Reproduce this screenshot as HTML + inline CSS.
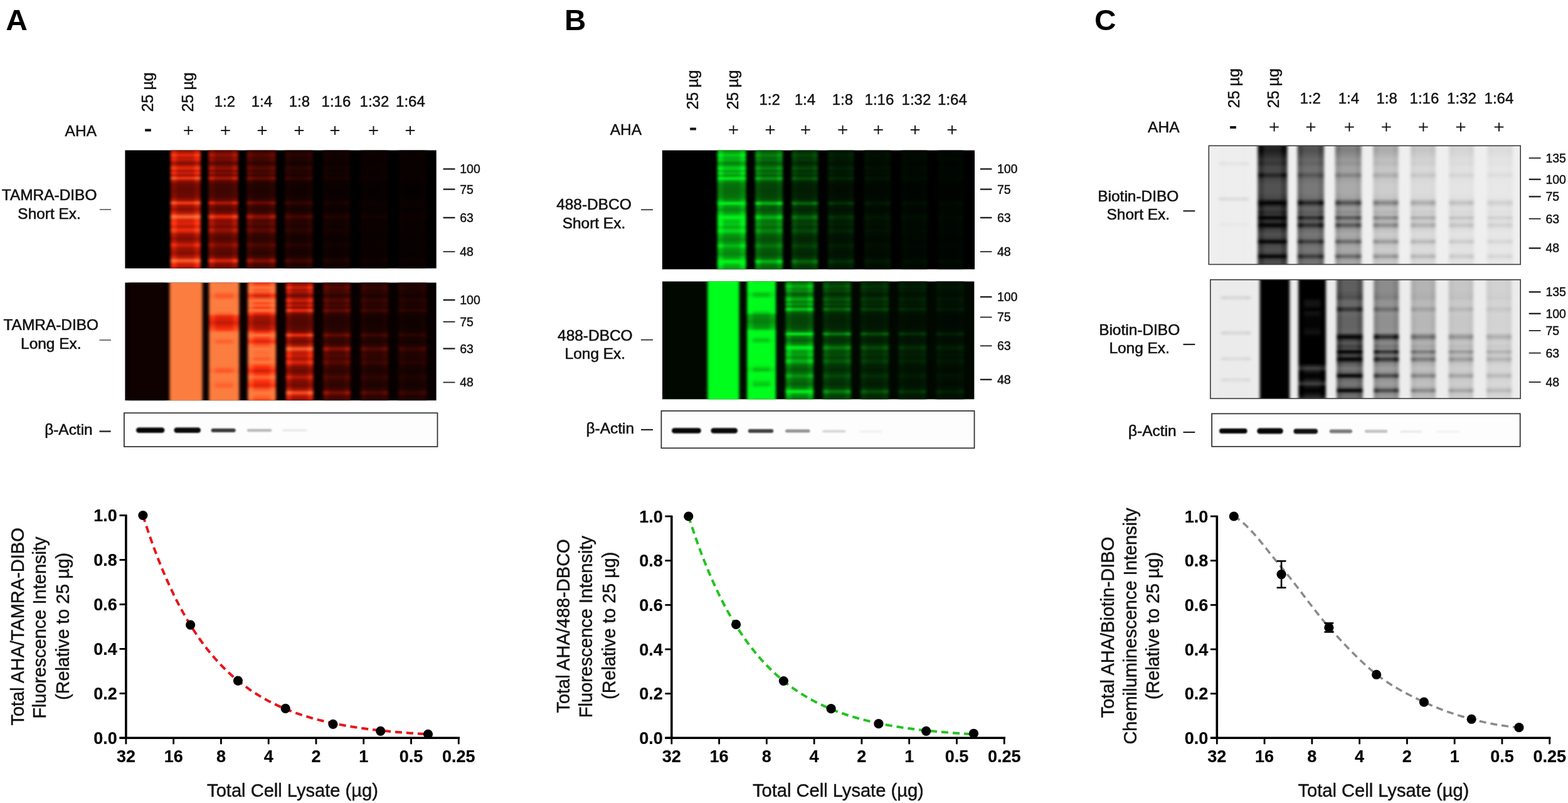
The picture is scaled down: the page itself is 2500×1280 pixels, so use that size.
<!DOCTYPE html>
<html><head><meta charset="utf-8"><title>Figure</title>
<style>html,body{margin:0;padding:0;background:#fff;}svg{display:block;}text{font-family:'Liberation Sans', Arial, sans-serif;}</style>
</head><body>
<svg width="2500" height="1280" viewBox="0 0 2500 1280">
<defs><clipPath id="c1"><rect x="199.40" y="239.50" width="496.30" height="188.30"/></clipPath>
<filter id="f1" x="-5%" y="-5%" width="110%" height="110%" color-interpolation-filters="sRGB"><feGaussianBlur stdDeviation="2.00 1.00"/></filter>
<linearGradient id="g2" x1="0" y1="0" x2="0" y2="1"><stop offset="0.0000" stop-color="#860d02"/><stop offset="0.0213" stop-color="#9f1304"/><stop offset="0.0532" stop-color="#ed260b"/><stop offset="0.0691" stop-color="#b51906"/><stop offset="0.0851" stop-color="#c31c07"/><stop offset="0.1197" stop-color="#7d0c02"/><stop offset="0.1596" stop-color="#ed260b"/><stop offset="0.1809" stop-color="#a71505"/><stop offset="0.2021" stop-color="#d11f08"/><stop offset="0.2181" stop-color="#991204"/><stop offset="0.2420" stop-color="#ff3513"/><stop offset="0.2660" stop-color="#8b0f03"/><stop offset="0.2926" stop-color="#6a0a02"/><stop offset="0.3457" stop-color="#610902"/><stop offset="0.3989" stop-color="#6f0a02"/><stop offset="0.4255" stop-color="#991204"/><stop offset="0.4468" stop-color="#ff3c17"/><stop offset="0.4681" stop-color="#a71505"/><stop offset="0.5000" stop-color="#830d02"/><stop offset="0.5319" stop-color="#b51906"/><stop offset="0.5612" stop-color="#fe6630"/><stop offset="0.5904" stop-color="#d11f08"/><stop offset="0.6223" stop-color="#df2209"/><stop offset="0.6436" stop-color="#b51906"/><stop offset="0.6729" stop-color="#fb290c"/><stop offset="0.7074" stop-color="#991204"/><stop offset="0.7447" stop-color="#7d0c02"/><stop offset="0.7713" stop-color="#991204"/><stop offset="0.7952" stop-color="#d11f08"/><stop offset="0.8245" stop-color="#991204"/><stop offset="0.8670" stop-color="#830d02"/><stop offset="0.8989" stop-color="#b51906"/><stop offset="0.9255" stop-color="#ff5e2b"/><stop offset="0.9521" stop-color="#d11f08"/><stop offset="0.9734" stop-color="#b51906"/><stop offset="1.0000" stop-color="#8b0f03"/></linearGradient>
<linearGradient id="g3" x1="0" y1="0" x2="0" y2="1"><stop offset="0.0000" stop-color="#a61505"/><stop offset="0.0213" stop-color="#c71d08"/><stop offset="0.0532" stop-color="#ff421b"/><stop offset="0.0691" stop-color="#e5240a"/><stop offset="0.0851" stop-color="#f8280b"/><stop offset="0.1197" stop-color="#9a1204"/><stop offset="0.1596" stop-color="#ff421b"/><stop offset="0.1809" stop-color="#d32009"/><stop offset="0.2021" stop-color="#ff3010"/><stop offset="0.2181" stop-color="#c01b07"/><stop offset="0.2420" stop-color="#ff5d2b"/><stop offset="0.2660" stop-color="#ad1706"/><stop offset="0.2926" stop-color="#800c02"/><stop offset="0.3457" stop-color="#750b02"/><stop offset="0.3989" stop-color="#880e03"/><stop offset="0.4255" stop-color="#c01b07"/><stop offset="0.4468" stop-color="#fe632f"/><stop offset="0.4681" stop-color="#d32009"/><stop offset="0.5000" stop-color="#a21405"/><stop offset="0.5319" stop-color="#e5240a"/><stop offset="0.5612" stop-color="#fc7d40"/><stop offset="0.5904" stop-color="#ff3010"/><stop offset="0.6223" stop-color="#ff3915"/><stop offset="0.6436" stop-color="#e5240a"/><stop offset="0.6729" stop-color="#ff4c20"/><stop offset="0.7074" stop-color="#c01b07"/><stop offset="0.7447" stop-color="#9a1204"/><stop offset="0.7713" stop-color="#c01b07"/><stop offset="0.7952" stop-color="#ff3010"/><stop offset="0.8245" stop-color="#c01b07"/><stop offset="0.8670" stop-color="#a21405"/><stop offset="0.8989" stop-color="#e5240a"/><stop offset="0.9255" stop-color="#fc7b3f"/><stop offset="0.9521" stop-color="#ff3010"/><stop offset="0.9734" stop-color="#e5240a"/><stop offset="1.0000" stop-color="#ad1706"/></linearGradient>
<linearGradient id="g4" x1="0" y1="0" x2="0" y2="1"><stop offset="0.0000" stop-color="#540801"/><stop offset="0.0213" stop-color="#630902"/><stop offset="0.0532" stop-color="#931003"/><stop offset="0.0691" stop-color="#710b02"/><stop offset="0.0851" stop-color="#790b02"/><stop offset="0.1197" stop-color="#4f0701"/><stop offset="0.1596" stop-color="#931003"/><stop offset="0.1809" stop-color="#680a02"/><stop offset="0.2021" stop-color="#820c02"/><stop offset="0.2181" stop-color="#600901"/><stop offset="0.2420" stop-color="#ac1605"/><stop offset="0.2660" stop-color="#570801"/><stop offset="0.2926" stop-color="#430601"/><stop offset="0.3457" stop-color="#3d0601"/><stop offset="0.3989" stop-color="#460701"/><stop offset="0.4255" stop-color="#600901"/><stop offset="0.4468" stop-color="#b41806"/><stop offset="0.4681" stop-color="#680a02"/><stop offset="0.5000" stop-color="#520801"/><stop offset="0.5319" stop-color="#710b02"/><stop offset="0.5612" stop-color="#f0260b"/><stop offset="0.5904" stop-color="#820c02"/><stop offset="0.6223" stop-color="#8a0e03"/><stop offset="0.6436" stop-color="#710b02"/><stop offset="0.6729" stop-color="#9b1204"/><stop offset="0.7074" stop-color="#600901"/><stop offset="0.7447" stop-color="#4f0701"/><stop offset="0.7713" stop-color="#600901"/><stop offset="0.7952" stop-color="#820c02"/><stop offset="0.8245" stop-color="#600901"/><stop offset="0.8670" stop-color="#520801"/><stop offset="0.8989" stop-color="#710b02"/><stop offset="0.9255" stop-color="#df2209"/><stop offset="0.9521" stop-color="#820c02"/><stop offset="0.9734" stop-color="#710b02"/><stop offset="1.0000" stop-color="#570801"/></linearGradient>
<linearGradient id="g5" x1="0" y1="0" x2="0" y2="1"><stop offset="0.0000" stop-color="#680a02"/><stop offset="0.0213" stop-color="#7c0c02"/><stop offset="0.0532" stop-color="#bc1a07"/><stop offset="0.0691" stop-color="#8f0f03"/><stop offset="0.0851" stop-color="#9a1204"/><stop offset="0.1197" stop-color="#610902"/><stop offset="0.1596" stop-color="#bc1a07"/><stop offset="0.1809" stop-color="#830d02"/><stop offset="0.2021" stop-color="#a61505"/><stop offset="0.2181" stop-color="#780b02"/><stop offset="0.2420" stop-color="#df2209"/><stop offset="0.2660" stop-color="#6c0a02"/><stop offset="0.2926" stop-color="#510801"/><stop offset="0.3457" stop-color="#4a0701"/><stop offset="0.3989" stop-color="#550801"/><stop offset="0.4255" stop-color="#780b02"/><stop offset="0.4468" stop-color="#ea250a"/><stop offset="0.4681" stop-color="#830d02"/><stop offset="0.5000" stop-color="#650a02"/><stop offset="0.5319" stop-color="#8f0f03"/><stop offset="0.5612" stop-color="#ff471d"/><stop offset="0.5904" stop-color="#a61505"/><stop offset="0.6223" stop-color="#b11806"/><stop offset="0.6436" stop-color="#8f0f03"/><stop offset="0.6729" stop-color="#c81d08"/><stop offset="0.7074" stop-color="#780b02"/><stop offset="0.7447" stop-color="#610902"/><stop offset="0.7713" stop-color="#780b02"/><stop offset="0.7952" stop-color="#a61505"/><stop offset="0.8245" stop-color="#780b02"/><stop offset="0.8670" stop-color="#650a02"/><stop offset="0.8989" stop-color="#8f0f03"/><stop offset="0.9255" stop-color="#ff3c17"/><stop offset="0.9521" stop-color="#a61505"/><stop offset="0.9734" stop-color="#8f0f03"/><stop offset="1.0000" stop-color="#6c0a02"/></linearGradient>
<linearGradient id="g6" x1="0" y1="0" x2="0" y2="1"><stop offset="0.0000" stop-color="#2d0401"/><stop offset="0.0213" stop-color="#370501"/><stop offset="0.0532" stop-color="#560801"/><stop offset="0.0691" stop-color="#400601"/><stop offset="0.0851" stop-color="#450601"/><stop offset="0.1197" stop-color="#2a0401"/><stop offset="0.1596" stop-color="#560801"/><stop offset="0.1809" stop-color="#3a0501"/><stop offset="0.2021" stop-color="#4b0701"/><stop offset="0.2181" stop-color="#350501"/><stop offset="0.2420" stop-color="#660a02"/><stop offset="0.2660" stop-color="#2f0401"/><stop offset="0.2926" stop-color="#220301"/><stop offset="0.3457" stop-color="#1f0300"/><stop offset="0.3989" stop-color="#240301"/><stop offset="0.4255" stop-color="#350501"/><stop offset="0.4468" stop-color="#6c0a02"/><stop offset="0.4681" stop-color="#3a0501"/><stop offset="0.5000" stop-color="#2c0401"/><stop offset="0.5319" stop-color="#400601"/><stop offset="0.5612" stop-color="#921003"/><stop offset="0.5904" stop-color="#4b0701"/><stop offset="0.6223" stop-color="#500801"/><stop offset="0.6436" stop-color="#400601"/><stop offset="0.6729" stop-color="#5b0901"/><stop offset="0.7074" stop-color="#350501"/><stop offset="0.7447" stop-color="#2a0401"/><stop offset="0.7713" stop-color="#350501"/><stop offset="0.7952" stop-color="#4b0701"/><stop offset="0.8245" stop-color="#350501"/><stop offset="0.8670" stop-color="#2c0401"/><stop offset="0.8989" stop-color="#400601"/><stop offset="0.9255" stop-color="#870e03"/><stop offset="0.9521" stop-color="#4b0701"/><stop offset="0.9734" stop-color="#400601"/><stop offset="1.0000" stop-color="#2f0401"/></linearGradient>
<linearGradient id="g7" x1="0" y1="0" x2="0" y2="1"><stop offset="0.0000" stop-color="#380501"/><stop offset="0.0213" stop-color="#450701"/><stop offset="0.0532" stop-color="#6f0a02"/><stop offset="0.0691" stop-color="#510801"/><stop offset="0.0851" stop-color="#590801"/><stop offset="0.1197" stop-color="#340501"/><stop offset="0.1596" stop-color="#6f0a02"/><stop offset="0.1809" stop-color="#4a0701"/><stop offset="0.2021" stop-color="#600902"/><stop offset="0.2181" stop-color="#420601"/><stop offset="0.2420" stop-color="#850d02"/><stop offset="0.2660" stop-color="#3b0601"/><stop offset="0.2926" stop-color="#290401"/><stop offset="0.3457" stop-color="#250301"/><stop offset="0.3989" stop-color="#2c0401"/><stop offset="0.4255" stop-color="#420601"/><stop offset="0.4468" stop-color="#8c0f03"/><stop offset="0.4681" stop-color="#4a0701"/><stop offset="0.5000" stop-color="#370501"/><stop offset="0.5319" stop-color="#510801"/><stop offset="0.5612" stop-color="#c01b07"/><stop offset="0.5904" stop-color="#600902"/><stop offset="0.6223" stop-color="#680a02"/><stop offset="0.6436" stop-color="#510801"/><stop offset="0.6729" stop-color="#760b02"/><stop offset="0.7074" stop-color="#420601"/><stop offset="0.7447" stop-color="#340501"/><stop offset="0.7713" stop-color="#420601"/><stop offset="0.7952" stop-color="#600902"/><stop offset="0.8245" stop-color="#420601"/><stop offset="0.8670" stop-color="#370501"/><stop offset="0.8989" stop-color="#510801"/><stop offset="0.9255" stop-color="#b11806"/><stop offset="0.9521" stop-color="#600902"/><stop offset="0.9734" stop-color="#510801"/><stop offset="1.0000" stop-color="#3b0601"/></linearGradient>
<linearGradient id="g8" x1="0" y1="0" x2="0" y2="1"><stop offset="0.0000" stop-color="#160200"/><stop offset="0.0213" stop-color="#1a0200"/><stop offset="0.0532" stop-color="#280401"/><stop offset="0.0691" stop-color="#1e0300"/><stop offset="0.0851" stop-color="#200301"/><stop offset="0.1197" stop-color="#140200"/><stop offset="0.1596" stop-color="#280401"/><stop offset="0.1809" stop-color="#1c0300"/><stop offset="0.2021" stop-color="#230301"/><stop offset="0.2181" stop-color="#190200"/><stop offset="0.2420" stop-color="#2f0401"/><stop offset="0.2660" stop-color="#170200"/><stop offset="0.2926" stop-color="#110200"/><stop offset="0.3457" stop-color="#0f0100"/><stop offset="0.3989" stop-color="#120200"/><stop offset="0.4255" stop-color="#190200"/><stop offset="0.4468" stop-color="#310501"/><stop offset="0.4681" stop-color="#1c0300"/><stop offset="0.5000" stop-color="#150200"/><stop offset="0.5319" stop-color="#1e0300"/><stop offset="0.5612" stop-color="#430601"/><stop offset="0.5904" stop-color="#230301"/><stop offset="0.6223" stop-color="#250301"/><stop offset="0.6436" stop-color="#1e0300"/><stop offset="0.6729" stop-color="#2a0401"/><stop offset="0.7074" stop-color="#190200"/><stop offset="0.7447" stop-color="#140200"/><stop offset="0.7713" stop-color="#190200"/><stop offset="0.7952" stop-color="#230301"/><stop offset="0.8245" stop-color="#190200"/><stop offset="0.8670" stop-color="#150200"/><stop offset="0.8989" stop-color="#1e0300"/><stop offset="0.9255" stop-color="#3e0601"/><stop offset="0.9521" stop-color="#230301"/><stop offset="0.9734" stop-color="#1e0300"/><stop offset="1.0000" stop-color="#170200"/></linearGradient>
<linearGradient id="g9" x1="0" y1="0" x2="0" y2="1"><stop offset="0.0000" stop-color="#1b0300"/><stop offset="0.0213" stop-color="#210301"/><stop offset="0.0532" stop-color="#330501"/><stop offset="0.0691" stop-color="#260401"/><stop offset="0.0851" stop-color="#290401"/><stop offset="0.1197" stop-color="#190200"/><stop offset="0.1596" stop-color="#330501"/><stop offset="0.1809" stop-color="#230301"/><stop offset="0.2021" stop-color="#2d0401"/><stop offset="0.2181" stop-color="#200300"/><stop offset="0.2420" stop-color="#3d0601"/><stop offset="0.2660" stop-color="#1c0300"/><stop offset="0.2926" stop-color="#140200"/><stop offset="0.3457" stop-color="#120200"/><stop offset="0.3989" stop-color="#160200"/><stop offset="0.4255" stop-color="#200300"/><stop offset="0.4468" stop-color="#410601"/><stop offset="0.4681" stop-color="#230301"/><stop offset="0.5000" stop-color="#1a0200"/><stop offset="0.5319" stop-color="#260401"/><stop offset="0.5612" stop-color="#580801"/><stop offset="0.5904" stop-color="#2d0401"/><stop offset="0.6223" stop-color="#300501"/><stop offset="0.6436" stop-color="#260401"/><stop offset="0.6729" stop-color="#370501"/><stop offset="0.7074" stop-color="#200300"/><stop offset="0.7447" stop-color="#190200"/><stop offset="0.7713" stop-color="#200300"/><stop offset="0.7952" stop-color="#2d0401"/><stop offset="0.8245" stop-color="#200300"/><stop offset="0.8670" stop-color="#1a0200"/><stop offset="0.8989" stop-color="#260401"/><stop offset="0.9255" stop-color="#510801"/><stop offset="0.9521" stop-color="#2d0401"/><stop offset="0.9734" stop-color="#260401"/><stop offset="1.0000" stop-color="#1c0300"/></linearGradient>
<linearGradient id="g10" x1="0" y1="0" x2="0" y2="1"><stop offset="0.0000" stop-color="#0b0100"/><stop offset="0.0213" stop-color="#0d0100"/><stop offset="0.0532" stop-color="#130200"/><stop offset="0.0691" stop-color="#0f0100"/><stop offset="0.0851" stop-color="#100100"/><stop offset="0.1197" stop-color="#0b0100"/><stop offset="0.1596" stop-color="#130200"/><stop offset="0.1809" stop-color="#0e0100"/><stop offset="0.2021" stop-color="#110200"/><stop offset="0.2181" stop-color="#0d0100"/><stop offset="0.2420" stop-color="#160200"/><stop offset="0.2660" stop-color="#0c0100"/><stop offset="0.2926" stop-color="#0a0100"/><stop offset="0.3457" stop-color="#090100"/><stop offset="0.3989" stop-color="#0a0100"/><stop offset="0.4255" stop-color="#0d0100"/><stop offset="0.4468" stop-color="#170200"/><stop offset="0.4681" stop-color="#0e0100"/><stop offset="0.5000" stop-color="#0b0100"/><stop offset="0.5319" stop-color="#0f0100"/><stop offset="0.5612" stop-color="#1d0300"/><stop offset="0.5904" stop-color="#110200"/><stop offset="0.6223" stop-color="#120200"/><stop offset="0.6436" stop-color="#0f0100"/><stop offset="0.6729" stop-color="#140200"/><stop offset="0.7074" stop-color="#0d0100"/><stop offset="0.7447" stop-color="#0b0100"/><stop offset="0.7713" stop-color="#0d0100"/><stop offset="0.7952" stop-color="#110200"/><stop offset="0.8245" stop-color="#0d0100"/><stop offset="0.8670" stop-color="#0b0100"/><stop offset="0.8989" stop-color="#0f0100"/><stop offset="0.9255" stop-color="#1b0300"/><stop offset="0.9521" stop-color="#110200"/><stop offset="0.9734" stop-color="#0f0100"/><stop offset="1.0000" stop-color="#0c0100"/></linearGradient>
<linearGradient id="g11" x1="0" y1="0" x2="0" y2="1"><stop offset="0.0000" stop-color="#0e0100"/><stop offset="0.0213" stop-color="#110200"/><stop offset="0.0532" stop-color="#180200"/><stop offset="0.0691" stop-color="#130200"/><stop offset="0.0851" stop-color="#140200"/><stop offset="0.1197" stop-color="#0d0100"/><stop offset="0.1596" stop-color="#180200"/><stop offset="0.1809" stop-color="#110200"/><stop offset="0.2021" stop-color="#150200"/><stop offset="0.2181" stop-color="#100200"/><stop offset="0.2420" stop-color="#1c0300"/><stop offset="0.2660" stop-color="#0f0100"/><stop offset="0.2926" stop-color="#0c0100"/><stop offset="0.3457" stop-color="#0b0100"/><stop offset="0.3989" stop-color="#0c0100"/><stop offset="0.4255" stop-color="#100200"/><stop offset="0.4468" stop-color="#1d0300"/><stop offset="0.4681" stop-color="#110200"/><stop offset="0.5000" stop-color="#0e0100"/><stop offset="0.5319" stop-color="#130200"/><stop offset="0.5612" stop-color="#260401"/><stop offset="0.5904" stop-color="#150200"/><stop offset="0.6223" stop-color="#170200"/><stop offset="0.6436" stop-color="#130200"/><stop offset="0.6729" stop-color="#190200"/><stop offset="0.7074" stop-color="#100200"/><stop offset="0.7447" stop-color="#0d0100"/><stop offset="0.7713" stop-color="#100200"/><stop offset="0.7952" stop-color="#150200"/><stop offset="0.8245" stop-color="#100200"/><stop offset="0.8670" stop-color="#0e0100"/><stop offset="0.8989" stop-color="#130200"/><stop offset="0.9255" stop-color="#240301"/><stop offset="0.9521" stop-color="#150200"/><stop offset="0.9734" stop-color="#130200"/><stop offset="1.0000" stop-color="#0f0100"/></linearGradient>
<linearGradient id="g12" x1="0" y1="0" x2="0" y2="1"><stop offset="0.0000" stop-color="#080100"/><stop offset="0.0213" stop-color="#090100"/><stop offset="0.0532" stop-color="#0b0100"/><stop offset="0.0691" stop-color="#090100"/><stop offset="0.0851" stop-color="#0a0100"/><stop offset="0.1197" stop-color="#070100"/><stop offset="0.1596" stop-color="#0b0100"/><stop offset="0.1809" stop-color="#090100"/><stop offset="0.2021" stop-color="#0a0100"/><stop offset="0.2181" stop-color="#080100"/><stop offset="0.2420" stop-color="#0d0100"/><stop offset="0.2660" stop-color="#080100"/><stop offset="0.2926" stop-color="#070100"/><stop offset="0.3457" stop-color="#060100"/><stop offset="0.3989" stop-color="#070100"/><stop offset="0.4255" stop-color="#080100"/><stop offset="0.4468" stop-color="#0d0100"/><stop offset="0.4681" stop-color="#090100"/><stop offset="0.5000" stop-color="#080100"/><stop offset="0.5319" stop-color="#090100"/><stop offset="0.5612" stop-color="#110200"/><stop offset="0.5904" stop-color="#0a0100"/><stop offset="0.6223" stop-color="#0b0100"/><stop offset="0.6436" stop-color="#090100"/><stop offset="0.6729" stop-color="#0c0100"/><stop offset="0.7074" stop-color="#080100"/><stop offset="0.7447" stop-color="#070100"/><stop offset="0.7713" stop-color="#080100"/><stop offset="0.7952" stop-color="#0a0100"/><stop offset="0.8245" stop-color="#080100"/><stop offset="0.8670" stop-color="#080100"/><stop offset="0.8989" stop-color="#090100"/><stop offset="0.9255" stop-color="#100100"/><stop offset="0.9521" stop-color="#0a0100"/><stop offset="0.9734" stop-color="#090100"/><stop offset="1.0000" stop-color="#080100"/></linearGradient>
<linearGradient id="g13" x1="0" y1="0" x2="0" y2="1"><stop offset="0.0000" stop-color="#090100"/><stop offset="0.0213" stop-color="#0b0100"/><stop offset="0.0532" stop-color="#0e0100"/><stop offset="0.0691" stop-color="#0c0100"/><stop offset="0.0851" stop-color="#0c0100"/><stop offset="0.1197" stop-color="#090100"/><stop offset="0.1596" stop-color="#0e0100"/><stop offset="0.1809" stop-color="#0b0100"/><stop offset="0.2021" stop-color="#0d0100"/><stop offset="0.2181" stop-color="#0a0100"/><stop offset="0.2420" stop-color="#100200"/><stop offset="0.2660" stop-color="#0a0100"/><stop offset="0.2926" stop-color="#080100"/><stop offset="0.3457" stop-color="#080100"/><stop offset="0.3989" stop-color="#080100"/><stop offset="0.4255" stop-color="#0a0100"/><stop offset="0.4468" stop-color="#110200"/><stop offset="0.4681" stop-color="#0b0100"/><stop offset="0.5000" stop-color="#090100"/><stop offset="0.5319" stop-color="#0c0100"/><stop offset="0.5612" stop-color="#160200"/><stop offset="0.5904" stop-color="#0d0100"/><stop offset="0.6223" stop-color="#0e0100"/><stop offset="0.6436" stop-color="#0c0100"/><stop offset="0.6729" stop-color="#0f0100"/><stop offset="0.7074" stop-color="#0a0100"/><stop offset="0.7447" stop-color="#090100"/><stop offset="0.7713" stop-color="#0a0100"/><stop offset="0.7952" stop-color="#0d0100"/><stop offset="0.8245" stop-color="#0a0100"/><stop offset="0.8670" stop-color="#090100"/><stop offset="0.8989" stop-color="#0c0100"/><stop offset="0.9255" stop-color="#140200"/><stop offset="0.9521" stop-color="#0d0100"/><stop offset="0.9734" stop-color="#0c0100"/><stop offset="1.0000" stop-color="#0a0100"/></linearGradient>
<linearGradient id="g14" x1="0" y1="0" x2="0" y2="1"><stop offset="0.0000" stop-color="#060100"/><stop offset="0.0213" stop-color="#070100"/><stop offset="0.0532" stop-color="#090100"/><stop offset="0.0691" stop-color="#070100"/><stop offset="0.0851" stop-color="#080100"/><stop offset="0.1197" stop-color="#060100"/><stop offset="0.1596" stop-color="#090100"/><stop offset="0.1809" stop-color="#070100"/><stop offset="0.2021" stop-color="#080100"/><stop offset="0.2181" stop-color="#070100"/><stop offset="0.2420" stop-color="#0a0100"/><stop offset="0.2660" stop-color="#060100"/><stop offset="0.2926" stop-color="#050100"/><stop offset="0.3457" stop-color="#050000"/><stop offset="0.3989" stop-color="#050100"/><stop offset="0.4255" stop-color="#070100"/><stop offset="0.4468" stop-color="#0a0100"/><stop offset="0.4681" stop-color="#070100"/><stop offset="0.5000" stop-color="#060100"/><stop offset="0.5319" stop-color="#070100"/><stop offset="0.5612" stop-color="#0d0100"/><stop offset="0.5904" stop-color="#080100"/><stop offset="0.6223" stop-color="#080100"/><stop offset="0.6436" stop-color="#070100"/><stop offset="0.6729" stop-color="#090100"/><stop offset="0.7074" stop-color="#070100"/><stop offset="0.7447" stop-color="#060100"/><stop offset="0.7713" stop-color="#070100"/><stop offset="0.7952" stop-color="#080100"/><stop offset="0.8245" stop-color="#070100"/><stop offset="0.8670" stop-color="#060100"/><stop offset="0.8989" stop-color="#070100"/><stop offset="0.9255" stop-color="#0c0100"/><stop offset="0.9521" stop-color="#080100"/><stop offset="0.9734" stop-color="#070100"/><stop offset="1.0000" stop-color="#060100"/></linearGradient>
<linearGradient id="g15" x1="0" y1="0" x2="0" y2="1"><stop offset="0.0000" stop-color="#070100"/><stop offset="0.0213" stop-color="#080100"/><stop offset="0.0532" stop-color="#0b0100"/><stop offset="0.0691" stop-color="#090100"/><stop offset="0.0851" stop-color="#0a0100"/><stop offset="0.1197" stop-color="#070100"/><stop offset="0.1596" stop-color="#0b0100"/><stop offset="0.1809" stop-color="#090100"/><stop offset="0.2021" stop-color="#0a0100"/><stop offset="0.2181" stop-color="#080100"/><stop offset="0.2420" stop-color="#0d0100"/><stop offset="0.2660" stop-color="#080100"/><stop offset="0.2926" stop-color="#060100"/><stop offset="0.3457" stop-color="#060100"/><stop offset="0.3989" stop-color="#070100"/><stop offset="0.4255" stop-color="#080100"/><stop offset="0.4468" stop-color="#0d0100"/><stop offset="0.4681" stop-color="#090100"/><stop offset="0.5000" stop-color="#070100"/><stop offset="0.5319" stop-color="#090100"/><stop offset="0.5612" stop-color="#110200"/><stop offset="0.5904" stop-color="#0a0100"/><stop offset="0.6223" stop-color="#0b0100"/><stop offset="0.6436" stop-color="#090100"/><stop offset="0.6729" stop-color="#0c0100"/><stop offset="0.7074" stop-color="#080100"/><stop offset="0.7447" stop-color="#070100"/><stop offset="0.7713" stop-color="#080100"/><stop offset="0.7952" stop-color="#0a0100"/><stop offset="0.8245" stop-color="#080100"/><stop offset="0.8670" stop-color="#070100"/><stop offset="0.8989" stop-color="#090100"/><stop offset="0.9255" stop-color="#100100"/><stop offset="0.9521" stop-color="#0a0100"/><stop offset="0.9734" stop-color="#090100"/><stop offset="1.0000" stop-color="#080100"/></linearGradient>
<clipPath id="c16"><rect x="199.40" y="450.50" width="496.20" height="187.80"/></clipPath>
<filter id="f16" x="-5%" y="-5%" width="110%" height="110%" color-interpolation-filters="sRGB"><feGaussianBlur stdDeviation="2.00 1.00"/></filter>
<linearGradient id="g17" x1="0" y1="0" x2="0" y2="1"><stop offset="0.0000" stop-color="#0e0100"/><stop offset="0.0213" stop-color="#0e0100"/><stop offset="0.0532" stop-color="#0e0100"/><stop offset="0.0691" stop-color="#0e0100"/><stop offset="0.0851" stop-color="#0e0100"/><stop offset="0.1197" stop-color="#0e0100"/><stop offset="0.1596" stop-color="#0e0100"/><stop offset="0.1809" stop-color="#0e0100"/><stop offset="0.2021" stop-color="#0e0100"/><stop offset="0.2181" stop-color="#0e0100"/><stop offset="0.2420" stop-color="#0e0100"/><stop offset="0.2660" stop-color="#0e0100"/><stop offset="0.2926" stop-color="#0e0100"/><stop offset="0.3457" stop-color="#0e0100"/><stop offset="0.3989" stop-color="#0e0100"/><stop offset="0.4255" stop-color="#0e0100"/><stop offset="0.4468" stop-color="#0e0100"/><stop offset="0.4681" stop-color="#0e0100"/><stop offset="0.5000" stop-color="#0e0100"/><stop offset="0.5319" stop-color="#0e0100"/><stop offset="0.5612" stop-color="#0e0100"/><stop offset="0.5904" stop-color="#0e0100"/><stop offset="0.6223" stop-color="#0e0100"/><stop offset="0.6436" stop-color="#0e0100"/><stop offset="0.6729" stop-color="#0e0100"/><stop offset="0.7074" stop-color="#0e0100"/><stop offset="0.7447" stop-color="#0e0100"/><stop offset="0.7713" stop-color="#0e0100"/><stop offset="0.7952" stop-color="#0e0100"/><stop offset="0.8245" stop-color="#0e0100"/><stop offset="0.8670" stop-color="#0e0100"/><stop offset="0.8989" stop-color="#0e0100"/><stop offset="0.9255" stop-color="#0e0100"/><stop offset="0.9521" stop-color="#0e0100"/><stop offset="0.9734" stop-color="#0e0100"/><stop offset="1.0000" stop-color="#0e0100"/></linearGradient>
<linearGradient id="g18" x1="0" y1="0" x2="0" y2="1"><stop offset="0.0000" stop-color="#fc7d40"/><stop offset="0.0213" stop-color="#fc7d40"/><stop offset="0.0532" stop-color="#fc7d40"/><stop offset="0.0691" stop-color="#fc7d40"/><stop offset="0.0851" stop-color="#fc7d40"/><stop offset="0.1197" stop-color="#fc7d40"/><stop offset="0.1596" stop-color="#fc7d40"/><stop offset="0.1809" stop-color="#fc7d40"/><stop offset="0.2021" stop-color="#fc7d40"/><stop offset="0.2181" stop-color="#fc7d40"/><stop offset="0.2420" stop-color="#fc7d40"/><stop offset="0.2660" stop-color="#fc7d40"/><stop offset="0.2926" stop-color="#fc7d40"/><stop offset="0.3457" stop-color="#fc7d40"/><stop offset="0.3989" stop-color="#fc7d40"/><stop offset="0.4255" stop-color="#fc7d40"/><stop offset="0.4468" stop-color="#fc7d40"/><stop offset="0.4681" stop-color="#fc7d40"/><stop offset="0.5000" stop-color="#fc7d40"/><stop offset="0.5319" stop-color="#fc7d40"/><stop offset="0.5612" stop-color="#fc7d40"/><stop offset="0.5904" stop-color="#fc7d40"/><stop offset="0.6223" stop-color="#fc7d40"/><stop offset="0.6436" stop-color="#fc7d40"/><stop offset="0.6729" stop-color="#fc7d40"/><stop offset="0.7074" stop-color="#fc7d40"/><stop offset="0.7447" stop-color="#fc7d40"/><stop offset="0.7713" stop-color="#fc7d40"/><stop offset="0.7952" stop-color="#fc7d40"/><stop offset="0.8245" stop-color="#fc7d40"/><stop offset="0.8670" stop-color="#fc7d40"/><stop offset="0.8989" stop-color="#fc7d40"/><stop offset="0.9255" stop-color="#fc7d40"/><stop offset="0.9521" stop-color="#fc7d40"/><stop offset="0.9734" stop-color="#fc7d40"/><stop offset="1.0000" stop-color="#fc7d40"/></linearGradient>
<linearGradient id="g19" x1="0" y1="0" x2="0" y2="1"><stop offset="0.0000" stop-color="#fe632f"/><stop offset="0.0213" stop-color="#fc7d40"/><stop offset="0.0532" stop-color="#fc7d40"/><stop offset="0.0691" stop-color="#fc7d40"/><stop offset="0.0851" stop-color="#fc7d40"/><stop offset="0.1197" stop-color="#ff5224"/><stop offset="0.1596" stop-color="#fc7d40"/><stop offset="0.1809" stop-color="#fc7d40"/><stop offset="0.2021" stop-color="#fc7d40"/><stop offset="0.2181" stop-color="#fc7b3f"/><stop offset="0.2420" stop-color="#fc7d40"/><stop offset="0.2660" stop-color="#fd6c34"/><stop offset="0.2926" stop-color="#eb250a"/><stop offset="0.3457" stop-color="#c01b07"/><stop offset="0.3989" stop-color="#ff2e0f"/><stop offset="0.4255" stop-color="#fc7b3f"/><stop offset="0.4468" stop-color="#fc7d40"/><stop offset="0.4681" stop-color="#fc7d40"/><stop offset="0.5000" stop-color="#ff5f2c"/><stop offset="0.5319" stop-color="#fc7d40"/><stop offset="0.5612" stop-color="#fc7d40"/><stop offset="0.5904" stop-color="#fc7d40"/><stop offset="0.6223" stop-color="#fc7d40"/><stop offset="0.6436" stop-color="#fc7d40"/><stop offset="0.6729" stop-color="#fc7d40"/><stop offset="0.7074" stop-color="#fc7b3f"/><stop offset="0.7447" stop-color="#ff5224"/><stop offset="0.7713" stop-color="#fc7b3f"/><stop offset="0.7952" stop-color="#fc7d40"/><stop offset="0.8245" stop-color="#fc7b3f"/><stop offset="0.8670" stop-color="#ff5f2c"/><stop offset="0.8989" stop-color="#fc7d40"/><stop offset="0.9255" stop-color="#fc7d40"/><stop offset="0.9521" stop-color="#fc7d40"/><stop offset="0.9734" stop-color="#fc7d40"/><stop offset="1.0000" stop-color="#fd6c34"/></linearGradient>
<linearGradient id="g20" x1="0" y1="0" x2="0" y2="1"><stop offset="0.0000" stop-color="#fc7c3f"/><stop offset="0.0213" stop-color="#fc7d40"/><stop offset="0.0532" stop-color="#fc7d40"/><stop offset="0.0691" stop-color="#fc7d40"/><stop offset="0.0851" stop-color="#fc7d40"/><stop offset="0.1197" stop-color="#fd7038"/><stop offset="0.1596" stop-color="#fc7d40"/><stop offset="0.1809" stop-color="#fc7d40"/><stop offset="0.2021" stop-color="#fc7d40"/><stop offset="0.2181" stop-color="#fc7d40"/><stop offset="0.2420" stop-color="#fc7d40"/><stop offset="0.2660" stop-color="#fc7d40"/><stop offset="0.2926" stop-color="#ff3a16"/><stop offset="0.3457" stop-color="#e6240a"/><stop offset="0.3989" stop-color="#ff4e21"/><stop offset="0.4255" stop-color="#fc7d40"/><stop offset="0.4468" stop-color="#fc7d40"/><stop offset="0.4681" stop-color="#fc7d40"/><stop offset="0.5000" stop-color="#fc7a3e"/><stop offset="0.5319" stop-color="#fc7d40"/><stop offset="0.5612" stop-color="#fc7d40"/><stop offset="0.5904" stop-color="#fc7d40"/><stop offset="0.6223" stop-color="#fc7d40"/><stop offset="0.6436" stop-color="#fc7d40"/><stop offset="0.6729" stop-color="#fc7d40"/><stop offset="0.7074" stop-color="#fc7d40"/><stop offset="0.7447" stop-color="#fd7038"/><stop offset="0.7713" stop-color="#fc7d40"/><stop offset="0.7952" stop-color="#fc7d40"/><stop offset="0.8245" stop-color="#fc7d40"/><stop offset="0.8670" stop-color="#fc7a3e"/><stop offset="0.8989" stop-color="#fc7d40"/><stop offset="0.9255" stop-color="#fc7d40"/><stop offset="0.9521" stop-color="#fc7d40"/><stop offset="0.9734" stop-color="#fc7d40"/><stop offset="1.0000" stop-color="#fc7d40"/></linearGradient>
<linearGradient id="g21" x1="0" y1="0" x2="0" y2="1"><stop offset="0.0000" stop-color="#e5240a"/><stop offset="0.0213" stop-color="#ff3b16"/><stop offset="0.0532" stop-color="#fc7b3f"/><stop offset="0.0691" stop-color="#ff5626"/><stop offset="0.0851" stop-color="#fe622e"/><stop offset="0.1197" stop-color="#d01f08"/><stop offset="0.1596" stop-color="#fc7b3f"/><stop offset="0.1809" stop-color="#ff451c"/><stop offset="0.2021" stop-color="#fd6c35"/><stop offset="0.2181" stop-color="#ff3412"/><stop offset="0.2420" stop-color="#fc7d40"/><stop offset="0.2660" stop-color="#f2270b"/><stop offset="0.2926" stop-color="#a11405"/><stop offset="0.3457" stop-color="#8d0f03"/><stop offset="0.3989" stop-color="#af1706"/><stop offset="0.4255" stop-color="#ff3412"/><stop offset="0.4468" stop-color="#fc7d40"/><stop offset="0.4681" stop-color="#ff451c"/><stop offset="0.5000" stop-color="#de2209"/><stop offset="0.5319" stop-color="#ff5626"/><stop offset="0.5612" stop-color="#fc7d40"/><stop offset="0.5904" stop-color="#fd6c35"/><stop offset="0.6223" stop-color="#fc763c"/><stop offset="0.6436" stop-color="#ff5626"/><stop offset="0.6729" stop-color="#fc7d40"/><stop offset="0.7074" stop-color="#ff3412"/><stop offset="0.7447" stop-color="#d01f08"/><stop offset="0.7713" stop-color="#ff3412"/><stop offset="0.7952" stop-color="#fd6c35"/><stop offset="0.8245" stop-color="#ff3412"/><stop offset="0.8670" stop-color="#de2209"/><stop offset="0.8989" stop-color="#ff5626"/><stop offset="0.9255" stop-color="#fc7d40"/><stop offset="0.9521" stop-color="#fd6c35"/><stop offset="0.9734" stop-color="#ff5626"/><stop offset="1.0000" stop-color="#f2270b"/></linearGradient>
<linearGradient id="g22" x1="0" y1="0" x2="0" y2="1"><stop offset="0.0000" stop-color="#ff3a16"/><stop offset="0.0213" stop-color="#ff602d"/><stop offset="0.0532" stop-color="#fc7d40"/><stop offset="0.0691" stop-color="#fc753b"/><stop offset="0.0851" stop-color="#fc7c3f"/><stop offset="0.1197" stop-color="#ff2c0e"/><stop offset="0.1596" stop-color="#fc7d40"/><stop offset="0.1809" stop-color="#fe6832"/><stop offset="0.2021" stop-color="#fc7d40"/><stop offset="0.2181" stop-color="#ff5a28"/><stop offset="0.2420" stop-color="#fc7d40"/><stop offset="0.2660" stop-color="#ff431b"/><stop offset="0.2926" stop-color="#c41c07"/><stop offset="0.3457" stop-color="#a91605"/><stop offset="0.3989" stop-color="#d62009"/><stop offset="0.4255" stop-color="#ff5a28"/><stop offset="0.4468" stop-color="#fc7d40"/><stop offset="0.4681" stop-color="#fe6832"/><stop offset="0.5000" stop-color="#ff3613"/><stop offset="0.5319" stop-color="#fc753b"/><stop offset="0.5612" stop-color="#fc7d40"/><stop offset="0.5904" stop-color="#fc7d40"/><stop offset="0.6223" stop-color="#fc7d40"/><stop offset="0.6436" stop-color="#fc753b"/><stop offset="0.6729" stop-color="#fc7d40"/><stop offset="0.7074" stop-color="#ff5a28"/><stop offset="0.7447" stop-color="#ff2c0e"/><stop offset="0.7713" stop-color="#ff5a28"/><stop offset="0.7952" stop-color="#fc7d40"/><stop offset="0.8245" stop-color="#ff5a28"/><stop offset="0.8670" stop-color="#ff3613"/><stop offset="0.8989" stop-color="#fc753b"/><stop offset="0.9255" stop-color="#fc7d40"/><stop offset="0.9521" stop-color="#fc7d40"/><stop offset="0.9734" stop-color="#fc753b"/><stop offset="1.0000" stop-color="#ff431b"/></linearGradient>
<linearGradient id="g23" x1="0" y1="0" x2="0" y2="1"><stop offset="0.0000" stop-color="#700a02"/><stop offset="0.0213" stop-color="#880e03"/><stop offset="0.0532" stop-color="#d21f08"/><stop offset="0.0691" stop-color="#9d1304"/><stop offset="0.0851" stop-color="#aa1605"/><stop offset="0.1197" stop-color="#680a02"/><stop offset="0.1596" stop-color="#d21f08"/><stop offset="0.1809" stop-color="#901003"/><stop offset="0.2021" stop-color="#b81906"/><stop offset="0.2181" stop-color="#820d02"/><stop offset="0.2420" stop-color="#fa290c"/><stop offset="0.2660" stop-color="#750b02"/><stop offset="0.2926" stop-color="#550801"/><stop offset="0.3457" stop-color="#4d0701"/><stop offset="0.3989" stop-color="#5a0801"/><stop offset="0.4255" stop-color="#820d02"/><stop offset="0.4468" stop-color="#ff2e0f"/><stop offset="0.4681" stop-color="#901003"/><stop offset="0.5000" stop-color="#6d0a02"/><stop offset="0.5319" stop-color="#9d1304"/><stop offset="0.5612" stop-color="#ff5c2a"/><stop offset="0.5904" stop-color="#b81906"/><stop offset="0.6223" stop-color="#c51c07"/><stop offset="0.6436" stop-color="#9d1304"/><stop offset="0.6729" stop-color="#e0230a"/><stop offset="0.7074" stop-color="#820d02"/><stop offset="0.7447" stop-color="#680a02"/><stop offset="0.7713" stop-color="#820d02"/><stop offset="0.7952" stop-color="#b81906"/><stop offset="0.8245" stop-color="#820d02"/><stop offset="0.8670" stop-color="#6d0a02"/><stop offset="0.8989" stop-color="#9d1304"/><stop offset="0.9255" stop-color="#ff4f22"/><stop offset="0.9521" stop-color="#b81906"/><stop offset="0.9734" stop-color="#9d1304"/><stop offset="1.0000" stop-color="#750b02"/></linearGradient>
<linearGradient id="g24" x1="0" y1="0" x2="0" y2="1"><stop offset="0.0000" stop-color="#8b0f03"/><stop offset="0.0213" stop-color="#ab1605"/><stop offset="0.0532" stop-color="#ff3211"/><stop offset="0.0691" stop-color="#c81d08"/><stop offset="0.0851" stop-color="#da2109"/><stop offset="0.1197" stop-color="#800c02"/><stop offset="0.1596" stop-color="#ff3211"/><stop offset="0.1809" stop-color="#b61906"/><stop offset="0.2021" stop-color="#ec260b"/><stop offset="0.2181" stop-color="#a41505"/><stop offset="0.2420" stop-color="#ff4d21"/><stop offset="0.2660" stop-color="#921003"/><stop offset="0.2926" stop-color="#670a02"/><stop offset="0.3457" stop-color="#5c0901"/><stop offset="0.3989" stop-color="#6e0a02"/><stop offset="0.4255" stop-color="#a41505"/><stop offset="0.4468" stop-color="#ff5626"/><stop offset="0.4681" stop-color="#b61906"/><stop offset="0.5000" stop-color="#880e03"/><stop offset="0.5319" stop-color="#c81d08"/><stop offset="0.5612" stop-color="#fc7b3e"/><stop offset="0.5904" stop-color="#ec260b"/><stop offset="0.6223" stop-color="#fe2a0c"/><stop offset="0.6436" stop-color="#c81d08"/><stop offset="0.6729" stop-color="#ff3b16"/><stop offset="0.7074" stop-color="#a41505"/><stop offset="0.7447" stop-color="#800c02"/><stop offset="0.7713" stop-color="#a41505"/><stop offset="0.7952" stop-color="#ec260b"/><stop offset="0.8245" stop-color="#a41505"/><stop offset="0.8670" stop-color="#880e03"/><stop offset="0.8989" stop-color="#c81d08"/><stop offset="0.9255" stop-color="#fd7339"/><stop offset="0.9521" stop-color="#ec260b"/><stop offset="0.9734" stop-color="#c81d08"/><stop offset="1.0000" stop-color="#921003"/></linearGradient>
<linearGradient id="g25" x1="0" y1="0" x2="0" y2="1"><stop offset="0.0000" stop-color="#2e0401"/><stop offset="0.0213" stop-color="#370501"/><stop offset="0.0532" stop-color="#520801"/><stop offset="0.0691" stop-color="#3f0601"/><stop offset="0.0851" stop-color="#430601"/><stop offset="0.1197" stop-color="#2b0401"/><stop offset="0.1596" stop-color="#520801"/><stop offset="0.1809" stop-color="#3a0501"/><stop offset="0.2021" stop-color="#480701"/><stop offset="0.2181" stop-color="#350501"/><stop offset="0.2420" stop-color="#610902"/><stop offset="0.2660" stop-color="#300401"/><stop offset="0.2926" stop-color="#240301"/><stop offset="0.3457" stop-color="#210301"/><stop offset="0.3989" stop-color="#260401"/><stop offset="0.4255" stop-color="#350501"/><stop offset="0.4468" stop-color="#660a02"/><stop offset="0.4681" stop-color="#3a0501"/><stop offset="0.5000" stop-color="#2d0401"/><stop offset="0.5319" stop-color="#3f0601"/><stop offset="0.5612" stop-color="#880e03"/><stop offset="0.5904" stop-color="#480701"/><stop offset="0.6223" stop-color="#4d0701"/><stop offset="0.6436" stop-color="#3f0601"/><stop offset="0.6729" stop-color="#570801"/><stop offset="0.7074" stop-color="#350501"/><stop offset="0.7447" stop-color="#2b0401"/><stop offset="0.7713" stop-color="#350501"/><stop offset="0.7952" stop-color="#480701"/><stop offset="0.8245" stop-color="#350501"/><stop offset="0.8670" stop-color="#2d0401"/><stop offset="0.8989" stop-color="#3f0601"/><stop offset="0.9255" stop-color="#7e0c02"/><stop offset="0.9521" stop-color="#480701"/><stop offset="0.9734" stop-color="#3f0601"/><stop offset="1.0000" stop-color="#300401"/></linearGradient>
<linearGradient id="g26" x1="0" y1="0" x2="0" y2="1"><stop offset="0.0000" stop-color="#390501"/><stop offset="0.0213" stop-color="#450601"/><stop offset="0.0532" stop-color="#6a0a02"/><stop offset="0.0691" stop-color="#4f0701"/><stop offset="0.0851" stop-color="#560801"/><stop offset="0.1197" stop-color="#350501"/><stop offset="0.1596" stop-color="#6a0a02"/><stop offset="0.1809" stop-color="#490701"/><stop offset="0.2021" stop-color="#5d0901"/><stop offset="0.2181" stop-color="#420601"/><stop offset="0.2420" stop-color="#7e0c02"/><stop offset="0.2660" stop-color="#3c0601"/><stop offset="0.2926" stop-color="#2c0401"/><stop offset="0.3457" stop-color="#280401"/><stop offset="0.3989" stop-color="#2f0401"/><stop offset="0.4255" stop-color="#420601"/><stop offset="0.4468" stop-color="#840d02"/><stop offset="0.4681" stop-color="#490701"/><stop offset="0.5000" stop-color="#380501"/><stop offset="0.5319" stop-color="#4f0701"/><stop offset="0.5612" stop-color="#b21806"/><stop offset="0.5904" stop-color="#5d0901"/><stop offset="0.6223" stop-color="#630902"/><stop offset="0.6436" stop-color="#4f0701"/><stop offset="0.6729" stop-color="#700b02"/><stop offset="0.7074" stop-color="#420601"/><stop offset="0.7447" stop-color="#350501"/><stop offset="0.7713" stop-color="#420601"/><stop offset="0.7952" stop-color="#5d0901"/><stop offset="0.8245" stop-color="#420601"/><stop offset="0.8670" stop-color="#380501"/><stop offset="0.8989" stop-color="#4f0701"/><stop offset="0.9255" stop-color="#a51505"/><stop offset="0.9521" stop-color="#5d0901"/><stop offset="0.9734" stop-color="#4f0701"/><stop offset="1.0000" stop-color="#3c0601"/></linearGradient>
<linearGradient id="g27" x1="0" y1="0" x2="0" y2="1"><stop offset="0.0000" stop-color="#1c0300"/><stop offset="0.0213" stop-color="#220301"/><stop offset="0.0532" stop-color="#330501"/><stop offset="0.0691" stop-color="#270401"/><stop offset="0.0851" stop-color="#2a0401"/><stop offset="0.1197" stop-color="#1b0200"/><stop offset="0.1596" stop-color="#330501"/><stop offset="0.1809" stop-color="#240301"/><stop offset="0.2021" stop-color="#2d0401"/><stop offset="0.2181" stop-color="#210301"/><stop offset="0.2420" stop-color="#3c0601"/><stop offset="0.2660" stop-color="#1e0300"/><stop offset="0.2926" stop-color="#160200"/><stop offset="0.3457" stop-color="#140200"/><stop offset="0.3989" stop-color="#180200"/><stop offset="0.4255" stop-color="#210301"/><stop offset="0.4468" stop-color="#3f0601"/><stop offset="0.4681" stop-color="#240301"/><stop offset="0.5000" stop-color="#1c0300"/><stop offset="0.5319" stop-color="#270401"/><stop offset="0.5612" stop-color="#540801"/><stop offset="0.5904" stop-color="#2d0401"/><stop offset="0.6223" stop-color="#300401"/><stop offset="0.6436" stop-color="#270401"/><stop offset="0.6729" stop-color="#360501"/><stop offset="0.7074" stop-color="#210301"/><stop offset="0.7447" stop-color="#1b0200"/><stop offset="0.7713" stop-color="#210301"/><stop offset="0.7952" stop-color="#2d0401"/><stop offset="0.8245" stop-color="#210301"/><stop offset="0.8670" stop-color="#1c0300"/><stop offset="0.8989" stop-color="#270401"/><stop offset="0.9255" stop-color="#4e0701"/><stop offset="0.9521" stop-color="#2d0401"/><stop offset="0.9734" stop-color="#270401"/><stop offset="1.0000" stop-color="#1e0300"/></linearGradient>
<linearGradient id="g28" x1="0" y1="0" x2="0" y2="1"><stop offset="0.0000" stop-color="#230301"/><stop offset="0.0213" stop-color="#2b0401"/><stop offset="0.0532" stop-color="#420601"/><stop offset="0.0691" stop-color="#310501"/><stop offset="0.0851" stop-color="#350501"/><stop offset="0.1197" stop-color="#210301"/><stop offset="0.1596" stop-color="#420601"/><stop offset="0.1809" stop-color="#2d0401"/><stop offset="0.2021" stop-color="#390501"/><stop offset="0.2181" stop-color="#290401"/><stop offset="0.2420" stop-color="#4e0701"/><stop offset="0.2660" stop-color="#250301"/><stop offset="0.2926" stop-color="#1b0300"/><stop offset="0.3457" stop-color="#190200"/><stop offset="0.3989" stop-color="#1d0300"/><stop offset="0.4255" stop-color="#290401"/><stop offset="0.4468" stop-color="#520801"/><stop offset="0.4681" stop-color="#2d0401"/><stop offset="0.5000" stop-color="#220301"/><stop offset="0.5319" stop-color="#310501"/><stop offset="0.5612" stop-color="#6f0a02"/><stop offset="0.5904" stop-color="#390501"/><stop offset="0.6223" stop-color="#3e0601"/><stop offset="0.6436" stop-color="#310501"/><stop offset="0.6729" stop-color="#460701"/><stop offset="0.7074" stop-color="#290401"/><stop offset="0.7447" stop-color="#210301"/><stop offset="0.7713" stop-color="#290401"/><stop offset="0.7952" stop-color="#390501"/><stop offset="0.8245" stop-color="#290401"/><stop offset="0.8670" stop-color="#220301"/><stop offset="0.8989" stop-color="#310501"/><stop offset="0.9255" stop-color="#670a02"/><stop offset="0.9521" stop-color="#390501"/><stop offset="0.9734" stop-color="#310501"/><stop offset="1.0000" stop-color="#250301"/></linearGradient>
<linearGradient id="g29" x1="0" y1="0" x2="0" y2="1"><stop offset="0.0000" stop-color="#140200"/><stop offset="0.0213" stop-color="#180200"/><stop offset="0.0532" stop-color="#230301"/><stop offset="0.0691" stop-color="#1b0300"/><stop offset="0.0851" stop-color="#1d0300"/><stop offset="0.1197" stop-color="#130200"/><stop offset="0.1596" stop-color="#230301"/><stop offset="0.1809" stop-color="#190200"/><stop offset="0.2021" stop-color="#1f0300"/><stop offset="0.2181" stop-color="#170200"/><stop offset="0.2420" stop-color="#290401"/><stop offset="0.2660" stop-color="#150200"/><stop offset="0.2926" stop-color="#110200"/><stop offset="0.3457" stop-color="#0f0100"/><stop offset="0.3989" stop-color="#110200"/><stop offset="0.4255" stop-color="#170200"/><stop offset="0.4468" stop-color="#2b0401"/><stop offset="0.4681" stop-color="#190200"/><stop offset="0.5000" stop-color="#140200"/><stop offset="0.5319" stop-color="#1b0300"/><stop offset="0.5612" stop-color="#380501"/><stop offset="0.5904" stop-color="#1f0300"/><stop offset="0.6223" stop-color="#210301"/><stop offset="0.6436" stop-color="#1b0300"/><stop offset="0.6729" stop-color="#250301"/><stop offset="0.7074" stop-color="#170200"/><stop offset="0.7447" stop-color="#130200"/><stop offset="0.7713" stop-color="#170200"/><stop offset="0.7952" stop-color="#1f0300"/><stop offset="0.8245" stop-color="#170200"/><stop offset="0.8670" stop-color="#140200"/><stop offset="0.8989" stop-color="#1b0300"/><stop offset="0.9255" stop-color="#340501"/><stop offset="0.9521" stop-color="#1f0300"/><stop offset="0.9734" stop-color="#1b0300"/><stop offset="1.0000" stop-color="#150200"/></linearGradient>
<linearGradient id="g30" x1="0" y1="0" x2="0" y2="1"><stop offset="0.0000" stop-color="#190200"/><stop offset="0.0213" stop-color="#1e0300"/><stop offset="0.0532" stop-color="#2d0401"/><stop offset="0.0691" stop-color="#220301"/><stop offset="0.0851" stop-color="#250301"/><stop offset="0.1197" stop-color="#180200"/><stop offset="0.1596" stop-color="#2d0401"/><stop offset="0.1809" stop-color="#200300"/><stop offset="0.2021" stop-color="#270401"/><stop offset="0.2181" stop-color="#1d0300"/><stop offset="0.2420" stop-color="#350501"/><stop offset="0.2660" stop-color="#1a0200"/><stop offset="0.2926" stop-color="#140200"/><stop offset="0.3457" stop-color="#120200"/><stop offset="0.3989" stop-color="#150200"/><stop offset="0.4255" stop-color="#1d0300"/><stop offset="0.4468" stop-color="#370501"/><stop offset="0.4681" stop-color="#200300"/><stop offset="0.5000" stop-color="#190200"/><stop offset="0.5319" stop-color="#220301"/><stop offset="0.5612" stop-color="#4a0701"/><stop offset="0.5904" stop-color="#270401"/><stop offset="0.6223" stop-color="#2a0401"/><stop offset="0.6436" stop-color="#220301"/><stop offset="0.6729" stop-color="#2f0401"/><stop offset="0.7074" stop-color="#1d0300"/><stop offset="0.7447" stop-color="#180200"/><stop offset="0.7713" stop-color="#1d0300"/><stop offset="0.7952" stop-color="#270401"/><stop offset="0.8245" stop-color="#1d0300"/><stop offset="0.8670" stop-color="#190200"/><stop offset="0.8989" stop-color="#220301"/><stop offset="0.9255" stop-color="#440601"/><stop offset="0.9521" stop-color="#270401"/><stop offset="0.9734" stop-color="#220301"/><stop offset="1.0000" stop-color="#1a0200"/></linearGradient>
<clipPath id="c31"><rect x="1055.80" y="239.60" width="498.20" height="189.70"/></clipPath>
<filter id="f31" x="-5%" y="-5%" width="110%" height="110%" color-interpolation-filters="sRGB"><feGaussianBlur stdDeviation="2.00 1.00"/></filter>
<linearGradient id="g32" x1="0" y1="0" x2="0" y2="1"><stop offset="0.0000" stop-color="#06850d"/><stop offset="0.0213" stop-color="#05980f"/><stop offset="0.0532" stop-color="#03d317"/><stop offset="0.0691" stop-color="#05a912"/><stop offset="0.0851" stop-color="#04b313"/><stop offset="0.1197" stop-color="#067e0c"/><stop offset="0.1596" stop-color="#03d317"/><stop offset="0.1809" stop-color="#059e10"/><stop offset="0.2021" stop-color="#04be14"/><stop offset="0.2181" stop-color="#05930f"/><stop offset="0.2420" stop-color="#02f21b"/><stop offset="0.2660" stop-color="#06890e"/><stop offset="0.2926" stop-color="#056f0b"/><stop offset="0.3457" stop-color="#05690a"/><stop offset="0.3989" stop-color="#06740b"/><stop offset="0.4255" stop-color="#05930f"/><stop offset="0.4468" stop-color="#00fe1c"/><stop offset="0.4681" stop-color="#059e10"/><stop offset="0.5000" stop-color="#06830d"/><stop offset="0.5319" stop-color="#05a912"/><stop offset="0.5612" stop-color="#01fc1c"/><stop offset="0.5904" stop-color="#04be14"/><stop offset="0.6223" stop-color="#04c816"/><stop offset="0.6436" stop-color="#05a912"/><stop offset="0.6729" stop-color="#03dd19"/><stop offset="0.7074" stop-color="#05930f"/><stop offset="0.7447" stop-color="#067e0c"/><stop offset="0.7713" stop-color="#05930f"/><stop offset="0.7952" stop-color="#04be14"/><stop offset="0.8245" stop-color="#05930f"/><stop offset="0.8670" stop-color="#06830d"/><stop offset="0.8989" stop-color="#05a912"/><stop offset="0.9255" stop-color="#00fd1c"/><stop offset="0.9521" stop-color="#04be14"/><stop offset="0.9734" stop-color="#05a912"/><stop offset="1.0000" stop-color="#06890e"/></linearGradient>
<linearGradient id="g33" x1="0" y1="0" x2="0" y2="1"><stop offset="0.0000" stop-color="#05a311"/><stop offset="0.0213" stop-color="#04bd14"/><stop offset="0.0532" stop-color="#01fa1c"/><stop offset="0.0691" stop-color="#03d317"/><stop offset="0.0851" stop-color="#03e219"/><stop offset="0.1197" stop-color="#059a10"/><stop offset="0.1596" stop-color="#01fa1c"/><stop offset="0.1809" stop-color="#04c515"/><stop offset="0.2021" stop-color="#02f01b"/><stop offset="0.2181" stop-color="#04b714"/><stop offset="0.2420" stop-color="#00fd1c"/><stop offset="0.2660" stop-color="#05a912"/><stop offset="0.2926" stop-color="#06870d"/><stop offset="0.3457" stop-color="#067e0c"/><stop offset="0.3989" stop-color="#068c0e"/><stop offset="0.4255" stop-color="#04b714"/><stop offset="0.4468" stop-color="#00fe1c"/><stop offset="0.4681" stop-color="#04c515"/><stop offset="0.5000" stop-color="#05a011"/><stop offset="0.5319" stop-color="#03d317"/><stop offset="0.5612" stop-color="#00fe1c"/><stop offset="0.5904" stop-color="#02f01b"/><stop offset="0.6223" stop-color="#02f81c"/><stop offset="0.6436" stop-color="#03d317"/><stop offset="0.6729" stop-color="#01fb1c"/><stop offset="0.7074" stop-color="#04b714"/><stop offset="0.7447" stop-color="#059a10"/><stop offset="0.7713" stop-color="#04b714"/><stop offset="0.7952" stop-color="#02f01b"/><stop offset="0.8245" stop-color="#04b714"/><stop offset="0.8670" stop-color="#05a011"/><stop offset="0.8989" stop-color="#03d317"/><stop offset="0.9255" stop-color="#00fe1c"/><stop offset="0.9521" stop-color="#02f01b"/><stop offset="0.9734" stop-color="#03d317"/><stop offset="1.0000" stop-color="#05a912"/></linearGradient>
<linearGradient id="g34" x1="0" y1="0" x2="0" y2="1"><stop offset="0.0000" stop-color="#045008"/><stop offset="0.0213" stop-color="#045b09"/><stop offset="0.0532" stop-color="#06800c"/><stop offset="0.0691" stop-color="#05660a"/><stop offset="0.0851" stop-color="#056c0a"/><stop offset="0.1197" stop-color="#044c07"/><stop offset="0.1596" stop-color="#06800c"/><stop offset="0.1809" stop-color="#055f09"/><stop offset="0.2021" stop-color="#06730b"/><stop offset="0.2181" stop-color="#045909"/><stop offset="0.2420" stop-color="#05930f"/><stop offset="0.2660" stop-color="#045208"/><stop offset="0.2926" stop-color="#034206"/><stop offset="0.3457" stop-color="#033e06"/><stop offset="0.3989" stop-color="#034507"/><stop offset="0.4255" stop-color="#045909"/><stop offset="0.4468" stop-color="#04c215"/><stop offset="0.4681" stop-color="#055f09"/><stop offset="0.5000" stop-color="#044e08"/><stop offset="0.5319" stop-color="#05660a"/><stop offset="0.5612" stop-color="#04b313"/><stop offset="0.5904" stop-color="#06730b"/><stop offset="0.6223" stop-color="#06790c"/><stop offset="0.6436" stop-color="#05660a"/><stop offset="0.6729" stop-color="#06860d"/><stop offset="0.7074" stop-color="#045909"/><stop offset="0.7447" stop-color="#044c07"/><stop offset="0.7713" stop-color="#045909"/><stop offset="0.7952" stop-color="#06730b"/><stop offset="0.8245" stop-color="#045909"/><stop offset="0.8670" stop-color="#044e08"/><stop offset="0.8989" stop-color="#05660a"/><stop offset="0.9255" stop-color="#04ba14"/><stop offset="0.9521" stop-color="#06730b"/><stop offset="0.9734" stop-color="#05660a"/><stop offset="1.0000" stop-color="#045208"/></linearGradient>
<linearGradient id="g35" x1="0" y1="0" x2="0" y2="1"><stop offset="0.0000" stop-color="#056209"/><stop offset="0.0213" stop-color="#05720b"/><stop offset="0.0532" stop-color="#05a311"/><stop offset="0.0691" stop-color="#06800c"/><stop offset="0.0851" stop-color="#06890e"/><stop offset="0.1197" stop-color="#045d09"/><stop offset="0.1596" stop-color="#05a311"/><stop offset="0.1809" stop-color="#06770b"/><stop offset="0.2021" stop-color="#05910f"/><stop offset="0.2181" stop-color="#056e0b"/><stop offset="0.2420" stop-color="#04bd14"/><stop offset="0.2660" stop-color="#05660a"/><stop offset="0.2926" stop-color="#045008"/><stop offset="0.3457" stop-color="#044b07"/><stop offset="0.3989" stop-color="#045408"/><stop offset="0.4255" stop-color="#056e0b"/><stop offset="0.4468" stop-color="#02f81c"/><stop offset="0.4681" stop-color="#06770b"/><stop offset="0.5000" stop-color="#056009"/><stop offset="0.5319" stop-color="#06800c"/><stop offset="0.5612" stop-color="#03e71a"/><stop offset="0.5904" stop-color="#05910f"/><stop offset="0.6223" stop-color="#059a10"/><stop offset="0.6436" stop-color="#06800c"/><stop offset="0.6729" stop-color="#04ab12"/><stop offset="0.7074" stop-color="#056e0b"/><stop offset="0.7447" stop-color="#045d09"/><stop offset="0.7713" stop-color="#056e0b"/><stop offset="0.7952" stop-color="#05910f"/><stop offset="0.8245" stop-color="#056e0b"/><stop offset="0.8670" stop-color="#056009"/><stop offset="0.8989" stop-color="#06800c"/><stop offset="0.9255" stop-color="#02f11b"/><stop offset="0.9521" stop-color="#05910f"/><stop offset="0.9734" stop-color="#06800c"/><stop offset="1.0000" stop-color="#05660a"/></linearGradient>
<linearGradient id="g36" x1="0" y1="0" x2="0" y2="1"><stop offset="0.0000" stop-color="#022604"/><stop offset="0.0213" stop-color="#022d04"/><stop offset="0.0532" stop-color="#034306"/><stop offset="0.0691" stop-color="#023305"/><stop offset="0.0851" stop-color="#033705"/><stop offset="0.1197" stop-color="#022303"/><stop offset="0.1596" stop-color="#034306"/><stop offset="0.1809" stop-color="#022f05"/><stop offset="0.2021" stop-color="#033b06"/><stop offset="0.2181" stop-color="#022b04"/><stop offset="0.2420" stop-color="#044f08"/><stop offset="0.2660" stop-color="#022704"/><stop offset="0.2926" stop-color="#011e03"/><stop offset="0.3457" stop-color="#011c03"/><stop offset="0.3989" stop-color="#021f03"/><stop offset="0.4255" stop-color="#022b04"/><stop offset="0.4468" stop-color="#056b0a"/><stop offset="0.4681" stop-color="#022f05"/><stop offset="0.5000" stop-color="#022504"/><stop offset="0.5319" stop-color="#023305"/><stop offset="0.5612" stop-color="#056209"/><stop offset="0.5904" stop-color="#033b06"/><stop offset="0.6223" stop-color="#033f06"/><stop offset="0.6436" stop-color="#023305"/><stop offset="0.6729" stop-color="#034707"/><stop offset="0.7074" stop-color="#022b04"/><stop offset="0.7447" stop-color="#022303"/><stop offset="0.7713" stop-color="#022b04"/><stop offset="0.7952" stop-color="#033b06"/><stop offset="0.8245" stop-color="#022b04"/><stop offset="0.8670" stop-color="#022504"/><stop offset="0.8989" stop-color="#023305"/><stop offset="0.9255" stop-color="#05660a"/><stop offset="0.9521" stop-color="#033b06"/><stop offset="0.9734" stop-color="#023305"/><stop offset="1.0000" stop-color="#022704"/></linearGradient>
<linearGradient id="g37" x1="0" y1="0" x2="0" y2="1"><stop offset="0.0000" stop-color="#022f04"/><stop offset="0.0213" stop-color="#033805"/><stop offset="0.0532" stop-color="#045608"/><stop offset="0.0691" stop-color="#034106"/><stop offset="0.0851" stop-color="#034607"/><stop offset="0.1197" stop-color="#022c04"/><stop offset="0.1596" stop-color="#045608"/><stop offset="0.1809" stop-color="#033c06"/><stop offset="0.2021" stop-color="#044b07"/><stop offset="0.2181" stop-color="#033605"/><stop offset="0.2420" stop-color="#05660a"/><stop offset="0.2660" stop-color="#023105"/><stop offset="0.2926" stop-color="#022403"/><stop offset="0.3457" stop-color="#022103"/><stop offset="0.3989" stop-color="#022604"/><stop offset="0.4255" stop-color="#033605"/><stop offset="0.4468" stop-color="#058c0e"/><stop offset="0.4681" stop-color="#033c06"/><stop offset="0.5000" stop-color="#022e04"/><stop offset="0.5319" stop-color="#034106"/><stop offset="0.5612" stop-color="#06800c"/><stop offset="0.5904" stop-color="#044b07"/><stop offset="0.6223" stop-color="#045108"/><stop offset="0.6436" stop-color="#034106"/><stop offset="0.6729" stop-color="#045b09"/><stop offset="0.7074" stop-color="#033605"/><stop offset="0.7447" stop-color="#022c04"/><stop offset="0.7713" stop-color="#033605"/><stop offset="0.7952" stop-color="#044b07"/><stop offset="0.8245" stop-color="#033605"/><stop offset="0.8670" stop-color="#022e04"/><stop offset="0.8989" stop-color="#034106"/><stop offset="0.9255" stop-color="#06860d"/><stop offset="0.9521" stop-color="#044b07"/><stop offset="0.9734" stop-color="#034106"/><stop offset="1.0000" stop-color="#023105"/></linearGradient>
<linearGradient id="g38" x1="0" y1="0" x2="0" y2="1"><stop offset="0.0000" stop-color="#011102"/><stop offset="0.0213" stop-color="#011402"/><stop offset="0.0532" stop-color="#011e03"/><stop offset="0.0691" stop-color="#011702"/><stop offset="0.0851" stop-color="#011902"/><stop offset="0.1197" stop-color="#011002"/><stop offset="0.1596" stop-color="#011e03"/><stop offset="0.1809" stop-color="#011502"/><stop offset="0.2021" stop-color="#011b03"/><stop offset="0.2181" stop-color="#011402"/><stop offset="0.2420" stop-color="#022403"/><stop offset="0.2660" stop-color="#011202"/><stop offset="0.2926" stop-color="#010e01"/><stop offset="0.3457" stop-color="#010c01"/><stop offset="0.3989" stop-color="#010e01"/><stop offset="0.4255" stop-color="#011402"/><stop offset="0.4468" stop-color="#023105"/><stop offset="0.4681" stop-color="#011502"/><stop offset="0.5000" stop-color="#011102"/><stop offset="0.5319" stop-color="#011702"/><stop offset="0.5612" stop-color="#022c04"/><stop offset="0.5904" stop-color="#011b03"/><stop offset="0.6223" stop-color="#011d03"/><stop offset="0.6436" stop-color="#011702"/><stop offset="0.6729" stop-color="#022003"/><stop offset="0.7074" stop-color="#011402"/><stop offset="0.7447" stop-color="#011002"/><stop offset="0.7713" stop-color="#011402"/><stop offset="0.7952" stop-color="#011b03"/><stop offset="0.8245" stop-color="#011402"/><stop offset="0.8670" stop-color="#011102"/><stop offset="0.8989" stop-color="#011702"/><stop offset="0.9255" stop-color="#022e04"/><stop offset="0.9521" stop-color="#011b03"/><stop offset="0.9734" stop-color="#011702"/><stop offset="1.0000" stop-color="#011202"/></linearGradient>
<linearGradient id="g39" x1="0" y1="0" x2="0" y2="1"><stop offset="0.0000" stop-color="#011502"/><stop offset="0.0213" stop-color="#011a02"/><stop offset="0.0532" stop-color="#022704"/><stop offset="0.0691" stop-color="#011d03"/><stop offset="0.0851" stop-color="#022003"/><stop offset="0.1197" stop-color="#011402"/><stop offset="0.1596" stop-color="#022704"/><stop offset="0.1809" stop-color="#011b03"/><stop offset="0.2021" stop-color="#022203"/><stop offset="0.2181" stop-color="#011902"/><stop offset="0.2420" stop-color="#022e04"/><stop offset="0.2660" stop-color="#011602"/><stop offset="0.2926" stop-color="#011002"/><stop offset="0.3457" stop-color="#010f01"/><stop offset="0.3989" stop-color="#011102"/><stop offset="0.4255" stop-color="#011902"/><stop offset="0.4468" stop-color="#034006"/><stop offset="0.4681" stop-color="#011b03"/><stop offset="0.5000" stop-color="#011502"/><stop offset="0.5319" stop-color="#011d03"/><stop offset="0.5612" stop-color="#033a06"/><stop offset="0.5904" stop-color="#022203"/><stop offset="0.6223" stop-color="#022504"/><stop offset="0.6436" stop-color="#011d03"/><stop offset="0.6729" stop-color="#022a04"/><stop offset="0.7074" stop-color="#011902"/><stop offset="0.7447" stop-color="#011402"/><stop offset="0.7713" stop-color="#011902"/><stop offset="0.7952" stop-color="#022203"/><stop offset="0.8245" stop-color="#011902"/><stop offset="0.8670" stop-color="#011502"/><stop offset="0.8989" stop-color="#011d03"/><stop offset="0.9255" stop-color="#033d06"/><stop offset="0.9521" stop-color="#022203"/><stop offset="0.9734" stop-color="#011d03"/><stop offset="1.0000" stop-color="#011602"/></linearGradient>
<linearGradient id="g40" x1="0" y1="0" x2="0" y2="1"><stop offset="0.0000" stop-color="#000a01"/><stop offset="0.0213" stop-color="#010b01"/><stop offset="0.0532" stop-color="#011002"/><stop offset="0.0691" stop-color="#010c01"/><stop offset="0.0851" stop-color="#010d01"/><stop offset="0.1197" stop-color="#000901"/><stop offset="0.1596" stop-color="#011002"/><stop offset="0.1809" stop-color="#010c01"/><stop offset="0.2021" stop-color="#010e01"/><stop offset="0.2181" stop-color="#010b01"/><stop offset="0.2420" stop-color="#011202"/><stop offset="0.2660" stop-color="#000a01"/><stop offset="0.2926" stop-color="#000801"/><stop offset="0.3457" stop-color="#000801"/><stop offset="0.3989" stop-color="#000801"/><stop offset="0.4255" stop-color="#010b01"/><stop offset="0.4468" stop-color="#011802"/><stop offset="0.4681" stop-color="#010c01"/><stop offset="0.5000" stop-color="#000a01"/><stop offset="0.5319" stop-color="#010c01"/><stop offset="0.5612" stop-color="#011602"/><stop offset="0.5904" stop-color="#010e01"/><stop offset="0.6223" stop-color="#010f01"/><stop offset="0.6436" stop-color="#010c01"/><stop offset="0.6729" stop-color="#011102"/><stop offset="0.7074" stop-color="#010b01"/><stop offset="0.7447" stop-color="#000901"/><stop offset="0.7713" stop-color="#010b01"/><stop offset="0.7952" stop-color="#010e01"/><stop offset="0.8245" stop-color="#010b01"/><stop offset="0.8670" stop-color="#000a01"/><stop offset="0.8989" stop-color="#010c01"/><stop offset="0.9255" stop-color="#011702"/><stop offset="0.9521" stop-color="#010e01"/><stop offset="0.9734" stop-color="#010c01"/><stop offset="1.0000" stop-color="#000a01"/></linearGradient>
<linearGradient id="g41" x1="0" y1="0" x2="0" y2="1"><stop offset="0.0000" stop-color="#010c01"/><stop offset="0.0213" stop-color="#010e01"/><stop offset="0.0532" stop-color="#011402"/><stop offset="0.0691" stop-color="#011002"/><stop offset="0.0851" stop-color="#011102"/><stop offset="0.1197" stop-color="#010b01"/><stop offset="0.1596" stop-color="#011402"/><stop offset="0.1809" stop-color="#010f01"/><stop offset="0.2021" stop-color="#011202"/><stop offset="0.2181" stop-color="#010e01"/><stop offset="0.2420" stop-color="#011802"/><stop offset="0.2660" stop-color="#010c01"/><stop offset="0.2926" stop-color="#000a01"/><stop offset="0.3457" stop-color="#000901"/><stop offset="0.3989" stop-color="#000a01"/><stop offset="0.4255" stop-color="#010e01"/><stop offset="0.4468" stop-color="#022003"/><stop offset="0.4681" stop-color="#010f01"/><stop offset="0.5000" stop-color="#010c01"/><stop offset="0.5319" stop-color="#011002"/><stop offset="0.5612" stop-color="#011d03"/><stop offset="0.5904" stop-color="#011202"/><stop offset="0.6223" stop-color="#011302"/><stop offset="0.6436" stop-color="#011002"/><stop offset="0.6729" stop-color="#011502"/><stop offset="0.7074" stop-color="#010e01"/><stop offset="0.7447" stop-color="#010b01"/><stop offset="0.7713" stop-color="#010e01"/><stop offset="0.7952" stop-color="#011202"/><stop offset="0.8245" stop-color="#010e01"/><stop offset="0.8670" stop-color="#010c01"/><stop offset="0.8989" stop-color="#011002"/><stop offset="0.9255" stop-color="#011e03"/><stop offset="0.9521" stop-color="#011202"/><stop offset="0.9734" stop-color="#011002"/><stop offset="1.0000" stop-color="#010c01"/></linearGradient>
<linearGradient id="g42" x1="0" y1="0" x2="0" y2="1"><stop offset="0.0000" stop-color="#000601"/><stop offset="0.0213" stop-color="#000701"/><stop offset="0.0532" stop-color="#000a01"/><stop offset="0.0691" stop-color="#000801"/><stop offset="0.0851" stop-color="#000801"/><stop offset="0.1197" stop-color="#000601"/><stop offset="0.1596" stop-color="#000a01"/><stop offset="0.1809" stop-color="#000701"/><stop offset="0.2021" stop-color="#000901"/><stop offset="0.2181" stop-color="#000701"/><stop offset="0.2420" stop-color="#010b01"/><stop offset="0.2660" stop-color="#000601"/><stop offset="0.2926" stop-color="#000501"/><stop offset="0.3457" stop-color="#000500"/><stop offset="0.3989" stop-color="#000501"/><stop offset="0.4255" stop-color="#000701"/><stop offset="0.4468" stop-color="#010f01"/><stop offset="0.4681" stop-color="#000701"/><stop offset="0.5000" stop-color="#000601"/><stop offset="0.5319" stop-color="#000801"/><stop offset="0.5612" stop-color="#010e01"/><stop offset="0.5904" stop-color="#000901"/><stop offset="0.6223" stop-color="#000901"/><stop offset="0.6436" stop-color="#000801"/><stop offset="0.6729" stop-color="#000a01"/><stop offset="0.7074" stop-color="#000701"/><stop offset="0.7447" stop-color="#000601"/><stop offset="0.7713" stop-color="#000701"/><stop offset="0.7952" stop-color="#000901"/><stop offset="0.8245" stop-color="#000701"/><stop offset="0.8670" stop-color="#000601"/><stop offset="0.8989" stop-color="#000801"/><stop offset="0.9255" stop-color="#010e01"/><stop offset="0.9521" stop-color="#000901"/><stop offset="0.9734" stop-color="#000801"/><stop offset="1.0000" stop-color="#000601"/></linearGradient>
<linearGradient id="g43" x1="0" y1="0" x2="0" y2="1"><stop offset="0.0000" stop-color="#000801"/><stop offset="0.0213" stop-color="#000901"/><stop offset="0.0532" stop-color="#010c01"/><stop offset="0.0691" stop-color="#000a01"/><stop offset="0.0851" stop-color="#010b01"/><stop offset="0.1197" stop-color="#000701"/><stop offset="0.1596" stop-color="#010c01"/><stop offset="0.1809" stop-color="#000901"/><stop offset="0.2021" stop-color="#010b01"/><stop offset="0.2181" stop-color="#000901"/><stop offset="0.2420" stop-color="#010e01"/><stop offset="0.2660" stop-color="#000801"/><stop offset="0.2926" stop-color="#000601"/><stop offset="0.3457" stop-color="#000601"/><stop offset="0.3989" stop-color="#000701"/><stop offset="0.4255" stop-color="#000901"/><stop offset="0.4468" stop-color="#011302"/><stop offset="0.4681" stop-color="#000901"/><stop offset="0.5000" stop-color="#000801"/><stop offset="0.5319" stop-color="#000a01"/><stop offset="0.5612" stop-color="#011102"/><stop offset="0.5904" stop-color="#010b01"/><stop offset="0.6223" stop-color="#010c01"/><stop offset="0.6436" stop-color="#000a01"/><stop offset="0.6729" stop-color="#010d01"/><stop offset="0.7074" stop-color="#000901"/><stop offset="0.7447" stop-color="#000701"/><stop offset="0.7713" stop-color="#000901"/><stop offset="0.7952" stop-color="#010b01"/><stop offset="0.8245" stop-color="#000901"/><stop offset="0.8670" stop-color="#000801"/><stop offset="0.8989" stop-color="#000a01"/><stop offset="0.9255" stop-color="#011202"/><stop offset="0.9521" stop-color="#010b01"/><stop offset="0.9734" stop-color="#000a01"/><stop offset="1.0000" stop-color="#000801"/></linearGradient>
<linearGradient id="g44" x1="0" y1="0" x2="0" y2="1"><stop offset="0.0000" stop-color="#000500"/><stop offset="0.0213" stop-color="#000501"/><stop offset="0.0532" stop-color="#000701"/><stop offset="0.0691" stop-color="#000601"/><stop offset="0.0851" stop-color="#000601"/><stop offset="0.1197" stop-color="#000400"/><stop offset="0.1596" stop-color="#000701"/><stop offset="0.1809" stop-color="#000601"/><stop offset="0.2021" stop-color="#000701"/><stop offset="0.2181" stop-color="#000500"/><stop offset="0.2420" stop-color="#000801"/><stop offset="0.2660" stop-color="#000500"/><stop offset="0.2926" stop-color="#000400"/><stop offset="0.3457" stop-color="#000400"/><stop offset="0.3989" stop-color="#000400"/><stop offset="0.4255" stop-color="#000500"/><stop offset="0.4468" stop-color="#010b01"/><stop offset="0.4681" stop-color="#000601"/><stop offset="0.5000" stop-color="#000500"/><stop offset="0.5319" stop-color="#000601"/><stop offset="0.5612" stop-color="#000a01"/><stop offset="0.5904" stop-color="#000701"/><stop offset="0.6223" stop-color="#000701"/><stop offset="0.6436" stop-color="#000601"/><stop offset="0.6729" stop-color="#000801"/><stop offset="0.7074" stop-color="#000500"/><stop offset="0.7447" stop-color="#000400"/><stop offset="0.7713" stop-color="#000500"/><stop offset="0.7952" stop-color="#000701"/><stop offset="0.8245" stop-color="#000500"/><stop offset="0.8670" stop-color="#000500"/><stop offset="0.8989" stop-color="#000601"/><stop offset="0.9255" stop-color="#010b01"/><stop offset="0.9521" stop-color="#000701"/><stop offset="0.9734" stop-color="#000601"/><stop offset="1.0000" stop-color="#000500"/></linearGradient>
<linearGradient id="g45" x1="0" y1="0" x2="0" y2="1"><stop offset="0.0000" stop-color="#000601"/><stop offset="0.0213" stop-color="#000701"/><stop offset="0.0532" stop-color="#000901"/><stop offset="0.0691" stop-color="#000701"/><stop offset="0.0851" stop-color="#000801"/><stop offset="0.1197" stop-color="#000501"/><stop offset="0.1596" stop-color="#000901"/><stop offset="0.1809" stop-color="#000701"/><stop offset="0.2021" stop-color="#000801"/><stop offset="0.2181" stop-color="#000601"/><stop offset="0.2420" stop-color="#010b01"/><stop offset="0.2660" stop-color="#000601"/><stop offset="0.2926" stop-color="#000500"/><stop offset="0.3457" stop-color="#000400"/><stop offset="0.3989" stop-color="#000500"/><stop offset="0.4255" stop-color="#000601"/><stop offset="0.4468" stop-color="#010e01"/><stop offset="0.4681" stop-color="#000701"/><stop offset="0.5000" stop-color="#000601"/><stop offset="0.5319" stop-color="#000701"/><stop offset="0.5612" stop-color="#010d01"/><stop offset="0.5904" stop-color="#000801"/><stop offset="0.6223" stop-color="#000901"/><stop offset="0.6436" stop-color="#000701"/><stop offset="0.6729" stop-color="#000a01"/><stop offset="0.7074" stop-color="#000601"/><stop offset="0.7447" stop-color="#000501"/><stop offset="0.7713" stop-color="#000601"/><stop offset="0.7952" stop-color="#000801"/><stop offset="0.8245" stop-color="#000601"/><stop offset="0.8670" stop-color="#000601"/><stop offset="0.8989" stop-color="#000701"/><stop offset="0.9255" stop-color="#010e01"/><stop offset="0.9521" stop-color="#000801"/><stop offset="0.9734" stop-color="#000701"/><stop offset="1.0000" stop-color="#000601"/></linearGradient>
<clipPath id="c46"><rect x="1056.00" y="448.60" width="497.30" height="187.80"/></clipPath>
<filter id="f46" x="-5%" y="-5%" width="110%" height="110%" color-interpolation-filters="sRGB"><feGaussianBlur stdDeviation="2.00 1.00"/></filter>
<linearGradient id="g47" x1="0" y1="0" x2="0" y2="1"><stop offset="0.0000" stop-color="#00fe1c"/><stop offset="0.0213" stop-color="#00fe1c"/><stop offset="0.0532" stop-color="#00fe1c"/><stop offset="0.0691" stop-color="#00fe1c"/><stop offset="0.0851" stop-color="#00fe1c"/><stop offset="0.1197" stop-color="#00fe1c"/><stop offset="0.1596" stop-color="#00fe1c"/><stop offset="0.1809" stop-color="#00fe1c"/><stop offset="0.2021" stop-color="#00fe1c"/><stop offset="0.2181" stop-color="#00fe1c"/><stop offset="0.2420" stop-color="#00fe1c"/><stop offset="0.2660" stop-color="#00fe1c"/><stop offset="0.2926" stop-color="#00fe1c"/><stop offset="0.3457" stop-color="#00fe1c"/><stop offset="0.3989" stop-color="#00fe1c"/><stop offset="0.4255" stop-color="#00fe1c"/><stop offset="0.4468" stop-color="#00fe1c"/><stop offset="0.4681" stop-color="#00fe1c"/><stop offset="0.5000" stop-color="#00fe1c"/><stop offset="0.5319" stop-color="#00fe1c"/><stop offset="0.5612" stop-color="#00fe1c"/><stop offset="0.5904" stop-color="#00fe1c"/><stop offset="0.6223" stop-color="#00fe1c"/><stop offset="0.6436" stop-color="#00fe1c"/><stop offset="0.6729" stop-color="#00fe1c"/><stop offset="0.7074" stop-color="#00fe1c"/><stop offset="0.7447" stop-color="#00fe1c"/><stop offset="0.7713" stop-color="#00fe1c"/><stop offset="0.7952" stop-color="#00fe1c"/><stop offset="0.8245" stop-color="#00fe1c"/><stop offset="0.8670" stop-color="#00fe1c"/><stop offset="0.8989" stop-color="#00fe1c"/><stop offset="0.9255" stop-color="#00fe1c"/><stop offset="0.9521" stop-color="#00fe1c"/><stop offset="0.9734" stop-color="#00fe1c"/><stop offset="1.0000" stop-color="#00fe1c"/></linearGradient>
<linearGradient id="g48" x1="0" y1="0" x2="0" y2="1"><stop offset="0.0000" stop-color="#03cc16"/><stop offset="0.0213" stop-color="#02f91c"/><stop offset="0.0532" stop-color="#00fe1c"/><stop offset="0.0691" stop-color="#00fd1c"/><stop offset="0.0851" stop-color="#00fe1c"/><stop offset="0.1197" stop-color="#04ba14"/><stop offset="0.1596" stop-color="#00fe1c"/><stop offset="0.1809" stop-color="#01fa1c"/><stop offset="0.2021" stop-color="#00fe1c"/><stop offset="0.2181" stop-color="#02f71c"/><stop offset="0.2420" stop-color="#00fe1c"/><stop offset="0.2660" stop-color="#03d818"/><stop offset="0.2926" stop-color="#058f0e"/><stop offset="0.3457" stop-color="#067d0c"/><stop offset="0.3989" stop-color="#059b10"/><stop offset="0.4255" stop-color="#02f71c"/><stop offset="0.4468" stop-color="#00fe1c"/><stop offset="0.4681" stop-color="#01fa1c"/><stop offset="0.5000" stop-color="#04c616"/><stop offset="0.5319" stop-color="#00fd1c"/><stop offset="0.5612" stop-color="#00fe1c"/><stop offset="0.5904" stop-color="#00fe1c"/><stop offset="0.6223" stop-color="#00fe1c"/><stop offset="0.6436" stop-color="#00fd1c"/><stop offset="0.6729" stop-color="#00fe1c"/><stop offset="0.7074" stop-color="#02f71c"/><stop offset="0.7447" stop-color="#04ba14"/><stop offset="0.7713" stop-color="#02f71c"/><stop offset="0.7952" stop-color="#00fe1c"/><stop offset="0.8245" stop-color="#02f71c"/><stop offset="0.8670" stop-color="#04c616"/><stop offset="0.8989" stop-color="#00fd1c"/><stop offset="0.9255" stop-color="#00fe1c"/><stop offset="0.9521" stop-color="#00fe1c"/><stop offset="0.9734" stop-color="#00fd1c"/><stop offset="1.0000" stop-color="#03d818"/></linearGradient>
<linearGradient id="g49" x1="0" y1="0" x2="0" y2="1"><stop offset="0.0000" stop-color="#02f91c"/><stop offset="0.0213" stop-color="#00fe1c"/><stop offset="0.0532" stop-color="#00fe1c"/><stop offset="0.0691" stop-color="#00fe1c"/><stop offset="0.0851" stop-color="#00fe1c"/><stop offset="0.1197" stop-color="#03e81a"/><stop offset="0.1596" stop-color="#00fe1c"/><stop offset="0.1809" stop-color="#00fe1c"/><stop offset="0.2021" stop-color="#00fe1c"/><stop offset="0.2181" stop-color="#00fd1c"/><stop offset="0.2420" stop-color="#00fe1c"/><stop offset="0.2660" stop-color="#01fa1c"/><stop offset="0.2926" stop-color="#04ae12"/><stop offset="0.3457" stop-color="#05960f"/><stop offset="0.3989" stop-color="#04bf15"/><stop offset="0.4255" stop-color="#00fd1c"/><stop offset="0.4468" stop-color="#00fe1c"/><stop offset="0.4681" stop-color="#00fe1c"/><stop offset="0.5000" stop-color="#02f81c"/><stop offset="0.5319" stop-color="#00fe1c"/><stop offset="0.5612" stop-color="#00fe1c"/><stop offset="0.5904" stop-color="#00fe1c"/><stop offset="0.6223" stop-color="#00fe1c"/><stop offset="0.6436" stop-color="#00fe1c"/><stop offset="0.6729" stop-color="#00fe1c"/><stop offset="0.7074" stop-color="#00fd1c"/><stop offset="0.7447" stop-color="#03e81a"/><stop offset="0.7713" stop-color="#00fd1c"/><stop offset="0.7952" stop-color="#00fe1c"/><stop offset="0.8245" stop-color="#00fd1c"/><stop offset="0.8670" stop-color="#02f81c"/><stop offset="0.8989" stop-color="#00fe1c"/><stop offset="0.9255" stop-color="#00fe1c"/><stop offset="0.9521" stop-color="#00fe1c"/><stop offset="0.9734" stop-color="#00fe1c"/><stop offset="1.0000" stop-color="#01fa1c"/></linearGradient>
<linearGradient id="g50" x1="0" y1="0" x2="0" y2="1"><stop offset="0.0000" stop-color="#045d09"/><stop offset="0.0213" stop-color="#05700b"/><stop offset="0.0532" stop-color="#04ab12"/><stop offset="0.0691" stop-color="#06810d"/><stop offset="0.0851" stop-color="#068c0e"/><stop offset="0.1197" stop-color="#045608"/><stop offset="0.1596" stop-color="#04ab12"/><stop offset="0.1809" stop-color="#06770b"/><stop offset="0.2021" stop-color="#05960f"/><stop offset="0.2181" stop-color="#056c0a"/><stop offset="0.2420" stop-color="#03cb16"/><stop offset="0.2660" stop-color="#056109"/><stop offset="0.2926" stop-color="#034707"/><stop offset="0.3457" stop-color="#034106"/><stop offset="0.3989" stop-color="#044c07"/><stop offset="0.4255" stop-color="#056c0a"/><stop offset="0.4468" stop-color="#01fb1c"/><stop offset="0.4681" stop-color="#06770b"/><stop offset="0.5000" stop-color="#045b09"/><stop offset="0.5319" stop-color="#06810d"/><stop offset="0.5612" stop-color="#02f81c"/><stop offset="0.5904" stop-color="#05960f"/><stop offset="0.6223" stop-color="#05a111"/><stop offset="0.6436" stop-color="#06810d"/><stop offset="0.6729" stop-color="#04b613"/><stop offset="0.7074" stop-color="#056c0a"/><stop offset="0.7447" stop-color="#045608"/><stop offset="0.7713" stop-color="#056c0a"/><stop offset="0.7952" stop-color="#05960f"/><stop offset="0.8245" stop-color="#056c0a"/><stop offset="0.8670" stop-color="#045b09"/><stop offset="0.8989" stop-color="#06810d"/><stop offset="0.9255" stop-color="#02f91c"/><stop offset="0.9521" stop-color="#05960f"/><stop offset="0.9734" stop-color="#06810d"/><stop offset="1.0000" stop-color="#056109"/></linearGradient>
<linearGradient id="g51" x1="0" y1="0" x2="0" y2="1"><stop offset="0.0000" stop-color="#06740b"/><stop offset="0.0213" stop-color="#058d0e"/><stop offset="0.0532" stop-color="#03dd18"/><stop offset="0.0691" stop-color="#05a411"/><stop offset="0.0851" stop-color="#04b213"/><stop offset="0.1197" stop-color="#056b0a"/><stop offset="0.1596" stop-color="#03dd18"/><stop offset="0.1809" stop-color="#05960f"/><stop offset="0.2021" stop-color="#04c115"/><stop offset="0.2181" stop-color="#06880d"/><stop offset="0.2420" stop-color="#02f91c"/><stop offset="0.2660" stop-color="#06790c"/><stop offset="0.2926" stop-color="#045708"/><stop offset="0.3457" stop-color="#044e07"/><stop offset="0.3989" stop-color="#045c09"/><stop offset="0.4255" stop-color="#06880d"/><stop offset="0.4468" stop-color="#00fe1c"/><stop offset="0.4681" stop-color="#05960f"/><stop offset="0.5000" stop-color="#05710b"/><stop offset="0.5319" stop-color="#05a411"/><stop offset="0.5612" stop-color="#00fe1c"/><stop offset="0.5904" stop-color="#04c115"/><stop offset="0.6223" stop-color="#03cf17"/><stop offset="0.6436" stop-color="#05a411"/><stop offset="0.6729" stop-color="#02eb1a"/><stop offset="0.7074" stop-color="#06880d"/><stop offset="0.7447" stop-color="#056b0a"/><stop offset="0.7713" stop-color="#06880d"/><stop offset="0.7952" stop-color="#04c115"/><stop offset="0.8245" stop-color="#06880d"/><stop offset="0.8670" stop-color="#05710b"/><stop offset="0.8989" stop-color="#05a411"/><stop offset="0.9255" stop-color="#00fe1c"/><stop offset="0.9521" stop-color="#04c115"/><stop offset="0.9734" stop-color="#05a411"/><stop offset="1.0000" stop-color="#06790c"/></linearGradient>
<linearGradient id="g52" x1="0" y1="0" x2="0" y2="1"><stop offset="0.0000" stop-color="#022d04"/><stop offset="0.0213" stop-color="#033505"/><stop offset="0.0532" stop-color="#045008"/><stop offset="0.0691" stop-color="#033d06"/><stop offset="0.0851" stop-color="#034206"/><stop offset="0.1197" stop-color="#022a04"/><stop offset="0.1596" stop-color="#045008"/><stop offset="0.1809" stop-color="#033805"/><stop offset="0.2021" stop-color="#034707"/><stop offset="0.2181" stop-color="#023405"/><stop offset="0.2420" stop-color="#055e09"/><stop offset="0.2660" stop-color="#022f04"/><stop offset="0.2926" stop-color="#022303"/><stop offset="0.3457" stop-color="#022003"/><stop offset="0.3989" stop-color="#022504"/><stop offset="0.4255" stop-color="#023405"/><stop offset="0.4468" stop-color="#06810d"/><stop offset="0.4681" stop-color="#033805"/><stop offset="0.5000" stop-color="#022c04"/><stop offset="0.5319" stop-color="#033d06"/><stop offset="0.5612" stop-color="#06760b"/><stop offset="0.5904" stop-color="#034707"/><stop offset="0.6223" stop-color="#044b07"/><stop offset="0.6436" stop-color="#033d06"/><stop offset="0.6729" stop-color="#045508"/><stop offset="0.7074" stop-color="#023405"/><stop offset="0.7447" stop-color="#022a04"/><stop offset="0.7713" stop-color="#023405"/><stop offset="0.7952" stop-color="#034707"/><stop offset="0.8245" stop-color="#023405"/><stop offset="0.8670" stop-color="#022c04"/><stop offset="0.8989" stop-color="#033d06"/><stop offset="0.9255" stop-color="#067b0c"/><stop offset="0.9521" stop-color="#034707"/><stop offset="0.9734" stop-color="#033d06"/><stop offset="1.0000" stop-color="#022f04"/></linearGradient>
<linearGradient id="g53" x1="0" y1="0" x2="0" y2="1"><stop offset="0.0000" stop-color="#033805"/><stop offset="0.0213" stop-color="#034306"/><stop offset="0.0532" stop-color="#05670a"/><stop offset="0.0691" stop-color="#044e07"/><stop offset="0.0851" stop-color="#045408"/><stop offset="0.1197" stop-color="#023405"/><stop offset="0.1596" stop-color="#05670a"/><stop offset="0.1809" stop-color="#034707"/><stop offset="0.2021" stop-color="#045a09"/><stop offset="0.2181" stop-color="#034106"/><stop offset="0.2420" stop-color="#067b0c"/><stop offset="0.2660" stop-color="#033a06"/><stop offset="0.2926" stop-color="#022b04"/><stop offset="0.3457" stop-color="#022704"/><stop offset="0.3989" stop-color="#022d04"/><stop offset="0.4255" stop-color="#034106"/><stop offset="0.4468" stop-color="#05a912"/><stop offset="0.4681" stop-color="#034707"/><stop offset="0.5000" stop-color="#033605"/><stop offset="0.5319" stop-color="#044e07"/><stop offset="0.5612" stop-color="#059910"/><stop offset="0.5904" stop-color="#045a09"/><stop offset="0.6223" stop-color="#056109"/><stop offset="0.6436" stop-color="#044e07"/><stop offset="0.6729" stop-color="#056e0b"/><stop offset="0.7074" stop-color="#034106"/><stop offset="0.7447" stop-color="#023405"/><stop offset="0.7713" stop-color="#034106"/><stop offset="0.7952" stop-color="#045a09"/><stop offset="0.8245" stop-color="#034106"/><stop offset="0.8670" stop-color="#033605"/><stop offset="0.8989" stop-color="#044e07"/><stop offset="0.9255" stop-color="#05a111"/><stop offset="0.9521" stop-color="#045a09"/><stop offset="0.9734" stop-color="#044e07"/><stop offset="1.0000" stop-color="#033a06"/></linearGradient>
<linearGradient id="g54" x1="0" y1="0" x2="0" y2="1"><stop offset="0.0000" stop-color="#011c03"/><stop offset="0.0213" stop-color="#022103"/><stop offset="0.0532" stop-color="#023205"/><stop offset="0.0691" stop-color="#022604"/><stop offset="0.0851" stop-color="#022904"/><stop offset="0.1197" stop-color="#011a02"/><stop offset="0.1596" stop-color="#023205"/><stop offset="0.1809" stop-color="#022303"/><stop offset="0.2021" stop-color="#022c04"/><stop offset="0.2181" stop-color="#022003"/><stop offset="0.2420" stop-color="#033b06"/><stop offset="0.2660" stop-color="#011d03"/><stop offset="0.2926" stop-color="#011602"/><stop offset="0.3457" stop-color="#011402"/><stop offset="0.3989" stop-color="#011702"/><stop offset="0.4255" stop-color="#022003"/><stop offset="0.4468" stop-color="#045008"/><stop offset="0.4681" stop-color="#022303"/><stop offset="0.5000" stop-color="#011b03"/><stop offset="0.5319" stop-color="#022604"/><stop offset="0.5612" stop-color="#044907"/><stop offset="0.5904" stop-color="#022c04"/><stop offset="0.6223" stop-color="#022f04"/><stop offset="0.6436" stop-color="#022604"/><stop offset="0.6729" stop-color="#033505"/><stop offset="0.7074" stop-color="#022003"/><stop offset="0.7447" stop-color="#011a02"/><stop offset="0.7713" stop-color="#022003"/><stop offset="0.7952" stop-color="#022c04"/><stop offset="0.8245" stop-color="#022003"/><stop offset="0.8670" stop-color="#011b03"/><stop offset="0.8989" stop-color="#022604"/><stop offset="0.9255" stop-color="#044d07"/><stop offset="0.9521" stop-color="#022c04"/><stop offset="0.9734" stop-color="#022604"/><stop offset="1.0000" stop-color="#011d03"/></linearGradient>
<linearGradient id="g55" x1="0" y1="0" x2="0" y2="1"><stop offset="0.0000" stop-color="#022203"/><stop offset="0.0213" stop-color="#022a04"/><stop offset="0.0532" stop-color="#034006"/><stop offset="0.0691" stop-color="#023005"/><stop offset="0.0851" stop-color="#033405"/><stop offset="0.1197" stop-color="#022003"/><stop offset="0.1596" stop-color="#034006"/><stop offset="0.1809" stop-color="#022c04"/><stop offset="0.2021" stop-color="#033805"/><stop offset="0.2181" stop-color="#022804"/><stop offset="0.2420" stop-color="#044c07"/><stop offset="0.2660" stop-color="#022403"/><stop offset="0.2926" stop-color="#011a03"/><stop offset="0.3457" stop-color="#011802"/><stop offset="0.3989" stop-color="#011c03"/><stop offset="0.4255" stop-color="#022804"/><stop offset="0.4468" stop-color="#056a0a"/><stop offset="0.4681" stop-color="#022c04"/><stop offset="0.5000" stop-color="#022203"/><stop offset="0.5319" stop-color="#023005"/><stop offset="0.5612" stop-color="#056009"/><stop offset="0.5904" stop-color="#033805"/><stop offset="0.6223" stop-color="#033c06"/><stop offset="0.6436" stop-color="#023005"/><stop offset="0.6729" stop-color="#034407"/><stop offset="0.7074" stop-color="#022804"/><stop offset="0.7447" stop-color="#022003"/><stop offset="0.7713" stop-color="#022804"/><stop offset="0.7952" stop-color="#033805"/><stop offset="0.8245" stop-color="#022804"/><stop offset="0.8670" stop-color="#022203"/><stop offset="0.8989" stop-color="#023005"/><stop offset="0.9255" stop-color="#05640a"/><stop offset="0.9521" stop-color="#033805"/><stop offset="0.9734" stop-color="#023005"/><stop offset="1.0000" stop-color="#022403"/></linearGradient>
<linearGradient id="g56" x1="0" y1="0" x2="0" y2="1"><stop offset="0.0000" stop-color="#011102"/><stop offset="0.0213" stop-color="#011402"/><stop offset="0.0532" stop-color="#011e03"/><stop offset="0.0691" stop-color="#011702"/><stop offset="0.0851" stop-color="#011902"/><stop offset="0.1197" stop-color="#011002"/><stop offset="0.1596" stop-color="#011e03"/><stop offset="0.1809" stop-color="#011502"/><stop offset="0.2021" stop-color="#011b03"/><stop offset="0.2181" stop-color="#011402"/><stop offset="0.2420" stop-color="#022403"/><stop offset="0.2660" stop-color="#011202"/><stop offset="0.2926" stop-color="#010e01"/><stop offset="0.3457" stop-color="#010c01"/><stop offset="0.3989" stop-color="#010e01"/><stop offset="0.4255" stop-color="#011402"/><stop offset="0.4468" stop-color="#023105"/><stop offset="0.4681" stop-color="#011502"/><stop offset="0.5000" stop-color="#011102"/><stop offset="0.5319" stop-color="#011702"/><stop offset="0.5612" stop-color="#022c04"/><stop offset="0.5904" stop-color="#011b03"/><stop offset="0.6223" stop-color="#011d03"/><stop offset="0.6436" stop-color="#011702"/><stop offset="0.6729" stop-color="#022003"/><stop offset="0.7074" stop-color="#011402"/><stop offset="0.7447" stop-color="#011002"/><stop offset="0.7713" stop-color="#011402"/><stop offset="0.7952" stop-color="#011b03"/><stop offset="0.8245" stop-color="#011402"/><stop offset="0.8670" stop-color="#011102"/><stop offset="0.8989" stop-color="#011702"/><stop offset="0.9255" stop-color="#022e04"/><stop offset="0.9521" stop-color="#011b03"/><stop offset="0.9734" stop-color="#011702"/><stop offset="1.0000" stop-color="#011202"/></linearGradient>
<linearGradient id="g57" x1="0" y1="0" x2="0" y2="1"><stop offset="0.0000" stop-color="#011502"/><stop offset="0.0213" stop-color="#011a02"/><stop offset="0.0532" stop-color="#022704"/><stop offset="0.0691" stop-color="#011d03"/><stop offset="0.0851" stop-color="#022003"/><stop offset="0.1197" stop-color="#011402"/><stop offset="0.1596" stop-color="#022704"/><stop offset="0.1809" stop-color="#011b03"/><stop offset="0.2021" stop-color="#022203"/><stop offset="0.2181" stop-color="#011902"/><stop offset="0.2420" stop-color="#022e04"/><stop offset="0.2660" stop-color="#011602"/><stop offset="0.2926" stop-color="#011002"/><stop offset="0.3457" stop-color="#010f01"/><stop offset="0.3989" stop-color="#011102"/><stop offset="0.4255" stop-color="#011902"/><stop offset="0.4468" stop-color="#034006"/><stop offset="0.4681" stop-color="#011b03"/><stop offset="0.5000" stop-color="#011502"/><stop offset="0.5319" stop-color="#011d03"/><stop offset="0.5612" stop-color="#033a06"/><stop offset="0.5904" stop-color="#022203"/><stop offset="0.6223" stop-color="#022504"/><stop offset="0.6436" stop-color="#011d03"/><stop offset="0.6729" stop-color="#022a04"/><stop offset="0.7074" stop-color="#011902"/><stop offset="0.7447" stop-color="#011402"/><stop offset="0.7713" stop-color="#011902"/><stop offset="0.7952" stop-color="#022203"/><stop offset="0.8245" stop-color="#011902"/><stop offset="0.8670" stop-color="#011502"/><stop offset="0.8989" stop-color="#011d03"/><stop offset="0.9255" stop-color="#033d06"/><stop offset="0.9521" stop-color="#022203"/><stop offset="0.9734" stop-color="#011d03"/><stop offset="1.0000" stop-color="#011602"/></linearGradient>
<linearGradient id="g58" x1="0" y1="0" x2="0" y2="1"><stop offset="0.0000" stop-color="#010c01"/><stop offset="0.0213" stop-color="#010e01"/><stop offset="0.0532" stop-color="#011502"/><stop offset="0.0691" stop-color="#011002"/><stop offset="0.0851" stop-color="#011102"/><stop offset="0.1197" stop-color="#010b01"/><stop offset="0.1596" stop-color="#011502"/><stop offset="0.1809" stop-color="#010f01"/><stop offset="0.2021" stop-color="#011202"/><stop offset="0.2181" stop-color="#010e01"/><stop offset="0.2420" stop-color="#011802"/><stop offset="0.2660" stop-color="#010c01"/><stop offset="0.2926" stop-color="#000901"/><stop offset="0.3457" stop-color="#000901"/><stop offset="0.3989" stop-color="#000a01"/><stop offset="0.4255" stop-color="#010e01"/><stop offset="0.4468" stop-color="#022103"/><stop offset="0.4681" stop-color="#010f01"/><stop offset="0.5000" stop-color="#010c01"/><stop offset="0.5319" stop-color="#011002"/><stop offset="0.5612" stop-color="#011e03"/><stop offset="0.5904" stop-color="#011202"/><stop offset="0.6223" stop-color="#011302"/><stop offset="0.6436" stop-color="#011002"/><stop offset="0.6729" stop-color="#011602"/><stop offset="0.7074" stop-color="#010e01"/><stop offset="0.7447" stop-color="#010b01"/><stop offset="0.7713" stop-color="#010e01"/><stop offset="0.7952" stop-color="#011202"/><stop offset="0.8245" stop-color="#010e01"/><stop offset="0.8670" stop-color="#010c01"/><stop offset="0.8989" stop-color="#011002"/><stop offset="0.9255" stop-color="#021f03"/><stop offset="0.9521" stop-color="#011202"/><stop offset="0.9734" stop-color="#011002"/><stop offset="1.0000" stop-color="#010c01"/></linearGradient>
<linearGradient id="g59" x1="0" y1="0" x2="0" y2="1"><stop offset="0.0000" stop-color="#010f01"/><stop offset="0.0213" stop-color="#011202"/><stop offset="0.0532" stop-color="#011b03"/><stop offset="0.0691" stop-color="#011402"/><stop offset="0.0851" stop-color="#011602"/><stop offset="0.1197" stop-color="#010e01"/><stop offset="0.1596" stop-color="#011b03"/><stop offset="0.1809" stop-color="#011302"/><stop offset="0.2021" stop-color="#011702"/><stop offset="0.2181" stop-color="#011102"/><stop offset="0.2420" stop-color="#021f03"/><stop offset="0.2660" stop-color="#010f01"/><stop offset="0.2926" stop-color="#010b01"/><stop offset="0.3457" stop-color="#010a01"/><stop offset="0.3989" stop-color="#010c01"/><stop offset="0.4255" stop-color="#011102"/><stop offset="0.4468" stop-color="#022b04"/><stop offset="0.4681" stop-color="#011302"/><stop offset="0.5000" stop-color="#010e01"/><stop offset="0.5319" stop-color="#011402"/><stop offset="0.5612" stop-color="#022704"/><stop offset="0.5904" stop-color="#011702"/><stop offset="0.6223" stop-color="#011902"/><stop offset="0.6436" stop-color="#011402"/><stop offset="0.6729" stop-color="#011c03"/><stop offset="0.7074" stop-color="#011102"/><stop offset="0.7447" stop-color="#010e01"/><stop offset="0.7713" stop-color="#011102"/><stop offset="0.7952" stop-color="#011702"/><stop offset="0.8245" stop-color="#011102"/><stop offset="0.8670" stop-color="#010e01"/><stop offset="0.8989" stop-color="#011402"/><stop offset="0.9255" stop-color="#022904"/><stop offset="0.9521" stop-color="#011702"/><stop offset="0.9734" stop-color="#011402"/><stop offset="1.0000" stop-color="#010f01"/></linearGradient>
<clipPath id="c60"><rect x="1927.30" y="232.30" width="496.90" height="189.20"/></clipPath>
<filter id="f60" x="-5%" y="-5%" width="110%" height="110%" color-interpolation-filters="sRGB"><feGaussianBlur stdDeviation="2.20 1.00"/></filter>
<linearGradient id="g61" x1="0" y1="0" x2="0" y2="1"><stop offset="0.0000" stop-color="#eeeeee"/><stop offset="0.1323" stop-color="#eeeeee"/><stop offset="0.1587" stop-color="#e4e4e4"/><stop offset="0.1852" stop-color="#eeeeee"/><stop offset="0.4233" stop-color="#eeeeee"/><stop offset="0.4497" stop-color="#dddddd"/><stop offset="0.4762" stop-color="#eeeeee"/><stop offset="0.6349" stop-color="#eeeeee"/><stop offset="0.6614" stop-color="#e9e9e9"/><stop offset="0.6878" stop-color="#eeeeee"/><stop offset="1.0000" stop-color="#eeeeee"/></linearGradient>
<linearGradient id="g62" x1="0" y1="0" x2="0" y2="1"><stop offset="0.0000" stop-color="#ededed"/><stop offset="0.1323" stop-color="#ededed"/><stop offset="0.1587" stop-color="#e1e1e1"/><stop offset="0.1852" stop-color="#ededed"/><stop offset="0.4233" stop-color="#ededed"/><stop offset="0.4497" stop-color="#d9d9d9"/><stop offset="0.4762" stop-color="#ededed"/><stop offset="0.6349" stop-color="#ededed"/><stop offset="0.6614" stop-color="#e7e7e7"/><stop offset="0.6878" stop-color="#ededed"/><stop offset="1.0000" stop-color="#ededed"/></linearGradient>
<linearGradient id="g63" x1="0" y1="0" x2="0" y2="1"><stop offset="0.0000" stop-color="#262626"/><stop offset="0.0529" stop-color="#212121"/><stop offset="0.0952" stop-color="#313131"/><stop offset="0.1270" stop-color="#3e3e3e"/><stop offset="0.1587" stop-color="#383838"/><stop offset="0.1905" stop-color="#484848"/><stop offset="0.2222" stop-color="#484848"/><stop offset="0.2540" stop-color="#242424"/><stop offset="0.2857" stop-color="#484848"/><stop offset="0.3280" stop-color="#525252"/><stop offset="0.3968" stop-color="#525252"/><stop offset="0.4444" stop-color="#484848"/><stop offset="0.4815" stop-color="#000000"/><stop offset="0.5132" stop-color="#343434"/><stop offset="0.5344" stop-color="#3e3e3e"/><stop offset="0.5556" stop-color="#303030"/><stop offset="0.5820" stop-color="#343434"/><stop offset="0.6032" stop-color="#000000"/><stop offset="0.6349" stop-color="#343434"/><stop offset="0.6667" stop-color="#000000"/><stop offset="0.6984" stop-color="#3e3e3e"/><stop offset="0.7407" stop-color="#525252"/><stop offset="0.7725" stop-color="#484848"/><stop offset="0.8021" stop-color="#030303"/><stop offset="0.8307" stop-color="#484848"/><stop offset="0.8677" stop-color="#525252"/><stop offset="0.8942" stop-color="#484848"/><stop offset="0.9238" stop-color="#030303"/><stop offset="0.9524" stop-color="#484848"/><stop offset="1.0000" stop-color="#525252"/></linearGradient>
<linearGradient id="g64" x1="0" y1="0" x2="0" y2="1"><stop offset="0.0000" stop-color="#0e0e0e"/><stop offset="0.0529" stop-color="#070707"/><stop offset="0.0952" stop-color="#1b1b1b"/><stop offset="0.1270" stop-color="#2a2a2a"/><stop offset="0.1587" stop-color="#232323"/><stop offset="0.1905" stop-color="#363636"/><stop offset="0.2222" stop-color="#363636"/><stop offset="0.2540" stop-color="#0c0c0c"/><stop offset="0.2857" stop-color="#363636"/><stop offset="0.3280" stop-color="#424242"/><stop offset="0.3968" stop-color="#424242"/><stop offset="0.4444" stop-color="#363636"/><stop offset="0.4815" stop-color="#000000"/><stop offset="0.5132" stop-color="#1e1e1e"/><stop offset="0.5344" stop-color="#2a2a2a"/><stop offset="0.5556" stop-color="#1a1a1a"/><stop offset="0.5820" stop-color="#1e1e1e"/><stop offset="0.6032" stop-color="#000000"/><stop offset="0.6349" stop-color="#1e1e1e"/><stop offset="0.6667" stop-color="#000000"/><stop offset="0.6984" stop-color="#2a2a2a"/><stop offset="0.7407" stop-color="#424242"/><stop offset="0.7725" stop-color="#363636"/><stop offset="0.8021" stop-color="#000000"/><stop offset="0.8307" stop-color="#363636"/><stop offset="0.8677" stop-color="#424242"/><stop offset="0.8942" stop-color="#363636"/><stop offset="0.9238" stop-color="#000000"/><stop offset="0.9524" stop-color="#363636"/><stop offset="1.0000" stop-color="#424242"/></linearGradient>
<linearGradient id="g65" x1="0" y1="0" x2="0" y2="1"><stop offset="0.0000" stop-color="#565656"/><stop offset="0.0529" stop-color="#525252"/><stop offset="0.0952" stop-color="#5f5f5f"/><stop offset="0.1270" stop-color="#696969"/><stop offset="0.1587" stop-color="#646464"/><stop offset="0.1905" stop-color="#707070"/><stop offset="0.2222" stop-color="#707070"/><stop offset="0.2540" stop-color="#555555"/><stop offset="0.2857" stop-color="#707070"/><stop offset="0.3280" stop-color="#787878"/><stop offset="0.3968" stop-color="#787878"/><stop offset="0.4444" stop-color="#707070"/><stop offset="0.4815" stop-color="#242424"/><stop offset="0.5132" stop-color="#616161"/><stop offset="0.5344" stop-color="#696969"/><stop offset="0.5556" stop-color="#5e5e5e"/><stop offset="0.5820" stop-color="#616161"/><stop offset="0.6032" stop-color="#2c2c2c"/><stop offset="0.6349" stop-color="#616161"/><stop offset="0.6667" stop-color="#2c2c2c"/><stop offset="0.6984" stop-color="#696969"/><stop offset="0.7407" stop-color="#787878"/><stop offset="0.7725" stop-color="#707070"/><stop offset="0.8021" stop-color="#3b3b3b"/><stop offset="0.8307" stop-color="#707070"/><stop offset="0.8677" stop-color="#787878"/><stop offset="0.8942" stop-color="#707070"/><stop offset="0.9238" stop-color="#3b3b3b"/><stop offset="0.9524" stop-color="#707070"/><stop offset="1.0000" stop-color="#787878"/></linearGradient>
<linearGradient id="g66" x1="0" y1="0" x2="0" y2="1"><stop offset="0.0000" stop-color="#444444"/><stop offset="0.0529" stop-color="#3f3f3f"/><stop offset="0.0952" stop-color="#4e4e4e"/><stop offset="0.1270" stop-color="#5a5a5a"/><stop offset="0.1587" stop-color="#545454"/><stop offset="0.1905" stop-color="#636363"/><stop offset="0.2222" stop-color="#636363"/><stop offset="0.2540" stop-color="#424242"/><stop offset="0.2857" stop-color="#636363"/><stop offset="0.3280" stop-color="#6c6c6c"/><stop offset="0.3968" stop-color="#6c6c6c"/><stop offset="0.4444" stop-color="#636363"/><stop offset="0.4815" stop-color="#070707"/><stop offset="0.5132" stop-color="#515151"/><stop offset="0.5344" stop-color="#5a5a5a"/><stop offset="0.5556" stop-color="#4d4d4d"/><stop offset="0.5820" stop-color="#515151"/><stop offset="0.6032" stop-color="#101010"/><stop offset="0.6349" stop-color="#515151"/><stop offset="0.6667" stop-color="#101010"/><stop offset="0.6984" stop-color="#5a5a5a"/><stop offset="0.7407" stop-color="#6c6c6c"/><stop offset="0.7725" stop-color="#636363"/><stop offset="0.8021" stop-color="#232323"/><stop offset="0.8307" stop-color="#636363"/><stop offset="0.8677" stop-color="#6c6c6c"/><stop offset="0.8942" stop-color="#636363"/><stop offset="0.9238" stop-color="#232323"/><stop offset="0.9524" stop-color="#636363"/><stop offset="1.0000" stop-color="#6c6c6c"/></linearGradient>
<linearGradient id="g67" x1="0" y1="0" x2="0" y2="1"><stop offset="0.0000" stop-color="#868686"/><stop offset="0.0529" stop-color="#818181"/><stop offset="0.0952" stop-color="#8f8f8f"/><stop offset="0.1270" stop-color="#9a9a9a"/><stop offset="0.1587" stop-color="#959595"/><stop offset="0.1905" stop-color="#a2a2a2"/><stop offset="0.2222" stop-color="#a2a2a2"/><stop offset="0.2540" stop-color="#848484"/><stop offset="0.2857" stop-color="#a2a2a2"/><stop offset="0.3280" stop-color="#aaaaaa"/><stop offset="0.3968" stop-color="#aaaaaa"/><stop offset="0.4444" stop-color="#a2a2a2"/><stop offset="0.4815" stop-color="#4f4f4f"/><stop offset="0.5132" stop-color="#929292"/><stop offset="0.5344" stop-color="#9a9a9a"/><stop offset="0.5556" stop-color="#8e8e8e"/><stop offset="0.5820" stop-color="#929292"/><stop offset="0.6032" stop-color="#575757"/><stop offset="0.6349" stop-color="#929292"/><stop offset="0.6667" stop-color="#575757"/><stop offset="0.6984" stop-color="#9a9a9a"/><stop offset="0.7407" stop-color="#aaaaaa"/><stop offset="0.7725" stop-color="#a2a2a2"/><stop offset="0.8021" stop-color="#686868"/><stop offset="0.8307" stop-color="#a2a2a2"/><stop offset="0.8677" stop-color="#aaaaaa"/><stop offset="0.8942" stop-color="#a2a2a2"/><stop offset="0.9238" stop-color="#686868"/><stop offset="0.9524" stop-color="#a2a2a2"/><stop offset="1.0000" stop-color="#aaaaaa"/></linearGradient>
<linearGradient id="g68" x1="0" y1="0" x2="0" y2="1"><stop offset="0.0000" stop-color="#787878"/><stop offset="0.0529" stop-color="#727272"/><stop offset="0.0952" stop-color="#838383"/><stop offset="0.1270" stop-color="#909090"/><stop offset="0.1587" stop-color="#8a8a8a"/><stop offset="0.1905" stop-color="#999999"/><stop offset="0.2222" stop-color="#999999"/><stop offset="0.2540" stop-color="#767676"/><stop offset="0.2857" stop-color="#999999"/><stop offset="0.3280" stop-color="#a3a3a3"/><stop offset="0.3968" stop-color="#a3a3a3"/><stop offset="0.4444" stop-color="#999999"/><stop offset="0.4815" stop-color="#363636"/><stop offset="0.5132" stop-color="#868686"/><stop offset="0.5344" stop-color="#909090"/><stop offset="0.5556" stop-color="#828282"/><stop offset="0.5820" stop-color="#868686"/><stop offset="0.6032" stop-color="#404040"/><stop offset="0.6349" stop-color="#868686"/><stop offset="0.6667" stop-color="#404040"/><stop offset="0.6984" stop-color="#909090"/><stop offset="0.7407" stop-color="#a3a3a3"/><stop offset="0.7725" stop-color="#999999"/><stop offset="0.8021" stop-color="#545454"/><stop offset="0.8307" stop-color="#999999"/><stop offset="0.8677" stop-color="#a3a3a3"/><stop offset="0.8942" stop-color="#999999"/><stop offset="0.9238" stop-color="#545454"/><stop offset="0.9524" stop-color="#999999"/><stop offset="1.0000" stop-color="#a3a3a3"/></linearGradient>
<linearGradient id="g69" x1="0" y1="0" x2="0" y2="1"><stop offset="0.0000" stop-color="#b0b0b0"/><stop offset="0.0529" stop-color="#adadad"/><stop offset="0.0952" stop-color="#b7b7b7"/><stop offset="0.1270" stop-color="#c0c0c0"/><stop offset="0.1587" stop-color="#bcbcbc"/><stop offset="0.1905" stop-color="#c6c6c6"/><stop offset="0.2222" stop-color="#c6c6c6"/><stop offset="0.2540" stop-color="#afafaf"/><stop offset="0.2857" stop-color="#c6c6c6"/><stop offset="0.3280" stop-color="#cdcdcd"/><stop offset="0.3968" stop-color="#cdcdcd"/><stop offset="0.4444" stop-color="#c6c6c6"/><stop offset="0.4815" stop-color="#858585"/><stop offset="0.5132" stop-color="#b9b9b9"/><stop offset="0.5344" stop-color="#c0c0c0"/><stop offset="0.5556" stop-color="#b7b7b7"/><stop offset="0.5820" stop-color="#b9b9b9"/><stop offset="0.6032" stop-color="#8c8c8c"/><stop offset="0.6349" stop-color="#b9b9b9"/><stop offset="0.6667" stop-color="#8c8c8c"/><stop offset="0.6984" stop-color="#c0c0c0"/><stop offset="0.7407" stop-color="#cdcdcd"/><stop offset="0.7725" stop-color="#c6c6c6"/><stop offset="0.8021" stop-color="#999999"/><stop offset="0.8307" stop-color="#c6c6c6"/><stop offset="0.8677" stop-color="#cdcdcd"/><stop offset="0.8942" stop-color="#c6c6c6"/><stop offset="0.9238" stop-color="#999999"/><stop offset="0.9524" stop-color="#c6c6c6"/><stop offset="1.0000" stop-color="#cdcdcd"/></linearGradient>
<linearGradient id="g70" x1="0" y1="0" x2="0" y2="1"><stop offset="0.0000" stop-color="#a7a7a7"/><stop offset="0.0529" stop-color="#a3a3a3"/><stop offset="0.0952" stop-color="#b0b0b0"/><stop offset="0.1270" stop-color="#bababa"/><stop offset="0.1587" stop-color="#b5b5b5"/><stop offset="0.1905" stop-color="#c2c2c2"/><stop offset="0.2222" stop-color="#c2c2c2"/><stop offset="0.2540" stop-color="#a5a5a5"/><stop offset="0.2857" stop-color="#c2c2c2"/><stop offset="0.3280" stop-color="#c9c9c9"/><stop offset="0.3968" stop-color="#c9c9c9"/><stop offset="0.4444" stop-color="#c2c2c2"/><stop offset="0.4815" stop-color="#737373"/><stop offset="0.5132" stop-color="#b2b2b2"/><stop offset="0.5344" stop-color="#bababa"/><stop offset="0.5556" stop-color="#afafaf"/><stop offset="0.5820" stop-color="#b2b2b2"/><stop offset="0.6032" stop-color="#7b7b7b"/><stop offset="0.6349" stop-color="#b2b2b2"/><stop offset="0.6667" stop-color="#7b7b7b"/><stop offset="0.6984" stop-color="#bababa"/><stop offset="0.7407" stop-color="#c9c9c9"/><stop offset="0.7725" stop-color="#c2c2c2"/><stop offset="0.8021" stop-color="#8b8b8b"/><stop offset="0.8307" stop-color="#c2c2c2"/><stop offset="0.8677" stop-color="#c9c9c9"/><stop offset="0.8942" stop-color="#c2c2c2"/><stop offset="0.9238" stop-color="#8b8b8b"/><stop offset="0.9524" stop-color="#c2c2c2"/><stop offset="1.0000" stop-color="#c9c9c9"/></linearGradient>
<linearGradient id="g71" x1="0" y1="0" x2="0" y2="1"><stop offset="0.0000" stop-color="#c9c9c9"/><stop offset="0.0529" stop-color="#c6c6c6"/><stop offset="0.0952" stop-color="#cecece"/><stop offset="0.1270" stop-color="#d3d3d3"/><stop offset="0.1587" stop-color="#d1d1d1"/><stop offset="0.1905" stop-color="#d8d8d8"/><stop offset="0.2222" stop-color="#d8d8d8"/><stop offset="0.2540" stop-color="#c8c8c8"/><stop offset="0.2857" stop-color="#d8d8d8"/><stop offset="0.3280" stop-color="#dcdcdc"/><stop offset="0.3968" stop-color="#dcdcdc"/><stop offset="0.4444" stop-color="#d8d8d8"/><stop offset="0.4815" stop-color="#acacac"/><stop offset="0.5132" stop-color="#cfcfcf"/><stop offset="0.5344" stop-color="#d3d3d3"/><stop offset="0.5556" stop-color="#cdcdcd"/><stop offset="0.5820" stop-color="#cfcfcf"/><stop offset="0.6032" stop-color="#b0b0b0"/><stop offset="0.6349" stop-color="#cfcfcf"/><stop offset="0.6667" stop-color="#b0b0b0"/><stop offset="0.6984" stop-color="#d3d3d3"/><stop offset="0.7407" stop-color="#dcdcdc"/><stop offset="0.7725" stop-color="#d8d8d8"/><stop offset="0.8021" stop-color="#b9b9b9"/><stop offset="0.8307" stop-color="#d8d8d8"/><stop offset="0.8677" stop-color="#dcdcdc"/><stop offset="0.8942" stop-color="#d8d8d8"/><stop offset="0.9238" stop-color="#b9b9b9"/><stop offset="0.9524" stop-color="#d8d8d8"/><stop offset="1.0000" stop-color="#dcdcdc"/></linearGradient>
<linearGradient id="g72" x1="0" y1="0" x2="0" y2="1"><stop offset="0.0000" stop-color="#c3c3c3"/><stop offset="0.0529" stop-color="#c0c0c0"/><stop offset="0.0952" stop-color="#c9c9c9"/><stop offset="0.1270" stop-color="#d0d0d0"/><stop offset="0.1587" stop-color="#cccccc"/><stop offset="0.1905" stop-color="#d5d5d5"/><stop offset="0.2222" stop-color="#d5d5d5"/><stop offset="0.2540" stop-color="#c2c2c2"/><stop offset="0.2857" stop-color="#d5d5d5"/><stop offset="0.3280" stop-color="#dadada"/><stop offset="0.3968" stop-color="#dadada"/><stop offset="0.4444" stop-color="#d5d5d5"/><stop offset="0.4815" stop-color="#a0a0a0"/><stop offset="0.5132" stop-color="#cacaca"/><stop offset="0.5344" stop-color="#d0d0d0"/><stop offset="0.5556" stop-color="#c8c8c8"/><stop offset="0.5820" stop-color="#cacaca"/><stop offset="0.6032" stop-color="#a6a6a6"/><stop offset="0.6349" stop-color="#cacaca"/><stop offset="0.6667" stop-color="#a6a6a6"/><stop offset="0.6984" stop-color="#d0d0d0"/><stop offset="0.7407" stop-color="#dadada"/><stop offset="0.7725" stop-color="#d5d5d5"/><stop offset="0.8021" stop-color="#b0b0b0"/><stop offset="0.8307" stop-color="#d5d5d5"/><stop offset="0.8677" stop-color="#dadada"/><stop offset="0.8942" stop-color="#d5d5d5"/><stop offset="0.9238" stop-color="#b0b0b0"/><stop offset="0.9524" stop-color="#d5d5d5"/><stop offset="1.0000" stop-color="#dadada"/></linearGradient>
<linearGradient id="g73" x1="0" y1="0" x2="0" y2="1"><stop offset="0.0000" stop-color="#d7d7d7"/><stop offset="0.0529" stop-color="#d5d5d5"/><stop offset="0.0952" stop-color="#dadada"/><stop offset="0.1270" stop-color="#dedede"/><stop offset="0.1587" stop-color="#dcdcdc"/><stop offset="0.1905" stop-color="#e1e1e1"/><stop offset="0.2222" stop-color="#e1e1e1"/><stop offset="0.2540" stop-color="#d6d6d6"/><stop offset="0.2857" stop-color="#e1e1e1"/><stop offset="0.3280" stop-color="#e4e4e4"/><stop offset="0.3968" stop-color="#e4e4e4"/><stop offset="0.4444" stop-color="#e1e1e1"/><stop offset="0.4815" stop-color="#c2c2c2"/><stop offset="0.5132" stop-color="#dbdbdb"/><stop offset="0.5344" stop-color="#dedede"/><stop offset="0.5556" stop-color="#dadada"/><stop offset="0.5820" stop-color="#dbdbdb"/><stop offset="0.6032" stop-color="#c5c5c5"/><stop offset="0.6349" stop-color="#dbdbdb"/><stop offset="0.6667" stop-color="#c5c5c5"/><stop offset="0.6984" stop-color="#dedede"/><stop offset="0.7407" stop-color="#e4e4e4"/><stop offset="0.7725" stop-color="#e1e1e1"/><stop offset="0.8021" stop-color="#cccccc"/><stop offset="0.8307" stop-color="#e1e1e1"/><stop offset="0.8677" stop-color="#e4e4e4"/><stop offset="0.8942" stop-color="#e1e1e1"/><stop offset="0.9238" stop-color="#cccccc"/><stop offset="0.9524" stop-color="#e1e1e1"/><stop offset="1.0000" stop-color="#e4e4e4"/></linearGradient>
<linearGradient id="g74" x1="0" y1="0" x2="0" y2="1"><stop offset="0.0000" stop-color="#d3d3d3"/><stop offset="0.0529" stop-color="#d1d1d1"/><stop offset="0.0952" stop-color="#d7d7d7"/><stop offset="0.1270" stop-color="#dbdbdb"/><stop offset="0.1587" stop-color="#d9d9d9"/><stop offset="0.1905" stop-color="#dfdfdf"/><stop offset="0.2222" stop-color="#dfdfdf"/><stop offset="0.2540" stop-color="#d2d2d2"/><stop offset="0.2857" stop-color="#dfdfdf"/><stop offset="0.3280" stop-color="#e3e3e3"/><stop offset="0.3968" stop-color="#e3e3e3"/><stop offset="0.4444" stop-color="#dfdfdf"/><stop offset="0.4815" stop-color="#bababa"/><stop offset="0.5132" stop-color="#d8d8d8"/><stop offset="0.5344" stop-color="#dbdbdb"/><stop offset="0.5556" stop-color="#d6d6d6"/><stop offset="0.5820" stop-color="#d8d8d8"/><stop offset="0.6032" stop-color="#bebebe"/><stop offset="0.6349" stop-color="#d8d8d8"/><stop offset="0.6667" stop-color="#bebebe"/><stop offset="0.6984" stop-color="#dbdbdb"/><stop offset="0.7407" stop-color="#e3e3e3"/><stop offset="0.7725" stop-color="#dfdfdf"/><stop offset="0.8021" stop-color="#c5c5c5"/><stop offset="0.8307" stop-color="#dfdfdf"/><stop offset="0.8677" stop-color="#e3e3e3"/><stop offset="0.8942" stop-color="#dfdfdf"/><stop offset="0.9238" stop-color="#c5c5c5"/><stop offset="0.9524" stop-color="#dfdfdf"/><stop offset="1.0000" stop-color="#e3e3e3"/></linearGradient>
<linearGradient id="g75" x1="0" y1="0" x2="0" y2="1"><stop offset="0.0000" stop-color="#dedede"/><stop offset="0.0529" stop-color="#dddddd"/><stop offset="0.0952" stop-color="#e1e1e1"/><stop offset="0.1270" stop-color="#e4e4e4"/><stop offset="0.1587" stop-color="#e2e2e2"/><stop offset="0.1905" stop-color="#e6e6e6"/><stop offset="0.2222" stop-color="#e6e6e6"/><stop offset="0.2540" stop-color="#dedede"/><stop offset="0.2857" stop-color="#e6e6e6"/><stop offset="0.3280" stop-color="#e8e8e8"/><stop offset="0.3968" stop-color="#e8e8e8"/><stop offset="0.4444" stop-color="#e6e6e6"/><stop offset="0.4815" stop-color="#d0d0d0"/><stop offset="0.5132" stop-color="#e2e2e2"/><stop offset="0.5344" stop-color="#e4e4e4"/><stop offset="0.5556" stop-color="#e1e1e1"/><stop offset="0.5820" stop-color="#e2e2e2"/><stop offset="0.6032" stop-color="#d2d2d2"/><stop offset="0.6349" stop-color="#e2e2e2"/><stop offset="0.6667" stop-color="#d2d2d2"/><stop offset="0.6984" stop-color="#e4e4e4"/><stop offset="0.7407" stop-color="#e8e8e8"/><stop offset="0.7725" stop-color="#e6e6e6"/><stop offset="0.8021" stop-color="#d7d7d7"/><stop offset="0.8307" stop-color="#e6e6e6"/><stop offset="0.8677" stop-color="#e8e8e8"/><stop offset="0.8942" stop-color="#e6e6e6"/><stop offset="0.9238" stop-color="#d7d7d7"/><stop offset="0.9524" stop-color="#e6e6e6"/><stop offset="1.0000" stop-color="#e8e8e8"/></linearGradient>
<linearGradient id="g76" x1="0" y1="0" x2="0" y2="1"><stop offset="0.0000" stop-color="#dcdcdc"/><stop offset="0.0529" stop-color="#dadada"/><stop offset="0.0952" stop-color="#dfdfdf"/><stop offset="0.1270" stop-color="#e2e2e2"/><stop offset="0.1587" stop-color="#e0e0e0"/><stop offset="0.1905" stop-color="#e5e5e5"/><stop offset="0.2222" stop-color="#e5e5e5"/><stop offset="0.2540" stop-color="#dbdbdb"/><stop offset="0.2857" stop-color="#e5e5e5"/><stop offset="0.3280" stop-color="#e7e7e7"/><stop offset="0.3968" stop-color="#e7e7e7"/><stop offset="0.4444" stop-color="#e5e5e5"/><stop offset="0.4815" stop-color="#cacaca"/><stop offset="0.5132" stop-color="#dfdfdf"/><stop offset="0.5344" stop-color="#e2e2e2"/><stop offset="0.5556" stop-color="#dedede"/><stop offset="0.5820" stop-color="#dfdfdf"/><stop offset="0.6032" stop-color="#cdcdcd"/><stop offset="0.6349" stop-color="#dfdfdf"/><stop offset="0.6667" stop-color="#cdcdcd"/><stop offset="0.6984" stop-color="#e2e2e2"/><stop offset="0.7407" stop-color="#e7e7e7"/><stop offset="0.7725" stop-color="#e5e5e5"/><stop offset="0.8021" stop-color="#d2d2d2"/><stop offset="0.8307" stop-color="#e5e5e5"/><stop offset="0.8677" stop-color="#e7e7e7"/><stop offset="0.8942" stop-color="#e5e5e5"/><stop offset="0.9238" stop-color="#d2d2d2"/><stop offset="0.9524" stop-color="#e5e5e5"/><stop offset="1.0000" stop-color="#e7e7e7"/></linearGradient>
<clipPath id="c77"><rect x="1929.80" y="445.90" width="494.40" height="189.40"/></clipPath>
<filter id="f77" x="-5%" y="-5%" width="110%" height="110%" color-interpolation-filters="sRGB"><feGaussianBlur stdDeviation="2.20 1.00"/></filter>
<linearGradient id="g78" x1="0" y1="0" x2="0" y2="1"><stop offset="0.0000" stop-color="#ebebeb"/><stop offset="0.1323" stop-color="#ebebeb"/><stop offset="0.1587" stop-color="#d8d8d8"/><stop offset="0.1852" stop-color="#ebebeb"/><stop offset="0.4233" stop-color="#ebebeb"/><stop offset="0.4497" stop-color="#d8d8d8"/><stop offset="0.4762" stop-color="#ebebeb"/><stop offset="0.6349" stop-color="#ebebeb"/><stop offset="0.6614" stop-color="#dcdcdc"/><stop offset="0.6878" stop-color="#ebebeb"/><stop offset="0.8095" stop-color="#ebebeb"/><stop offset="0.8360" stop-color="#dedede"/><stop offset="0.8624" stop-color="#ebebeb"/><stop offset="1.0000" stop-color="#ebebeb"/></linearGradient>
<linearGradient id="g79" x1="0" y1="0" x2="0" y2="1"><stop offset="0.0000" stop-color="#ebebeb"/><stop offset="0.1323" stop-color="#ebebeb"/><stop offset="0.1587" stop-color="#d4d4d4"/><stop offset="0.1852" stop-color="#ebebeb"/><stop offset="0.4233" stop-color="#ebebeb"/><stop offset="0.4497" stop-color="#d4d4d4"/><stop offset="0.4762" stop-color="#ebebeb"/><stop offset="0.6349" stop-color="#ebebeb"/><stop offset="0.6614" stop-color="#d8d8d8"/><stop offset="0.6878" stop-color="#ebebeb"/><stop offset="0.8095" stop-color="#ebebeb"/><stop offset="0.8360" stop-color="#dbdbdb"/><stop offset="0.8624" stop-color="#ebebeb"/><stop offset="1.0000" stop-color="#ebebeb"/></linearGradient>
<linearGradient id="g80" x1="0" y1="0" x2="0" y2="1"><stop offset="0.0000" stop-color="#000000"/><stop offset="0.0529" stop-color="#000000"/><stop offset="0.0952" stop-color="#000000"/><stop offset="0.1270" stop-color="#000000"/><stop offset="0.1587" stop-color="#000000"/><stop offset="0.1905" stop-color="#000000"/><stop offset="0.2222" stop-color="#000000"/><stop offset="0.2540" stop-color="#000000"/><stop offset="0.2857" stop-color="#000000"/><stop offset="0.3280" stop-color="#000000"/><stop offset="0.3968" stop-color="#000000"/><stop offset="0.4444" stop-color="#000000"/><stop offset="0.4815" stop-color="#000000"/><stop offset="0.5132" stop-color="#000000"/><stop offset="0.5344" stop-color="#000000"/><stop offset="0.5556" stop-color="#000000"/><stop offset="0.5820" stop-color="#000000"/><stop offset="0.6032" stop-color="#000000"/><stop offset="0.6349" stop-color="#000000"/><stop offset="0.6667" stop-color="#000000"/><stop offset="0.6984" stop-color="#000000"/><stop offset="0.7407" stop-color="#000000"/><stop offset="0.7725" stop-color="#000000"/><stop offset="0.8021" stop-color="#000000"/><stop offset="0.8307" stop-color="#000000"/><stop offset="0.8677" stop-color="#000000"/><stop offset="0.8942" stop-color="#000000"/><stop offset="0.9238" stop-color="#000000"/><stop offset="0.9524" stop-color="#000000"/><stop offset="1.0000" stop-color="#000000"/></linearGradient>
<linearGradient id="g81" x1="0" y1="0" x2="0" y2="1"><stop offset="0.0000" stop-color="#000000"/><stop offset="0.0529" stop-color="#000000"/><stop offset="0.0952" stop-color="#000000"/><stop offset="0.1270" stop-color="#000000"/><stop offset="0.1587" stop-color="#000000"/><stop offset="0.1905" stop-color="#131313"/><stop offset="0.2222" stop-color="#131313"/><stop offset="0.2540" stop-color="#000000"/><stop offset="0.2857" stop-color="#131313"/><stop offset="0.3280" stop-color="#040404"/><stop offset="0.3968" stop-color="#040404"/><stop offset="0.4444" stop-color="#131313"/><stop offset="0.4815" stop-color="#000000"/><stop offset="0.5132" stop-color="#000000"/><stop offset="0.5344" stop-color="#000000"/><stop offset="0.5556" stop-color="#000000"/><stop offset="0.5820" stop-color="#000000"/><stop offset="0.6032" stop-color="#000000"/><stop offset="0.6349" stop-color="#000000"/><stop offset="0.6667" stop-color="#000000"/><stop offset="0.6984" stop-color="#000000"/><stop offset="0.7407" stop-color="#434343"/><stop offset="0.7725" stop-color="#131313"/><stop offset="0.8021" stop-color="#000000"/><stop offset="0.8307" stop-color="#131313"/><stop offset="0.8677" stop-color="#434343"/><stop offset="0.8942" stop-color="#131313"/><stop offset="0.9238" stop-color="#000000"/><stop offset="0.9524" stop-color="#131313"/><stop offset="1.0000" stop-color="#434343"/></linearGradient>
<linearGradient id="g82" x1="0" y1="0" x2="0" y2="1"><stop offset="0.0000" stop-color="#000000"/><stop offset="0.0529" stop-color="#000000"/><stop offset="0.0952" stop-color="#000000"/><stop offset="0.1270" stop-color="#000000"/><stop offset="0.1587" stop-color="#000000"/><stop offset="0.1905" stop-color="#000000"/><stop offset="0.2222" stop-color="#000000"/><stop offset="0.2540" stop-color="#000000"/><stop offset="0.2857" stop-color="#000000"/><stop offset="0.3280" stop-color="#000000"/><stop offset="0.3968" stop-color="#000000"/><stop offset="0.4444" stop-color="#000000"/><stop offset="0.4815" stop-color="#000000"/><stop offset="0.5132" stop-color="#000000"/><stop offset="0.5344" stop-color="#000000"/><stop offset="0.5556" stop-color="#000000"/><stop offset="0.5820" stop-color="#000000"/><stop offset="0.6032" stop-color="#000000"/><stop offset="0.6349" stop-color="#000000"/><stop offset="0.6667" stop-color="#000000"/><stop offset="0.6984" stop-color="#000000"/><stop offset="0.7407" stop-color="#323232"/><stop offset="0.7725" stop-color="#000000"/><stop offset="0.8021" stop-color="#000000"/><stop offset="0.8307" stop-color="#000000"/><stop offset="0.8677" stop-color="#323232"/><stop offset="0.8942" stop-color="#000000"/><stop offset="0.9238" stop-color="#000000"/><stop offset="0.9524" stop-color="#000000"/><stop offset="1.0000" stop-color="#323232"/></linearGradient>
<linearGradient id="g83" x1="0" y1="0" x2="0" y2="1"><stop offset="0.0000" stop-color="#5f5f5f"/><stop offset="0.0529" stop-color="#5f5f5f"/><stop offset="0.0952" stop-color="#5f5f5f"/><stop offset="0.1270" stop-color="#595959"/><stop offset="0.1587" stop-color="#505050"/><stop offset="0.1905" stop-color="#696969"/><stop offset="0.2222" stop-color="#696969"/><stop offset="0.2540" stop-color="#323232"/><stop offset="0.2857" stop-color="#696969"/><stop offset="0.3280" stop-color="#646464"/><stop offset="0.3968" stop-color="#646464"/><stop offset="0.4444" stop-color="#696969"/><stop offset="0.4815" stop-color="#000000"/><stop offset="0.5132" stop-color="#4a4a4a"/><stop offset="0.5344" stop-color="#595959"/><stop offset="0.5556" stop-color="#444444"/><stop offset="0.5820" stop-color="#4a4a4a"/><stop offset="0.6032" stop-color="#000000"/><stop offset="0.6349" stop-color="#4a4a4a"/><stop offset="0.6667" stop-color="#000000"/><stop offset="0.6984" stop-color="#595959"/><stop offset="0.7407" stop-color="#787878"/><stop offset="0.7725" stop-color="#696969"/><stop offset="0.8021" stop-color="#000000"/><stop offset="0.8307" stop-color="#696969"/><stop offset="0.8677" stop-color="#787878"/><stop offset="0.8942" stop-color="#696969"/><stop offset="0.9238" stop-color="#000000"/><stop offset="0.9524" stop-color="#696969"/><stop offset="1.0000" stop-color="#787878"/></linearGradient>
<linearGradient id="g84" x1="0" y1="0" x2="0" y2="1"><stop offset="0.0000" stop-color="#4e4e4e"/><stop offset="0.0529" stop-color="#4e4e4e"/><stop offset="0.0952" stop-color="#4e4e4e"/><stop offset="0.1270" stop-color="#474747"/><stop offset="0.1587" stop-color="#3c3c3c"/><stop offset="0.1905" stop-color="#5a5a5a"/><stop offset="0.2222" stop-color="#5a5a5a"/><stop offset="0.2540" stop-color="#181818"/><stop offset="0.2857" stop-color="#5a5a5a"/><stop offset="0.3280" stop-color="#545454"/><stop offset="0.3968" stop-color="#545454"/><stop offset="0.4444" stop-color="#5a5a5a"/><stop offset="0.4815" stop-color="#000000"/><stop offset="0.5132" stop-color="#353535"/><stop offset="0.5344" stop-color="#474747"/><stop offset="0.5556" stop-color="#2e2e2e"/><stop offset="0.5820" stop-color="#353535"/><stop offset="0.6032" stop-color="#000000"/><stop offset="0.6349" stop-color="#353535"/><stop offset="0.6667" stop-color="#000000"/><stop offset="0.6984" stop-color="#474747"/><stop offset="0.7407" stop-color="#6c6c6c"/><stop offset="0.7725" stop-color="#5a5a5a"/><stop offset="0.8021" stop-color="#000000"/><stop offset="0.8307" stop-color="#5a5a5a"/><stop offset="0.8677" stop-color="#6c6c6c"/><stop offset="0.8942" stop-color="#5a5a5a"/><stop offset="0.9238" stop-color="#000000"/><stop offset="0.9524" stop-color="#5a5a5a"/><stop offset="1.0000" stop-color="#6c6c6c"/></linearGradient>
<linearGradient id="g85" x1="0" y1="0" x2="0" y2="1"><stop offset="0.0000" stop-color="#8c8c8c"/><stop offset="0.0529" stop-color="#8c8c8c"/><stop offset="0.0952" stop-color="#8c8c8c"/><stop offset="0.1270" stop-color="#898989"/><stop offset="0.1587" stop-color="#828282"/><stop offset="0.1905" stop-color="#939393"/><stop offset="0.2222" stop-color="#939393"/><stop offset="0.2540" stop-color="#6c6c6c"/><stop offset="0.2857" stop-color="#939393"/><stop offset="0.3280" stop-color="#909090"/><stop offset="0.3968" stop-color="#909090"/><stop offset="0.4444" stop-color="#939393"/><stop offset="0.4815" stop-color="#262626"/><stop offset="0.5132" stop-color="#7e7e7e"/><stop offset="0.5344" stop-color="#898989"/><stop offset="0.5556" stop-color="#797979"/><stop offset="0.5820" stop-color="#7e7e7e"/><stop offset="0.6032" stop-color="#313131"/><stop offset="0.6349" stop-color="#7e7e7e"/><stop offset="0.6667" stop-color="#313131"/><stop offset="0.6984" stop-color="#898989"/><stop offset="0.7407" stop-color="#9e9e9e"/><stop offset="0.7725" stop-color="#939393"/><stop offset="0.8021" stop-color="#474747"/><stop offset="0.8307" stop-color="#939393"/><stop offset="0.8677" stop-color="#9e9e9e"/><stop offset="0.8942" stop-color="#939393"/><stop offset="0.9238" stop-color="#474747"/><stop offset="0.9524" stop-color="#939393"/><stop offset="1.0000" stop-color="#9e9e9e"/></linearGradient>
<linearGradient id="g86" x1="0" y1="0" x2="0" y2="1"><stop offset="0.0000" stop-color="#818181"/><stop offset="0.0529" stop-color="#818181"/><stop offset="0.0952" stop-color="#818181"/><stop offset="0.1270" stop-color="#7c7c7c"/><stop offset="0.1587" stop-color="#747474"/><stop offset="0.1905" stop-color="#898989"/><stop offset="0.2222" stop-color="#898989"/><stop offset="0.2540" stop-color="#5a5a5a"/><stop offset="0.2857" stop-color="#898989"/><stop offset="0.3280" stop-color="#858585"/><stop offset="0.3968" stop-color="#858585"/><stop offset="0.4444" stop-color="#898989"/><stop offset="0.4815" stop-color="#060606"/><stop offset="0.5132" stop-color="#6f6f6f"/><stop offset="0.5344" stop-color="#7c7c7c"/><stop offset="0.5556" stop-color="#6a6a6a"/><stop offset="0.5820" stop-color="#6f6f6f"/><stop offset="0.6032" stop-color="#131313"/><stop offset="0.6349" stop-color="#6f6f6f"/><stop offset="0.6667" stop-color="#131313"/><stop offset="0.6984" stop-color="#7c7c7c"/><stop offset="0.7407" stop-color="#969696"/><stop offset="0.7725" stop-color="#898989"/><stop offset="0.8021" stop-color="#2e2e2e"/><stop offset="0.8307" stop-color="#898989"/><stop offset="0.8677" stop-color="#969696"/><stop offset="0.8942" stop-color="#898989"/><stop offset="0.9238" stop-color="#2e2e2e"/><stop offset="0.9524" stop-color="#898989"/><stop offset="1.0000" stop-color="#969696"/></linearGradient>
<linearGradient id="g87" x1="0" y1="0" x2="0" y2="1"><stop offset="0.0000" stop-color="#b4b4b4"/><stop offset="0.0529" stop-color="#b4b4b4"/><stop offset="0.0952" stop-color="#b4b4b4"/><stop offset="0.1270" stop-color="#b2b2b2"/><stop offset="0.1587" stop-color="#aeaeae"/><stop offset="0.1905" stop-color="#b9b9b9"/><stop offset="0.2222" stop-color="#b9b9b9"/><stop offset="0.2540" stop-color="#a0a0a0"/><stop offset="0.2857" stop-color="#b9b9b9"/><stop offset="0.3280" stop-color="#b7b7b7"/><stop offset="0.3968" stop-color="#b7b7b7"/><stop offset="0.4444" stop-color="#b9b9b9"/><stop offset="0.4815" stop-color="#737373"/><stop offset="0.5132" stop-color="#ababab"/><stop offset="0.5344" stop-color="#b2b2b2"/><stop offset="0.5556" stop-color="#a8a8a8"/><stop offset="0.5820" stop-color="#ababab"/><stop offset="0.6032" stop-color="#7a7a7a"/><stop offset="0.6349" stop-color="#ababab"/><stop offset="0.6667" stop-color="#7a7a7a"/><stop offset="0.6984" stop-color="#b2b2b2"/><stop offset="0.7407" stop-color="#c0c0c0"/><stop offset="0.7725" stop-color="#b9b9b9"/><stop offset="0.8021" stop-color="#888888"/><stop offset="0.8307" stop-color="#b9b9b9"/><stop offset="0.8677" stop-color="#c0c0c0"/><stop offset="0.8942" stop-color="#b9b9b9"/><stop offset="0.9238" stop-color="#888888"/><stop offset="0.9524" stop-color="#b9b9b9"/><stop offset="1.0000" stop-color="#c0c0c0"/></linearGradient>
<linearGradient id="g88" x1="0" y1="0" x2="0" y2="1"><stop offset="0.0000" stop-color="#adadad"/><stop offset="0.0529" stop-color="#adadad"/><stop offset="0.0952" stop-color="#adadad"/><stop offset="0.1270" stop-color="#aaaaaa"/><stop offset="0.1587" stop-color="#a5a5a5"/><stop offset="0.1905" stop-color="#b3b3b3"/><stop offset="0.2222" stop-color="#b3b3b3"/><stop offset="0.2540" stop-color="#959595"/><stop offset="0.2857" stop-color="#b3b3b3"/><stop offset="0.3280" stop-color="#b0b0b0"/><stop offset="0.3968" stop-color="#b0b0b0"/><stop offset="0.4444" stop-color="#b3b3b3"/><stop offset="0.4815" stop-color="#5f5f5f"/><stop offset="0.5132" stop-color="#a2a2a2"/><stop offset="0.5344" stop-color="#aaaaaa"/><stop offset="0.5556" stop-color="#9f9f9f"/><stop offset="0.5820" stop-color="#a2a2a2"/><stop offset="0.6032" stop-color="#676767"/><stop offset="0.6349" stop-color="#a2a2a2"/><stop offset="0.6667" stop-color="#676767"/><stop offset="0.6984" stop-color="#aaaaaa"/><stop offset="0.7407" stop-color="#bbbbbb"/><stop offset="0.7725" stop-color="#b3b3b3"/><stop offset="0.8021" stop-color="#787878"/><stop offset="0.8307" stop-color="#b3b3b3"/><stop offset="0.8677" stop-color="#bbbbbb"/><stop offset="0.8942" stop-color="#b3b3b3"/><stop offset="0.9238" stop-color="#787878"/><stop offset="0.9524" stop-color="#b3b3b3"/><stop offset="1.0000" stop-color="#bbbbbb"/></linearGradient>
<linearGradient id="g89" x1="0" y1="0" x2="0" y2="1"><stop offset="0.0000" stop-color="#c6c6c6"/><stop offset="0.0529" stop-color="#c6c6c6"/><stop offset="0.0952" stop-color="#c6c6c6"/><stop offset="0.1270" stop-color="#c4c4c4"/><stop offset="0.1587" stop-color="#c1c1c1"/><stop offset="0.1905" stop-color="#c9c9c9"/><stop offset="0.2222" stop-color="#c9c9c9"/><stop offset="0.2540" stop-color="#b6b6b6"/><stop offset="0.2857" stop-color="#c9c9c9"/><stop offset="0.3280" stop-color="#c7c7c7"/><stop offset="0.3968" stop-color="#c7c7c7"/><stop offset="0.4444" stop-color="#c9c9c9"/><stop offset="0.4815" stop-color="#959595"/><stop offset="0.5132" stop-color="#bfbfbf"/><stop offset="0.5344" stop-color="#c4c4c4"/><stop offset="0.5556" stop-color="#bdbdbd"/><stop offset="0.5820" stop-color="#bfbfbf"/><stop offset="0.6032" stop-color="#9a9a9a"/><stop offset="0.6349" stop-color="#bfbfbf"/><stop offset="0.6667" stop-color="#9a9a9a"/><stop offset="0.6984" stop-color="#c4c4c4"/><stop offset="0.7407" stop-color="#cecece"/><stop offset="0.7725" stop-color="#c9c9c9"/><stop offset="0.8021" stop-color="#a5a5a5"/><stop offset="0.8307" stop-color="#c9c9c9"/><stop offset="0.8677" stop-color="#cecece"/><stop offset="0.8942" stop-color="#c9c9c9"/><stop offset="0.9238" stop-color="#a5a5a5"/><stop offset="0.9524" stop-color="#c9c9c9"/><stop offset="1.0000" stop-color="#cecece"/></linearGradient>
<linearGradient id="g90" x1="0" y1="0" x2="0" y2="1"><stop offset="0.0000" stop-color="#c1c1c1"/><stop offset="0.0529" stop-color="#c1c1c1"/><stop offset="0.0952" stop-color="#c1c1c1"/><stop offset="0.1270" stop-color="#bebebe"/><stop offset="0.1587" stop-color="#bbbbbb"/><stop offset="0.1905" stop-color="#c5c5c5"/><stop offset="0.2222" stop-color="#c5c5c5"/><stop offset="0.2540" stop-color="#aeaeae"/><stop offset="0.2857" stop-color="#c5c5c5"/><stop offset="0.3280" stop-color="#c3c3c3"/><stop offset="0.3968" stop-color="#c3c3c3"/><stop offset="0.4444" stop-color="#c5c5c5"/><stop offset="0.4815" stop-color="#868686"/><stop offset="0.5132" stop-color="#b8b8b8"/><stop offset="0.5344" stop-color="#bebebe"/><stop offset="0.5556" stop-color="#b6b6b6"/><stop offset="0.5820" stop-color="#b8b8b8"/><stop offset="0.6032" stop-color="#8c8c8c"/><stop offset="0.6349" stop-color="#b8b8b8"/><stop offset="0.6667" stop-color="#8c8c8c"/><stop offset="0.6984" stop-color="#bebebe"/><stop offset="0.7407" stop-color="#cbcbcb"/><stop offset="0.7725" stop-color="#c5c5c5"/><stop offset="0.8021" stop-color="#999999"/><stop offset="0.8307" stop-color="#c5c5c5"/><stop offset="0.8677" stop-color="#cbcbcb"/><stop offset="0.8942" stop-color="#c5c5c5"/><stop offset="0.9238" stop-color="#999999"/><stop offset="0.9524" stop-color="#c5c5c5"/><stop offset="1.0000" stop-color="#cbcbcb"/></linearGradient>
<linearGradient id="g91" x1="0" y1="0" x2="0" y2="1"><stop offset="0.0000" stop-color="#d2d2d2"/><stop offset="0.0529" stop-color="#d2d2d2"/><stop offset="0.0952" stop-color="#d2d2d2"/><stop offset="0.1270" stop-color="#d1d1d1"/><stop offset="0.1587" stop-color="#cecece"/><stop offset="0.1905" stop-color="#d4d4d4"/><stop offset="0.2222" stop-color="#d4d4d4"/><stop offset="0.2540" stop-color="#c7c7c7"/><stop offset="0.2857" stop-color="#d4d4d4"/><stop offset="0.3280" stop-color="#d3d3d3"/><stop offset="0.3968" stop-color="#d3d3d3"/><stop offset="0.4444" stop-color="#d4d4d4"/><stop offset="0.4815" stop-color="#afafaf"/><stop offset="0.5132" stop-color="#cdcdcd"/><stop offset="0.5344" stop-color="#d1d1d1"/><stop offset="0.5556" stop-color="#cbcbcb"/><stop offset="0.5820" stop-color="#cdcdcd"/><stop offset="0.6032" stop-color="#b3b3b3"/><stop offset="0.6349" stop-color="#cdcdcd"/><stop offset="0.6667" stop-color="#b3b3b3"/><stop offset="0.6984" stop-color="#d1d1d1"/><stop offset="0.7407" stop-color="#d8d8d8"/><stop offset="0.7725" stop-color="#d4d4d4"/><stop offset="0.8021" stop-color="#bababa"/><stop offset="0.8307" stop-color="#d4d4d4"/><stop offset="0.8677" stop-color="#d8d8d8"/><stop offset="0.8942" stop-color="#d4d4d4"/><stop offset="0.9238" stop-color="#bababa"/><stop offset="0.9524" stop-color="#d4d4d4"/><stop offset="1.0000" stop-color="#d8d8d8"/></linearGradient>
<linearGradient id="g92" x1="0" y1="0" x2="0" y2="1"><stop offset="0.0000" stop-color="#cecece"/><stop offset="0.0529" stop-color="#cecece"/><stop offset="0.0952" stop-color="#cecece"/><stop offset="0.1270" stop-color="#cdcdcd"/><stop offset="0.1587" stop-color="#cacaca"/><stop offset="0.1905" stop-color="#d1d1d1"/><stop offset="0.2222" stop-color="#d1d1d1"/><stop offset="0.2540" stop-color="#c1c1c1"/><stop offset="0.2857" stop-color="#d1d1d1"/><stop offset="0.3280" stop-color="#d0d0d0"/><stop offset="0.3968" stop-color="#d0d0d0"/><stop offset="0.4444" stop-color="#d1d1d1"/><stop offset="0.4815" stop-color="#a5a5a5"/><stop offset="0.5132" stop-color="#c8c8c8"/><stop offset="0.5344" stop-color="#cdcdcd"/><stop offset="0.5556" stop-color="#c6c6c6"/><stop offset="0.5820" stop-color="#c8c8c8"/><stop offset="0.6032" stop-color="#a9a9a9"/><stop offset="0.6349" stop-color="#c8c8c8"/><stop offset="0.6667" stop-color="#a9a9a9"/><stop offset="0.6984" stop-color="#cdcdcd"/><stop offset="0.7407" stop-color="#d6d6d6"/><stop offset="0.7725" stop-color="#d1d1d1"/><stop offset="0.8021" stop-color="#b2b2b2"/><stop offset="0.8307" stop-color="#d1d1d1"/><stop offset="0.8677" stop-color="#d6d6d6"/><stop offset="0.8942" stop-color="#d1d1d1"/><stop offset="0.9238" stop-color="#b2b2b2"/><stop offset="0.9524" stop-color="#d1d1d1"/><stop offset="1.0000" stop-color="#d6d6d6"/></linearGradient>
<filter id="f93" x="-10%" y="-50%" width="120%" height="200%" color-interpolation-filters="sRGB"><feGaussianBlur stdDeviation="1.3"/></filter>
<filter id="f94" x="-10%" y="-50%" width="120%" height="200%" color-interpolation-filters="sRGB"><feGaussianBlur stdDeviation="1.3"/></filter>
<filter id="f95" x="-10%" y="-50%" width="120%" height="200%" color-interpolation-filters="sRGB"><feGaussianBlur stdDeviation="1.3"/></filter></defs>
<rect x="0" y="0" width="2500" height="1280" fill="#ffffff"/>
<text transform="translate(9.2,48.0) scale(1.04,1)" font-size="46.2" font-weight="bold" fill="#000">A</text>
<text transform="translate(900.0,48.0) scale(1.03,1)" font-size="46.2" font-weight="bold" fill="#000">B</text>
<text transform="translate(1745.0,48.3) scale(1.03,1)" font-size="46.5" font-weight="bold" fill="#000">C</text>
<text transform="translate(244.30,178.30) rotate(-90)" font-size="25.00" text-anchor="start" font-weight="normal" fill="#111" stroke="#111" stroke-width="0.45">25 µg</text>
<text transform="translate(308.30,178.30) rotate(-90)" font-size="25.00" text-anchor="start" font-weight="normal" fill="#111" stroke="#111" stroke-width="0.45">25 µg</text>
<text x="358.40" y="170.30" font-size="24.00" text-anchor="middle" font-weight="normal" fill="#111" stroke="#111" stroke-width="0.45">1:2</text>
<text x="417.40" y="170.30" font-size="24.00" text-anchor="middle" font-weight="normal" fill="#111" stroke="#111" stroke-width="0.45">1:4</text>
<text x="477.40" y="170.30" font-size="24.00" text-anchor="middle" font-weight="normal" fill="#111" stroke="#111" stroke-width="0.45">1:8</text>
<text x="535.90" y="170.30" font-size="24.00" text-anchor="middle" font-weight="normal" fill="#111" stroke="#111" stroke-width="0.45">1:16</text>
<text x="596.90" y="170.30" font-size="24.00" text-anchor="middle" font-weight="normal" fill="#111" stroke="#111" stroke-width="0.45">1:32</text>
<text x="654.40" y="170.30" font-size="24.00" text-anchor="middle" font-weight="normal" fill="#111" stroke="#111" stroke-width="0.45">1:64</text>
<text x="103.60" y="217.40" font-size="24.50" text-anchor="start" font-weight="normal" fill="#111" stroke="#111" stroke-width="0.45">AHA</text>
<rect x="231.15" y="205.50" width="9.7" height="4" fill="#111"/>
<rect x="293.25" y="207.05" width="14.5" height="1.9" fill="#111"/>
<rect x="299.55" y="201.00" width="1.9" height="14" fill="#111"/>
<rect x="352.25" y="207.05" width="14.5" height="1.9" fill="#111"/>
<rect x="358.55" y="201.00" width="1.9" height="14" fill="#111"/>
<rect x="410.75" y="207.05" width="14.5" height="1.9" fill="#111"/>
<rect x="417.05" y="201.00" width="1.9" height="14" fill="#111"/>
<rect x="469.75" y="207.05" width="14.5" height="1.9" fill="#111"/>
<rect x="476.05" y="201.00" width="1.9" height="14" fill="#111"/>
<rect x="526.75" y="207.05" width="14.5" height="1.9" fill="#111"/>
<rect x="533.05" y="201.00" width="1.9" height="14" fill="#111"/>
<rect x="588.25" y="207.05" width="14.5" height="1.9" fill="#111"/>
<rect x="594.55" y="201.00" width="1.9" height="14" fill="#111"/>
<rect x="646.75" y="207.05" width="14.5" height="1.9" fill="#111"/>
<rect x="653.05" y="201.00" width="1.9" height="14" fill="#111"/>
<text transform="translate(1113.30,174.60) rotate(-90)" font-size="25.00" text-anchor="start" font-weight="normal" fill="#111" stroke="#111" stroke-width="0.45">25 µg</text>
<text transform="translate(1177.30,174.60) rotate(-90)" font-size="25.00" text-anchor="start" font-weight="normal" fill="#111" stroke="#111" stroke-width="0.45">25 µg</text>
<text x="1227.10" y="167.00" font-size="24.00" text-anchor="middle" font-weight="normal" fill="#111" stroke="#111" stroke-width="0.45">1:2</text>
<text x="1283.40" y="167.00" font-size="24.00" text-anchor="middle" font-weight="normal" fill="#111" stroke="#111" stroke-width="0.45">1:4</text>
<text x="1343.40" y="167.00" font-size="24.00" text-anchor="middle" font-weight="normal" fill="#111" stroke="#111" stroke-width="0.45">1:8</text>
<text x="1401.90" y="167.00" font-size="24.00" text-anchor="middle" font-weight="normal" fill="#111" stroke="#111" stroke-width="0.45">1:16</text>
<text x="1460.90" y="167.00" font-size="24.00" text-anchor="middle" font-weight="normal" fill="#111" stroke="#111" stroke-width="0.45">1:32</text>
<text x="1518.40" y="167.00" font-size="24.00" text-anchor="middle" font-weight="normal" fill="#111" stroke="#111" stroke-width="0.45">1:64</text>
<text x="972.70" y="214.80" font-size="24.50" text-anchor="start" font-weight="normal" fill="#111" stroke="#111" stroke-width="0.45">AHA</text>
<rect x="1100.15" y="203.50" width="9.7" height="4" fill="#111"/>
<rect x="1162.15" y="206.05" width="14.5" height="1.9" fill="#111"/>
<rect x="1168.45" y="200.00" width="1.9" height="14" fill="#111"/>
<rect x="1220.75" y="206.05" width="14.5" height="1.9" fill="#111"/>
<rect x="1227.05" y="200.00" width="1.9" height="14" fill="#111"/>
<rect x="1277.15" y="206.05" width="14.5" height="1.9" fill="#111"/>
<rect x="1283.45" y="200.00" width="1.9" height="14" fill="#111"/>
<rect x="1336.35" y="206.05" width="14.5" height="1.9" fill="#111"/>
<rect x="1342.65" y="200.00" width="1.9" height="14" fill="#111"/>
<rect x="1393.15" y="206.05" width="14.5" height="1.9" fill="#111"/>
<rect x="1399.45" y="200.00" width="1.9" height="14" fill="#111"/>
<rect x="1451.75" y="206.05" width="14.5" height="1.9" fill="#111"/>
<rect x="1458.05" y="200.00" width="1.9" height="14" fill="#111"/>
<rect x="1510.75" y="206.05" width="14.5" height="1.9" fill="#111"/>
<rect x="1517.05" y="200.00" width="1.9" height="14" fill="#111"/>
<text transform="translate(1976.20,172.20) rotate(-90)" font-size="25.00" text-anchor="start" font-weight="normal" fill="#111" stroke="#111" stroke-width="0.45">25 µg</text>
<text transform="translate(2039.30,172.20) rotate(-90)" font-size="25.00" text-anchor="start" font-weight="normal" fill="#111" stroke="#111" stroke-width="0.45">25 µg</text>
<text x="2089.10" y="165.30" font-size="24.00" text-anchor="middle" font-weight="normal" fill="#111" stroke="#111" stroke-width="0.45">1:2</text>
<text x="2150.40" y="165.30" font-size="24.00" text-anchor="middle" font-weight="normal" fill="#111" stroke="#111" stroke-width="0.45">1:4</text>
<text x="2211.10" y="165.30" font-size="24.00" text-anchor="middle" font-weight="normal" fill="#111" stroke="#111" stroke-width="0.45">1:8</text>
<text x="2270.90" y="165.30" font-size="24.00" text-anchor="middle" font-weight="normal" fill="#111" stroke="#111" stroke-width="0.45">1:16</text>
<text x="2330.40" y="165.30" font-size="24.00" text-anchor="middle" font-weight="normal" fill="#111" stroke="#111" stroke-width="0.45">1:32</text>
<text x="2389.90" y="165.30" font-size="24.00" text-anchor="middle" font-weight="normal" fill="#111" stroke="#111" stroke-width="0.45">1:64</text>
<text x="1830.10" y="211.30" font-size="24.50" text-anchor="start" font-weight="normal" fill="#111" stroke="#111" stroke-width="0.45">AHA</text>
<rect x="1961.15" y="201.00" width="9.7" height="4" fill="#111"/>
<rect x="2024.35" y="201.55" width="14.5" height="1.9" fill="#111"/>
<rect x="2030.65" y="195.50" width="1.9" height="14" fill="#111"/>
<rect x="2082.75" y="201.55" width="14.5" height="1.9" fill="#111"/>
<rect x="2089.05" y="195.50" width="1.9" height="14" fill="#111"/>
<rect x="2144.15" y="201.55" width="14.5" height="1.9" fill="#111"/>
<rect x="2150.45" y="195.50" width="1.9" height="14" fill="#111"/>
<rect x="2203.15" y="201.55" width="14.5" height="1.9" fill="#111"/>
<rect x="2209.45" y="195.50" width="1.9" height="14" fill="#111"/>
<rect x="2262.15" y="201.55" width="14.5" height="1.9" fill="#111"/>
<rect x="2268.45" y="195.50" width="1.9" height="14" fill="#111"/>
<rect x="2321.75" y="201.55" width="14.5" height="1.9" fill="#111"/>
<rect x="2328.05" y="195.50" width="1.9" height="14" fill="#111"/>
<rect x="2382.75" y="201.55" width="14.5" height="1.9" fill="#111"/>
<rect x="2389.05" y="195.50" width="1.9" height="14" fill="#111"/>
<rect x="199.40" y="239.50" width="496.30" height="188.30" fill="#000000"/>
<g clip-path="url(#c1)"><g filter="url(#f1)">
<rect x="272.00" y="237.50" width="47.70" height="192.30" fill="url(#g2)"/>
<rect x="272.00" y="237.50" width="9.54" height="192.30" fill="url(#g3)"/>
<rect x="310.16" y="237.50" width="9.54" height="192.30" fill="url(#g3)"/>
<rect x="332.50" y="237.50" width="47.00" height="192.30" fill="url(#g4)"/>
<rect x="332.50" y="237.50" width="9.40" height="192.30" fill="url(#g5)"/>
<rect x="370.10" y="237.50" width="9.40" height="192.30" fill="url(#g5)"/>
<rect x="393.50" y="237.50" width="46.00" height="192.30" fill="url(#g6)"/>
<rect x="393.50" y="237.50" width="9.20" height="192.30" fill="url(#g7)"/>
<rect x="430.30" y="237.50" width="9.20" height="192.30" fill="url(#g7)"/>
<rect x="454.50" y="237.50" width="44.00" height="192.30" fill="url(#g8)"/>
<rect x="454.50" y="237.50" width="8.80" height="192.30" fill="url(#g9)"/>
<rect x="489.70" y="237.50" width="8.80" height="192.30" fill="url(#g9)"/>
<rect x="515.00" y="237.50" width="43.00" height="192.30" fill="url(#g10)"/>
<rect x="515.00" y="237.50" width="8.60" height="192.30" fill="url(#g11)"/>
<rect x="549.40" y="237.50" width="8.60" height="192.30" fill="url(#g11)"/>
<rect x="575.00" y="237.50" width="43.00" height="192.30" fill="url(#g12)"/>
<rect x="575.00" y="237.50" width="8.60" height="192.30" fill="url(#g13)"/>
<rect x="609.40" y="237.50" width="8.60" height="192.30" fill="url(#g13)"/>
<rect x="636.00" y="237.50" width="43.00" height="192.30" fill="url(#g14)"/>
<rect x="636.00" y="237.50" width="8.60" height="192.30" fill="url(#g15)"/>
<rect x="670.40" y="237.50" width="8.60" height="192.30" fill="url(#g15)"/>
</g></g>
<rect x="199.40" y="450.50" width="496.20" height="187.80" fill="#080000"/>
<g clip-path="url(#c16)"><g filter="url(#f16)">
<rect x="205.00" y="448.50" width="60.00" height="191.80" fill="url(#g17)"/>
<rect x="270.40" y="448.50" width="52.30" height="191.80" fill="url(#g18)"/>
<rect x="333.50" y="448.50" width="47.70" height="191.80" fill="url(#g19)"/>
<rect x="333.50" y="448.50" width="9.54" height="191.80" fill="url(#g20)"/>
<rect x="371.66" y="448.50" width="9.54" height="191.80" fill="url(#g20)"/>
<rect x="395.00" y="448.50" width="44.70" height="191.80" fill="url(#g21)"/>
<rect x="395.00" y="448.50" width="8.94" height="191.80" fill="url(#g22)"/>
<rect x="430.76" y="448.50" width="8.94" height="191.80" fill="url(#g22)"/>
<rect x="456.00" y="448.50" width="43.30" height="191.80" fill="url(#g23)"/>
<rect x="456.00" y="448.50" width="8.66" height="191.80" fill="url(#g24)"/>
<rect x="490.64" y="448.50" width="8.66" height="191.80" fill="url(#g24)"/>
<rect x="515.40" y="448.50" width="43.10" height="191.80" fill="url(#g25)"/>
<rect x="515.40" y="448.50" width="8.62" height="191.80" fill="url(#g26)"/>
<rect x="549.88" y="448.50" width="8.62" height="191.80" fill="url(#g26)"/>
<rect x="575.50" y="448.50" width="43.10" height="191.80" fill="url(#g27)"/>
<rect x="575.50" y="448.50" width="8.62" height="191.80" fill="url(#g28)"/>
<rect x="609.98" y="448.50" width="8.62" height="191.80" fill="url(#g28)"/>
<rect x="635.50" y="448.50" width="44.50" height="191.80" fill="url(#g29)"/>
<rect x="635.50" y="448.50" width="8.90" height="191.80" fill="url(#g30)"/>
<rect x="671.10" y="448.50" width="8.90" height="191.80" fill="url(#g30)"/>
</g></g>
<rect x="1055.80" y="239.60" width="498.20" height="189.70" fill="#000000"/>
<g clip-path="url(#c31)"><g filter="url(#f31)">
<rect x="1143.90" y="237.60" width="45.40" height="193.70" fill="url(#g32)"/>
<rect x="1143.90" y="237.60" width="9.08" height="193.70" fill="url(#g33)"/>
<rect x="1180.22" y="237.60" width="9.08" height="193.70" fill="url(#g33)"/>
<rect x="1204.00" y="237.60" width="43.80" height="193.70" fill="url(#g34)"/>
<rect x="1204.00" y="237.60" width="8.76" height="193.70" fill="url(#g35)"/>
<rect x="1239.04" y="237.60" width="8.76" height="193.70" fill="url(#g35)"/>
<rect x="1262.40" y="237.60" width="41.60" height="193.70" fill="url(#g36)"/>
<rect x="1262.40" y="237.60" width="8.32" height="193.70" fill="url(#g37)"/>
<rect x="1295.68" y="237.60" width="8.32" height="193.70" fill="url(#g37)"/>
<rect x="1320.30" y="237.60" width="41.10" height="193.70" fill="url(#g38)"/>
<rect x="1320.30" y="237.60" width="8.22" height="193.70" fill="url(#g39)"/>
<rect x="1353.18" y="237.60" width="8.22" height="193.70" fill="url(#g39)"/>
<rect x="1377.90" y="237.60" width="42.00" height="193.70" fill="url(#g40)"/>
<rect x="1377.90" y="237.60" width="8.40" height="193.70" fill="url(#g41)"/>
<rect x="1411.50" y="237.60" width="8.40" height="193.70" fill="url(#g41)"/>
<rect x="1437.30" y="237.60" width="41.10" height="193.70" fill="url(#g42)"/>
<rect x="1437.30" y="237.60" width="8.22" height="193.70" fill="url(#g43)"/>
<rect x="1470.18" y="237.60" width="8.22" height="193.70" fill="url(#g43)"/>
<rect x="1495.80" y="237.60" width="39.60" height="193.70" fill="url(#g44)"/>
<rect x="1495.80" y="237.60" width="7.92" height="193.70" fill="url(#g45)"/>
<rect x="1527.48" y="237.60" width="7.92" height="193.70" fill="url(#g45)"/>
</g></g>
<rect x="1056.00" y="448.60" width="497.30" height="187.80" fill="#000800"/>
<g clip-path="url(#c46)"><g filter="url(#f46)">
<rect x="1128.10" y="446.60" width="50.50" height="191.80" fill="url(#g47)"/>
<rect x="1191.20" y="446.60" width="45.80" height="191.80" fill="url(#g48)"/>
<rect x="1191.20" y="446.60" width="9.16" height="191.80" fill="url(#g49)"/>
<rect x="1227.84" y="446.60" width="9.16" height="191.80" fill="url(#g49)"/>
<rect x="1252.70" y="446.60" width="44.30" height="191.80" fill="url(#g50)"/>
<rect x="1252.70" y="446.60" width="8.86" height="191.80" fill="url(#g51)"/>
<rect x="1288.14" y="446.60" width="8.86" height="191.80" fill="url(#g51)"/>
<rect x="1312.40" y="446.60" width="44.30" height="191.80" fill="url(#g52)"/>
<rect x="1312.40" y="446.60" width="8.86" height="191.80" fill="url(#g53)"/>
<rect x="1347.84" y="446.60" width="8.86" height="191.80" fill="url(#g53)"/>
<rect x="1372.50" y="446.60" width="44.30" height="191.80" fill="url(#g54)"/>
<rect x="1372.50" y="446.60" width="8.86" height="191.80" fill="url(#g55)"/>
<rect x="1407.94" y="446.60" width="8.86" height="191.80" fill="url(#g55)"/>
<rect x="1432.60" y="446.60" width="44.20" height="191.80" fill="url(#g56)"/>
<rect x="1432.60" y="446.60" width="8.84" height="191.80" fill="url(#g57)"/>
<rect x="1467.96" y="446.60" width="8.84" height="191.80" fill="url(#g57)"/>
<rect x="1492.70" y="446.60" width="44.20" height="191.80" fill="url(#g58)"/>
<rect x="1492.70" y="446.60" width="8.84" height="191.80" fill="url(#g59)"/>
<rect x="1528.06" y="446.60" width="8.84" height="191.80" fill="url(#g59)"/>
</g></g>
<rect x="1927.30" y="232.30" width="496.90" height="189.20" fill="#efefef"/>
<g clip-path="url(#c60)"><g filter="url(#f60)">
<rect x="1943.75" y="230.30" width="46.85" height="193.20" fill="url(#g61)"/>
<rect x="1943.75" y="230.30" width="9.37" height="193.20" fill="url(#g62)"/>
<rect x="1981.23" y="230.30" width="9.37" height="193.20" fill="url(#g62)"/>
<rect x="2005.50" y="230.30" width="46.80" height="193.20" fill="url(#g63)"/>
<rect x="2005.50" y="230.30" width="9.36" height="193.20" fill="url(#g64)"/>
<rect x="2042.94" y="230.30" width="9.36" height="193.20" fill="url(#g64)"/>
<rect x="2068.75" y="230.30" width="42.25" height="193.20" fill="url(#g65)"/>
<rect x="2068.75" y="230.30" width="8.45" height="193.20" fill="url(#g66)"/>
<rect x="2102.55" y="230.30" width="8.45" height="193.20" fill="url(#g66)"/>
<rect x="2128.90" y="230.30" width="41.40" height="193.20" fill="url(#g67)"/>
<rect x="2128.90" y="230.30" width="8.28" height="193.20" fill="url(#g68)"/>
<rect x="2162.02" y="230.30" width="8.28" height="193.20" fill="url(#g68)"/>
<rect x="2189.50" y="230.30" width="39.90" height="193.20" fill="url(#g69)"/>
<rect x="2189.50" y="230.30" width="7.98" height="193.20" fill="url(#g70)"/>
<rect x="2221.42" y="230.30" width="7.98" height="193.20" fill="url(#g70)"/>
<rect x="2249.00" y="230.30" width="39.75" height="193.20" fill="url(#g71)"/>
<rect x="2249.00" y="230.30" width="7.95" height="193.20" fill="url(#g72)"/>
<rect x="2280.80" y="230.30" width="7.95" height="193.20" fill="url(#g72)"/>
<rect x="2310.60" y="230.30" width="39.10" height="193.20" fill="url(#g73)"/>
<rect x="2310.60" y="230.30" width="7.82" height="193.20" fill="url(#g74)"/>
<rect x="2341.88" y="230.30" width="7.82" height="193.20" fill="url(#g74)"/>
<rect x="2371.60" y="230.30" width="39.80" height="193.20" fill="url(#g75)"/>
<rect x="2371.60" y="230.30" width="7.96" height="193.20" fill="url(#g76)"/>
<rect x="2403.44" y="230.30" width="7.96" height="193.20" fill="url(#g76)"/>
</g></g>
<rect x="1927.30" y="232.30" width="496.90" height="189.20" fill="none" stroke="#3a3a3a" stroke-width="1.6"/>
<rect x="1929.80" y="445.90" width="494.40" height="189.40" fill="#ececec"/>
<g clip-path="url(#c77)"><g filter="url(#f77)">
<rect x="1946.90" y="443.90" width="46.85" height="193.40" fill="url(#g78)"/>
<rect x="1946.90" y="443.90" width="9.37" height="193.40" fill="url(#g79)"/>
<rect x="1984.38" y="443.90" width="9.37" height="193.40" fill="url(#g79)"/>
<rect x="2008.60" y="443.90" width="47.65" height="193.40" fill="url(#g80)"/>
<rect x="2070.30" y="443.90" width="43.70" height="193.40" fill="url(#g81)"/>
<rect x="2070.30" y="443.90" width="8.74" height="193.40" fill="url(#g82)"/>
<rect x="2105.26" y="443.90" width="8.74" height="193.40" fill="url(#g82)"/>
<rect x="2131.25" y="443.90" width="41.45" height="193.40" fill="url(#g83)"/>
<rect x="2131.25" y="443.90" width="8.29" height="193.40" fill="url(#g84)"/>
<rect x="2164.41" y="443.90" width="8.29" height="193.40" fill="url(#g84)"/>
<rect x="2190.30" y="443.90" width="39.90" height="193.40" fill="url(#g85)"/>
<rect x="2190.30" y="443.90" width="7.98" height="193.40" fill="url(#g86)"/>
<rect x="2222.22" y="443.90" width="7.98" height="193.40" fill="url(#g86)"/>
<rect x="2249.70" y="443.90" width="39.05" height="193.40" fill="url(#g87)"/>
<rect x="2249.70" y="443.90" width="7.81" height="193.40" fill="url(#g88)"/>
<rect x="2280.94" y="443.90" width="7.81" height="193.40" fill="url(#g88)"/>
<rect x="2309.80" y="443.90" width="39.10" height="193.40" fill="url(#g89)"/>
<rect x="2309.80" y="443.90" width="7.82" height="193.40" fill="url(#g90)"/>
<rect x="2341.08" y="443.90" width="7.82" height="193.40" fill="url(#g90)"/>
<rect x="2370.00" y="443.90" width="39.80" height="193.40" fill="url(#g91)"/>
<rect x="2370.00" y="443.90" width="7.96" height="193.40" fill="url(#g92)"/>
<rect x="2401.84" y="443.90" width="7.96" height="193.40" fill="url(#g92)"/>
</g></g>
<rect x="1929.80" y="445.90" width="494.40" height="189.40" fill="none" stroke="#3a3a3a" stroke-width="1.6"/>
<rect x="197.90" y="658.30" width="499.60" height="53.70" fill="#fdfdfd" stroke="#2a2a2a" stroke-width="1.7"/>
<g filter="url(#f93)">
<rect x="217.00" y="681.55" width="45.40" height="8.50" rx="4.25" fill="#050505"/>
<rect x="277.40" y="681.55" width="42.60" height="8.50" rx="4.25" fill="#0a0a0a"/>
<rect x="336.60" y="683.00" width="39.10" height="6.00" rx="3.00" fill="#3a3a3a"/>
<rect x="393.80" y="683.75" width="39.50" height="4.50" rx="2.25" fill="#b8b8b8"/>
<rect x="450.00" y="684.00" width="39.50" height="4.00" rx="2.00" fill="#ececec"/>
</g>
<rect x="1054.40" y="655.00" width="499.10" height="59.30" fill="#fdfdfd" stroke="#2a2a2a" stroke-width="1.7"/>
<g filter="url(#f94)">
<rect x="1071.00" y="682.35" width="46.80" height="8.50" rx="4.25" fill="#050505"/>
<rect x="1133.40" y="682.35" width="42.60" height="8.50" rx="4.25" fill="#080808"/>
<rect x="1192.70" y="684.00" width="40.50" height="6.00" rx="3.00" fill="#404040"/>
<rect x="1252.00" y="684.50" width="39.50" height="5.00" rx="2.50" fill="#909090"/>
<rect x="1311.20" y="685.50" width="37.50" height="4.00" rx="2.00" fill="#d6d6d6"/>
<rect x="1369.50" y="686.00" width="37.50" height="4.00" rx="2.00" fill="#f2f2f2"/>
</g>
<rect x="1932.10" y="659.40" width="491.60" height="52.40" fill="#fdfdfd" stroke="#2a2a2a" stroke-width="1.7"/>
<g filter="url(#f95)">
<rect x="1944.00" y="683.00" width="44.60" height="8.00" rx="4.00" fill="#050505"/>
<rect x="2004.20" y="682.50" width="41.60" height="9.00" rx="4.50" fill="#050505"/>
<rect x="2062.50" y="683.50" width="38.50" height="8.00" rx="4.00" fill="#101010"/>
<rect x="2119.70" y="684.50" width="36.30" height="6.00" rx="3.00" fill="#7a7a7a"/>
<rect x="2175.80" y="685.00" width="36.40" height="5.00" rx="2.50" fill="#c4c4c4"/>
<rect x="2232.00" y="686.00" width="35.30" height="4.00" rx="2.00" fill="#ececec"/>
<rect x="2290.00" y="686.00" width="37.60" height="4.00" rx="2.00" fill="#f3f3f3"/>
</g>
<text transform="translate(78.60,319.30) scale(1.045,1)" font-size="23.40" text-anchor="middle" fill="#111" stroke="#111" stroke-width="0.55">TAMRA-DIBO</text>
<text transform="translate(78.60,349.00) scale(1.045,1)" font-size="23.40" text-anchor="middle" fill="#111" stroke="#111" stroke-width="0.55">Short Ex.</text>
<line x1="158.90" y1="334.00" x2="177.00" y2="334.00" stroke="#555" stroke-width="1.60"/>
<text transform="translate(81.30,525.90) scale(1.045,1)" font-size="23.40" text-anchor="middle" fill="#111" stroke="#111" stroke-width="0.55">TAMRA-DIBO</text>
<text transform="translate(81.30,555.60) scale(1.045,1)" font-size="23.40" text-anchor="middle" fill="#111" stroke="#111" stroke-width="0.55">Long Ex.</text>
<line x1="158.50" y1="542.10" x2="177.00" y2="542.10" stroke="#555" stroke-width="1.60"/>
<text transform="translate(147.70,692.80) scale(1.045,1)" font-size="23.40" text-anchor="end" fill="#111" stroke="#111" stroke-width="0.55">β-Actin</text>
<line x1="158.50" y1="687.60" x2="176.70" y2="687.60" stroke="#333" stroke-width="2.60"/>
<text transform="translate(946.90,333.50) scale(1.045,1)" font-size="23.40" text-anchor="middle" fill="#111" stroke="#111" stroke-width="0.55">488-DBCO</text>
<text transform="translate(946.90,363.60) scale(1.045,1)" font-size="23.40" text-anchor="middle" fill="#111" stroke="#111" stroke-width="0.55">Short Ex.</text>
<line x1="1022.00" y1="334.30" x2="1041.00" y2="334.30" stroke="#333" stroke-width="1.80"/>
<text transform="translate(948.85,542.50) scale(1.045,1)" font-size="23.40" text-anchor="middle" fill="#111" stroke="#111" stroke-width="0.55">488-DBCO</text>
<text transform="translate(948.85,571.80) scale(1.045,1)" font-size="23.40" text-anchor="middle" fill="#111" stroke="#111" stroke-width="0.55">Long Ex.</text>
<line x1="1022.00" y1="541.70" x2="1041.00" y2="541.70" stroke="#333" stroke-width="1.80"/>
<text transform="translate(1011.00,691.00) scale(1.045,1)" font-size="23.40" text-anchor="end" fill="#111" stroke="#111" stroke-width="0.55">β-Actin</text>
<line x1="1022.00" y1="685.00" x2="1041.00" y2="685.00" stroke="#222" stroke-width="2.20"/>
<text transform="translate(1814.80,321.30) scale(1.045,1)" font-size="23.40" text-anchor="middle" fill="#111" stroke="#111" stroke-width="0.55">Biotin-DIBO</text>
<text transform="translate(1814.80,349.80) scale(1.045,1)" font-size="23.40" text-anchor="middle" fill="#111" stroke="#111" stroke-width="0.55">Short Ex.</text>
<line x1="1886.50" y1="336.30" x2="1905.30" y2="336.30" stroke="#222" stroke-width="2.20"/>
<text transform="translate(1816.65,533.50) scale(1.045,1)" font-size="23.40" text-anchor="middle" fill="#111" stroke="#111" stroke-width="0.55">Biotin-DIBO</text>
<text transform="translate(1816.65,563.40) scale(1.045,1)" font-size="23.40" text-anchor="middle" fill="#111" stroke="#111" stroke-width="0.55">Long Ex.</text>
<line x1="1886.50" y1="549.00" x2="1905.30" y2="549.00" stroke="#222" stroke-width="2.20"/>
<text transform="translate(1875.60,694.90) scale(1.045,1)" font-size="23.40" text-anchor="end" fill="#111" stroke="#111" stroke-width="0.55">β-Actin</text>
<line x1="1886.50" y1="689.00" x2="1905.30" y2="689.00" stroke="#222" stroke-width="2.20"/>
<line x1="706.60" y1="269.40" x2="725.50" y2="269.40" stroke="#222" stroke-width="2.40"/>
<text x="733.20" y="276.20" font-size="19.50" text-anchor="start" font-weight="normal" fill="#111" stroke="#111" stroke-width="0.45">100</text>
<line x1="706.60" y1="301.70" x2="725.50" y2="301.70" stroke="#222" stroke-width="2.40"/>
<text x="733.20" y="308.50" font-size="19.50" text-anchor="start" font-weight="normal" fill="#111" stroke="#111" stroke-width="0.45">75</text>
<line x1="706.60" y1="347.00" x2="725.50" y2="347.00" stroke="#222" stroke-width="2.40"/>
<text x="733.20" y="353.80" font-size="19.50" text-anchor="start" font-weight="normal" fill="#111" stroke="#111" stroke-width="0.45">63</text>
<line x1="706.60" y1="401.20" x2="725.50" y2="401.20" stroke="#222" stroke-width="1.80"/>
<text x="733.20" y="408.00" font-size="19.50" text-anchor="start" font-weight="normal" fill="#111" stroke="#111" stroke-width="0.45">48</text>
<line x1="706.60" y1="478.20" x2="725.50" y2="478.20" stroke="#222" stroke-width="2.40"/>
<text x="733.20" y="485.00" font-size="19.50" text-anchor="start" font-weight="normal" fill="#111" stroke="#111" stroke-width="0.45">100</text>
<line x1="706.60" y1="513.00" x2="725.50" y2="513.00" stroke="#222" stroke-width="1.80"/>
<text x="733.20" y="519.80" font-size="19.50" text-anchor="start" font-weight="normal" fill="#111" stroke="#111" stroke-width="0.45">75</text>
<line x1="706.60" y1="555.70" x2="725.50" y2="555.70" stroke="#222" stroke-width="2.40"/>
<text x="733.20" y="562.50" font-size="19.50" text-anchor="start" font-weight="normal" fill="#111" stroke="#111" stroke-width="0.45">63</text>
<line x1="706.60" y1="609.50" x2="725.50" y2="609.50" stroke="#222" stroke-width="1.80"/>
<text x="733.20" y="616.30" font-size="19.50" text-anchor="start" font-weight="normal" fill="#111" stroke="#111" stroke-width="0.45">48</text>
<line x1="1562.80" y1="269.40" x2="1581.40" y2="269.40" stroke="#222" stroke-width="2.40"/>
<text x="1589.90" y="276.20" font-size="19.50" text-anchor="start" font-weight="normal" fill="#111" stroke="#111" stroke-width="0.45">100</text>
<line x1="1562.80" y1="301.70" x2="1581.40" y2="301.70" stroke="#222" stroke-width="2.40"/>
<text x="1589.90" y="308.50" font-size="19.50" text-anchor="start" font-weight="normal" fill="#111" stroke="#111" stroke-width="0.45">75</text>
<line x1="1562.80" y1="347.00" x2="1581.40" y2="347.00" stroke="#222" stroke-width="2.40"/>
<text x="1589.90" y="353.80" font-size="19.50" text-anchor="start" font-weight="normal" fill="#111" stroke="#111" stroke-width="0.45">63</text>
<line x1="1562.80" y1="401.20" x2="1581.40" y2="401.20" stroke="#222" stroke-width="1.80"/>
<text x="1589.90" y="408.00" font-size="19.50" text-anchor="start" font-weight="normal" fill="#111" stroke="#111" stroke-width="0.45">48</text>
<line x1="1562.80" y1="473.30" x2="1581.40" y2="473.30" stroke="#222" stroke-width="2.40"/>
<text x="1589.90" y="480.10" font-size="19.50" text-anchor="start" font-weight="normal" fill="#111" stroke="#111" stroke-width="0.45">100</text>
<line x1="1562.80" y1="505.60" x2="1581.40" y2="505.60" stroke="#222" stroke-width="1.80"/>
<text x="1589.90" y="512.40" font-size="19.50" text-anchor="start" font-weight="normal" fill="#111" stroke="#111" stroke-width="0.45">75</text>
<line x1="1562.80" y1="551.30" x2="1581.40" y2="551.30" stroke="#222" stroke-width="1.80"/>
<text x="1589.90" y="558.10" font-size="19.50" text-anchor="start" font-weight="normal" fill="#111" stroke="#111" stroke-width="0.45">63</text>
<line x1="1562.80" y1="605.00" x2="1581.40" y2="605.00" stroke="#222" stroke-width="2.40"/>
<text x="1589.90" y="611.80" font-size="19.50" text-anchor="start" font-weight="normal" fill="#111" stroke="#111" stroke-width="0.45">48</text>
<line x1="2437.70" y1="251.90" x2="2456.60" y2="251.90" stroke="#222" stroke-width="1.80"/>
<text x="2464.40" y="258.70" font-size="19.50" text-anchor="start" font-weight="normal" fill="#111" stroke="#111" stroke-width="0.45">135</text>
<line x1="2437.70" y1="285.90" x2="2456.60" y2="285.90" stroke="#222" stroke-width="2.40"/>
<text x="2464.40" y="292.70" font-size="19.50" text-anchor="start" font-weight="normal" fill="#111" stroke="#111" stroke-width="0.45">100</text>
<line x1="2437.70" y1="313.40" x2="2456.60" y2="313.40" stroke="#222" stroke-width="2.40"/>
<text x="2464.40" y="320.20" font-size="19.50" text-anchor="start" font-weight="normal" fill="#111" stroke="#111" stroke-width="0.45">75</text>
<line x1="2437.70" y1="348.70" x2="2456.60" y2="348.70" stroke="#222" stroke-width="1.80"/>
<text x="2464.40" y="355.50" font-size="19.50" text-anchor="start" font-weight="normal" fill="#111" stroke="#111" stroke-width="0.45">63</text>
<line x1="2437.70" y1="395.60" x2="2456.60" y2="395.60" stroke="#222" stroke-width="2.40"/>
<text x="2464.40" y="402.40" font-size="19.50" text-anchor="start" font-weight="normal" fill="#111" stroke="#111" stroke-width="0.45">48</text>
<line x1="2437.70" y1="465.40" x2="2456.60" y2="465.40" stroke="#222" stroke-width="2.40"/>
<text x="2464.40" y="472.20" font-size="19.50" text-anchor="start" font-weight="normal" fill="#111" stroke="#111" stroke-width="0.45">135</text>
<line x1="2437.70" y1="499.90" x2="2456.60" y2="499.90" stroke="#222" stroke-width="2.40"/>
<text x="2464.40" y="506.70" font-size="19.50" text-anchor="start" font-weight="normal" fill="#111" stroke="#111" stroke-width="0.45">100</text>
<line x1="2437.70" y1="527.10" x2="2456.60" y2="527.10" stroke="#222" stroke-width="1.80"/>
<text x="2464.40" y="533.90" font-size="19.50" text-anchor="start" font-weight="normal" fill="#111" stroke="#111" stroke-width="0.45">75</text>
<line x1="2437.70" y1="562.70" x2="2456.60" y2="562.70" stroke="#222" stroke-width="1.80"/>
<text x="2464.40" y="569.50" font-size="19.50" text-anchor="start" font-weight="normal" fill="#111" stroke="#111" stroke-width="0.45">63</text>
<line x1="2437.70" y1="609.10" x2="2456.60" y2="609.10" stroke="#222" stroke-width="1.80"/>
<text x="2464.40" y="615.90" font-size="19.50" text-anchor="start" font-weight="normal" fill="#111" stroke="#111" stroke-width="0.45">48</text>
<path d="M227.89,821.50 L231.67,833.35 L235.46,844.80 L239.25,855.87 L243.04,866.57 L246.83,876.91 L250.62,886.91 L254.40,896.58 L258.19,905.92 L261.98,914.95 L265.77,923.67 L269.56,932.11 L273.35,940.26 L277.14,948.15 L280.92,955.77 L284.71,963.13 L288.50,970.25 L292.29,977.13 L296.08,983.78 L299.87,990.21 L303.66,996.42 L307.44,1002.43 L311.23,1008.24 L315.02,1013.85 L318.81,1019.27 L322.60,1024.52 L326.39,1029.59 L330.17,1034.49 L333.96,1039.22 L337.75,1043.80 L341.54,1048.22 L345.33,1052.50 L349.12,1056.63 L352.91,1060.63 L356.69,1064.49 L360.48,1068.23 L364.27,1071.84 L368.06,1075.32 L371.85,1078.70 L375.64,1081.96 L379.43,1085.11 L383.21,1088.15 L387.00,1091.10 L390.79,1093.94 L394.58,1096.69 L398.37,1099.35 L402.16,1101.92 L405.94,1104.40 L409.73,1106.80 L413.52,1109.12 L417.31,1111.37 L421.10,1113.54 L424.89,1115.63 L428.68,1117.66 L432.46,1119.62 L436.25,1121.51 L440.04,1123.34 L443.83,1125.11 L447.62,1126.82 L451.41,1128.47 L455.20,1130.07 L458.98,1131.61 L462.77,1133.10 L466.56,1134.55 L470.35,1135.94 L474.14,1137.29 L477.93,1138.59 L481.71,1139.85 L485.50,1141.07 L489.29,1142.24 L493.08,1143.38 L496.87,1144.48 L500.66,1145.54 L504.45,1146.57 L508.23,1147.56 L512.02,1148.52 L515.81,1149.45 L519.60,1150.35 L523.39,1151.21 L527.18,1152.05 L530.97,1152.86 L534.75,1153.64 L538.54,1154.40 L542.33,1155.13 L546.12,1155.84 L549.91,1156.52 L553.70,1157.18 L557.48,1157.82 L561.27,1158.44 L565.06,1159.03 L568.85,1159.61 L572.64,1160.17 L576.43,1160.71 L580.22,1161.23 L584.00,1161.73 L587.79,1162.22 L591.58,1162.69 L595.37,1163.14 L599.16,1163.58 L602.95,1164.01 L606.74,1164.42 L610.52,1164.81 L614.31,1165.20 L618.10,1165.57 L621.89,1165.93 L625.68,1166.27 L629.47,1166.61 L633.25,1166.93 L637.04,1167.24 L640.83,1167.55 L644.62,1167.84 L648.41,1168.12 L652.20,1168.39 L655.99,1168.66 L659.77,1168.91 L663.56,1169.16 L667.35,1169.40 L671.14,1169.63 L674.93,1169.85 L678.72,1170.07 L682.51,1170.28" fill="none" stroke="#e8141a" stroke-width="4.0" stroke-dasharray="11 7"/>
<line x1="200.90" y1="820.30" x2="200.90" y2="1178.05" stroke="#000" stroke-width="3.60"/>
<line x1="190.50" y1="1176.30" x2="733.09" y2="1176.30" stroke="#000" stroke-width="3.40"/>
<line x1="190.50" y1="1176.30" x2="200.90" y2="1176.30" stroke="#000" stroke-width="2.80"/>
<text x="186.90" y="1185.90" font-size="27.00" text-anchor="end" font-weight="bold" fill="#000" stroke="#000" stroke-width="0.20">0.0</text>
<line x1="190.50" y1="1105.34" x2="200.90" y2="1105.34" stroke="#000" stroke-width="2.80"/>
<text x="186.90" y="1114.94" font-size="27.00" text-anchor="end" font-weight="bold" fill="#000" stroke="#000" stroke-width="0.20">0.2</text>
<line x1="190.50" y1="1034.38" x2="200.90" y2="1034.38" stroke="#000" stroke-width="2.80"/>
<text x="186.90" y="1043.98" font-size="27.00" text-anchor="end" font-weight="bold" fill="#000" stroke="#000" stroke-width="0.20">0.4</text>
<line x1="190.50" y1="963.42" x2="200.90" y2="963.42" stroke="#000" stroke-width="2.80"/>
<text x="186.90" y="973.02" font-size="27.00" text-anchor="end" font-weight="bold" fill="#000" stroke="#000" stroke-width="0.20">0.6</text>
<line x1="190.50" y1="892.46" x2="200.90" y2="892.46" stroke="#000" stroke-width="2.80"/>
<text x="186.90" y="902.06" font-size="27.00" text-anchor="end" font-weight="bold" fill="#000" stroke="#000" stroke-width="0.20">0.8</text>
<line x1="190.50" y1="821.50" x2="200.90" y2="821.50" stroke="#000" stroke-width="2.80"/>
<text x="186.90" y="831.10" font-size="27.00" text-anchor="end" font-weight="bold" fill="#000" stroke="#000" stroke-width="0.20">1.0</text>
<line x1="200.90" y1="1176.30" x2="200.90" y2="1186.30" stroke="#000" stroke-width="2.80"/>
<text x="200.90" y="1215.30" font-size="27.00" text-anchor="middle" font-weight="bold" fill="#000" stroke="#000" stroke-width="0.20">32</text>
<line x1="276.67" y1="1176.30" x2="276.67" y2="1186.30" stroke="#000" stroke-width="2.80"/>
<text x="276.67" y="1215.30" font-size="27.00" text-anchor="middle" font-weight="bold" fill="#000" stroke="#000" stroke-width="0.20">16</text>
<line x1="352.44" y1="1176.30" x2="352.44" y2="1186.30" stroke="#000" stroke-width="2.80"/>
<text x="352.44" y="1215.30" font-size="27.00" text-anchor="middle" font-weight="bold" fill="#000" stroke="#000" stroke-width="0.20">8</text>
<line x1="428.21" y1="1176.30" x2="428.21" y2="1186.30" stroke="#000" stroke-width="2.80"/>
<text x="428.21" y="1215.30" font-size="27.00" text-anchor="middle" font-weight="bold" fill="#000" stroke="#000" stroke-width="0.20">4</text>
<line x1="503.98" y1="1176.30" x2="503.98" y2="1186.30" stroke="#000" stroke-width="2.80"/>
<text x="503.98" y="1215.30" font-size="27.00" text-anchor="middle" font-weight="bold" fill="#000" stroke="#000" stroke-width="0.20">2</text>
<line x1="579.75" y1="1176.30" x2="579.75" y2="1186.30" stroke="#000" stroke-width="2.80"/>
<text x="579.75" y="1215.30" font-size="27.00" text-anchor="middle" font-weight="bold" fill="#000" stroke="#000" stroke-width="0.20">1</text>
<line x1="655.52" y1="1176.30" x2="655.52" y2="1186.30" stroke="#000" stroke-width="2.80"/>
<text x="655.52" y="1215.30" font-size="27.00" text-anchor="middle" font-weight="bold" fill="#000" stroke="#000" stroke-width="0.20">0.5</text>
<line x1="731.29" y1="1176.30" x2="731.29" y2="1186.30" stroke="#000" stroke-width="2.80"/>
<text x="731.29" y="1215.30" font-size="27.00" text-anchor="middle" font-weight="bold" fill="#000" stroke="#000" stroke-width="0.20">0.25</text>
<text x="466.50" y="1269.60" font-size="29.10" text-anchor="middle" font-weight="normal" fill="#111" stroke="#111" stroke-width="0.45">Total Cell Lysate (µg)</text>
<text transform="translate(37.50,1156.60) rotate(-90)" font-size="29.00" text-anchor="start" font-weight="normal" fill="#111" stroke="#111" stroke-width="0.45">Total AHA/TAMRA-DIBO</text>
<text transform="translate(72.90,1145.60) rotate(-90)" font-size="29.00" text-anchor="start" font-weight="normal" fill="#111" stroke="#111" stroke-width="0.45">Fluorescence Intensity</text>
<text transform="translate(109.80,1115.80) rotate(-90)" font-size="28.70" text-anchor="start" font-weight="normal" fill="#111" stroke="#111" stroke-width="0.45">(Relative to 25 µg)</text>
<circle cx="227.89" cy="821.50" r="7.6" fill="#000"/>
<circle cx="303.66" cy="996.06" r="7.6" fill="#000"/>
<circle cx="379.43" cy="1085.12" r="7.6" fill="#000"/>
<circle cx="455.20" cy="1129.47" r="7.6" fill="#000"/>
<circle cx="530.97" cy="1154.30" r="7.6" fill="#000"/>
<circle cx="606.74" cy="1165.30" r="7.6" fill="#000"/>
<circle cx="682.51" cy="1170.27" r="7.6" fill="#000"/>
<path d="M1097.79,823.00 L1101.57,834.80 L1105.36,846.20 L1109.15,857.23 L1112.94,867.88 L1116.73,878.18 L1120.52,888.14 L1124.30,897.76 L1128.09,907.06 L1131.88,916.05 L1135.67,924.74 L1139.46,933.14 L1143.25,941.26 L1147.04,949.11 L1150.82,956.70 L1154.61,964.03 L1158.40,971.12 L1162.19,977.97 L1165.98,984.59 L1169.77,991.00 L1173.56,997.18 L1177.34,1003.17 L1181.13,1008.95 L1184.92,1014.54 L1188.71,1019.94 L1192.50,1025.16 L1196.29,1030.21 L1200.07,1035.08 L1203.86,1039.80 L1207.65,1044.36 L1211.44,1048.76 L1215.23,1053.02 L1219.02,1057.14 L1222.81,1061.12 L1226.59,1064.97 L1230.38,1068.68 L1234.17,1072.28 L1237.96,1075.75 L1241.75,1079.11 L1245.54,1082.35 L1249.33,1085.49 L1253.11,1088.52 L1256.90,1091.46 L1260.69,1094.29 L1264.48,1097.03 L1268.27,1099.67 L1272.06,1102.23 L1275.84,1104.71 L1279.63,1107.10 L1283.42,1109.41 L1287.21,1111.64 L1291.00,1113.80 L1294.79,1115.89 L1298.58,1117.91 L1302.36,1119.86 L1306.15,1121.74 L1309.94,1123.56 L1313.73,1125.32 L1317.52,1127.03 L1321.31,1128.67 L1325.10,1130.26 L1328.88,1131.80 L1332.67,1133.29 L1336.46,1134.72 L1340.25,1136.11 L1344.04,1137.45 L1347.83,1138.75 L1351.61,1140.00 L1355.40,1141.22 L1359.19,1142.39 L1362.98,1143.52 L1366.77,1144.61 L1370.56,1145.67 L1374.35,1146.70 L1378.13,1147.68 L1381.92,1148.64 L1385.71,1149.56 L1389.50,1150.46 L1393.29,1151.32 L1397.08,1152.15 L1400.87,1152.96 L1404.65,1153.74 L1408.44,1154.49 L1412.23,1155.22 L1416.02,1155.92 L1419.81,1156.61 L1423.60,1157.26 L1427.38,1157.90 L1431.17,1158.51 L1434.96,1159.11 L1438.75,1159.68 L1442.54,1160.24 L1446.33,1160.77 L1450.12,1161.29 L1453.90,1161.79 L1457.69,1162.28 L1461.48,1162.75 L1465.27,1163.20 L1469.06,1163.64 L1472.85,1164.06 L1476.64,1164.47 L1480.42,1164.86 L1484.21,1165.24 L1488.00,1165.61 L1491.79,1165.97 L1495.58,1166.32 L1499.37,1166.65 L1503.15,1166.97 L1506.94,1167.28 L1510.73,1167.58 L1514.52,1167.87 L1518.31,1168.16 L1522.10,1168.43 L1525.89,1168.69 L1529.67,1168.94 L1533.46,1169.19 L1537.25,1169.43 L1541.04,1169.66 L1544.83,1169.88 L1548.62,1170.09 L1552.41,1170.30" fill="none" stroke="#22c41e" stroke-width="4.0" stroke-dasharray="11 7"/>
<line x1="1070.80" y1="821.80" x2="1070.80" y2="1178.05" stroke="#000" stroke-width="3.60"/>
<line x1="1060.40" y1="1176.30" x2="1602.99" y2="1176.30" stroke="#000" stroke-width="3.40"/>
<line x1="1060.40" y1="1176.30" x2="1070.80" y2="1176.30" stroke="#000" stroke-width="2.80"/>
<text x="1056.80" y="1185.90" font-size="27.00" text-anchor="end" font-weight="bold" fill="#000" stroke="#000" stroke-width="0.20">0.0</text>
<line x1="1060.40" y1="1105.64" x2="1070.80" y2="1105.64" stroke="#000" stroke-width="2.80"/>
<text x="1056.80" y="1115.24" font-size="27.00" text-anchor="end" font-weight="bold" fill="#000" stroke="#000" stroke-width="0.20">0.2</text>
<line x1="1060.40" y1="1034.98" x2="1070.80" y2="1034.98" stroke="#000" stroke-width="2.80"/>
<text x="1056.80" y="1044.58" font-size="27.00" text-anchor="end" font-weight="bold" fill="#000" stroke="#000" stroke-width="0.20">0.4</text>
<line x1="1060.40" y1="964.32" x2="1070.80" y2="964.32" stroke="#000" stroke-width="2.80"/>
<text x="1056.80" y="973.92" font-size="27.00" text-anchor="end" font-weight="bold" fill="#000" stroke="#000" stroke-width="0.20">0.6</text>
<line x1="1060.40" y1="893.66" x2="1070.80" y2="893.66" stroke="#000" stroke-width="2.80"/>
<text x="1056.80" y="903.26" font-size="27.00" text-anchor="end" font-weight="bold" fill="#000" stroke="#000" stroke-width="0.20">0.8</text>
<line x1="1060.40" y1="823.00" x2="1070.80" y2="823.00" stroke="#000" stroke-width="2.80"/>
<text x="1056.80" y="832.60" font-size="27.00" text-anchor="end" font-weight="bold" fill="#000" stroke="#000" stroke-width="0.20">1.0</text>
<line x1="1070.80" y1="1176.30" x2="1070.80" y2="1186.30" stroke="#000" stroke-width="2.80"/>
<text x="1070.80" y="1215.30" font-size="27.00" text-anchor="middle" font-weight="bold" fill="#000" stroke="#000" stroke-width="0.20">32</text>
<line x1="1146.57" y1="1176.30" x2="1146.57" y2="1186.30" stroke="#000" stroke-width="2.80"/>
<text x="1146.57" y="1215.30" font-size="27.00" text-anchor="middle" font-weight="bold" fill="#000" stroke="#000" stroke-width="0.20">16</text>
<line x1="1222.34" y1="1176.30" x2="1222.34" y2="1186.30" stroke="#000" stroke-width="2.80"/>
<text x="1222.34" y="1215.30" font-size="27.00" text-anchor="middle" font-weight="bold" fill="#000" stroke="#000" stroke-width="0.20">8</text>
<line x1="1298.11" y1="1176.30" x2="1298.11" y2="1186.30" stroke="#000" stroke-width="2.80"/>
<text x="1298.11" y="1215.30" font-size="27.00" text-anchor="middle" font-weight="bold" fill="#000" stroke="#000" stroke-width="0.20">4</text>
<line x1="1373.88" y1="1176.30" x2="1373.88" y2="1186.30" stroke="#000" stroke-width="2.80"/>
<text x="1373.88" y="1215.30" font-size="27.00" text-anchor="middle" font-weight="bold" fill="#000" stroke="#000" stroke-width="0.20">2</text>
<line x1="1449.65" y1="1176.30" x2="1449.65" y2="1186.30" stroke="#000" stroke-width="2.80"/>
<text x="1449.65" y="1215.30" font-size="27.00" text-anchor="middle" font-weight="bold" fill="#000" stroke="#000" stroke-width="0.20">1</text>
<line x1="1525.42" y1="1176.30" x2="1525.42" y2="1186.30" stroke="#000" stroke-width="2.80"/>
<text x="1525.42" y="1215.30" font-size="27.00" text-anchor="middle" font-weight="bold" fill="#000" stroke="#000" stroke-width="0.20">0.5</text>
<line x1="1601.19" y1="1176.30" x2="1601.19" y2="1186.30" stroke="#000" stroke-width="2.80"/>
<text x="1601.19" y="1215.30" font-size="27.00" text-anchor="middle" font-weight="bold" fill="#000" stroke="#000" stroke-width="0.20">0.25</text>
<text x="1336.40" y="1269.60" font-size="29.10" text-anchor="middle" font-weight="normal" fill="#111" stroke="#111" stroke-width="0.45">Total Cell Lysate (µg)</text>
<text transform="translate(908.00,1136.60) rotate(-90)" font-size="29.00" text-anchor="start" font-weight="normal" fill="#111" stroke="#111" stroke-width="0.45">Total AHA/488-DBCO</text>
<text transform="translate(943.60,1144.20) rotate(-90)" font-size="29.00" text-anchor="start" font-weight="normal" fill="#111" stroke="#111" stroke-width="0.45">Fluorescence Intensity</text>
<text transform="translate(980.50,1114.70) rotate(-90)" font-size="28.70" text-anchor="start" font-weight="normal" fill="#111" stroke="#111" stroke-width="0.45">(Relative to 25 µg)</text>
<circle cx="1097.79" cy="823.00" r="7.6" fill="#000"/>
<circle cx="1173.56" cy="995.41" r="7.6" fill="#000"/>
<circle cx="1249.33" cy="1085.50" r="7.6" fill="#000"/>
<circle cx="1325.10" cy="1129.66" r="7.6" fill="#000"/>
<circle cx="1400.87" cy="1153.69" r="7.6" fill="#000"/>
<circle cx="1476.64" cy="1165.35" r="7.6" fill="#000"/>
<circle cx="1552.41" cy="1169.23" r="7.6" fill="#000"/>
<path d="M1967.29,823.00 L1971.07,825.21 L1974.86,827.77 L1978.65,830.65 L1982.44,833.83 L1986.23,837.27 L1990.02,840.96 L1993.80,844.87 L1997.59,848.97 L2001.38,853.25 L2005.17,857.67 L2008.96,862.21 L2012.75,866.84 L2016.54,871.54 L2020.32,876.28 L2024.11,881.05 L2027.90,885.80 L2031.69,890.53 L2035.48,895.20 L2039.27,899.78 L2043.06,904.26 L2046.84,908.73 L2050.63,913.32 L2054.42,917.99 L2058.21,922.75 L2062.00,927.59 L2065.79,932.47 L2069.57,937.40 L2073.36,942.36 L2077.15,947.34 L2080.94,952.33 L2084.73,957.31 L2088.52,962.27 L2092.31,967.19 L2096.09,972.07 L2099.88,976.89 L2103.67,981.63 L2107.46,986.30 L2111.25,990.86 L2115.04,995.32 L2118.83,999.65 L2122.61,1003.90 L2126.40,1008.13 L2130.19,1012.33 L2133.98,1016.49 L2137.77,1020.61 L2141.56,1024.69 L2145.34,1028.72 L2149.13,1032.69 L2152.92,1036.62 L2156.71,1040.48 L2160.50,1044.28 L2164.29,1048.01 L2168.08,1051.66 L2171.86,1055.25 L2175.65,1058.75 L2179.44,1062.16 L2183.23,1065.49 L2187.02,1068.73 L2190.81,1071.87 L2194.60,1074.90 L2198.38,1077.83 L2202.17,1080.65 L2205.96,1083.37 L2209.75,1086.00 L2213.54,1088.53 L2217.33,1090.97 L2221.11,1093.33 L2224.90,1095.62 L2228.69,1097.84 L2232.48,1099.99 L2236.27,1102.08 L2240.06,1104.11 L2243.85,1106.10 L2247.63,1108.04 L2251.42,1109.95 L2255.21,1111.82 L2259.00,1113.66 L2262.79,1115.48 L2266.58,1117.28 L2270.37,1119.07 L2274.15,1120.82 L2277.94,1122.53 L2281.73,1124.20 L2285.52,1125.81 L2289.31,1127.38 L2293.10,1128.91 L2296.88,1130.39 L2300.67,1131.83 L2304.46,1133.23 L2308.25,1134.59 L2312.04,1135.91 L2315.83,1137.19 L2319.62,1138.44 L2323.40,1139.66 L2327.19,1140.83 L2330.98,1141.98 L2334.77,1143.10 L2338.56,1144.18 L2342.35,1145.24 L2346.14,1146.27 L2349.92,1147.27 L2353.71,1148.23 L2357.50,1149.16 L2361.29,1150.05 L2365.08,1150.91 L2368.87,1151.73 L2372.65,1152.52 L2376.44,1153.28 L2380.23,1154.00 L2384.02,1154.68 L2387.81,1155.33 L2391.60,1155.95 L2395.39,1156.54 L2399.17,1157.09 L2402.96,1157.61 L2406.75,1158.09 L2410.54,1158.54 L2414.33,1158.96 L2418.12,1159.34 L2421.91,1159.69" fill="none" stroke="#8a8a8a" stroke-width="3.5" stroke-dasharray="11 7"/>
<line x1="1940.30" y1="821.80" x2="1940.30" y2="1178.05" stroke="#000" stroke-width="3.60"/>
<line x1="1929.90" y1="1176.30" x2="2472.49" y2="1176.30" stroke="#000" stroke-width="3.40"/>
<line x1="1929.90" y1="1176.30" x2="1940.30" y2="1176.30" stroke="#000" stroke-width="2.80"/>
<text x="1926.30" y="1185.90" font-size="27.00" text-anchor="end" font-weight="bold" fill="#000" stroke="#000" stroke-width="0.20">0.0</text>
<line x1="1929.90" y1="1105.64" x2="1940.30" y2="1105.64" stroke="#000" stroke-width="2.80"/>
<text x="1926.30" y="1115.24" font-size="27.00" text-anchor="end" font-weight="bold" fill="#000" stroke="#000" stroke-width="0.20">0.2</text>
<line x1="1929.90" y1="1034.98" x2="1940.30" y2="1034.98" stroke="#000" stroke-width="2.80"/>
<text x="1926.30" y="1044.58" font-size="27.00" text-anchor="end" font-weight="bold" fill="#000" stroke="#000" stroke-width="0.20">0.4</text>
<line x1="1929.90" y1="964.32" x2="1940.30" y2="964.32" stroke="#000" stroke-width="2.80"/>
<text x="1926.30" y="973.92" font-size="27.00" text-anchor="end" font-weight="bold" fill="#000" stroke="#000" stroke-width="0.20">0.6</text>
<line x1="1929.90" y1="893.66" x2="1940.30" y2="893.66" stroke="#000" stroke-width="2.80"/>
<text x="1926.30" y="903.26" font-size="27.00" text-anchor="end" font-weight="bold" fill="#000" stroke="#000" stroke-width="0.20">0.8</text>
<line x1="1929.90" y1="823.00" x2="1940.30" y2="823.00" stroke="#000" stroke-width="2.80"/>
<text x="1926.30" y="832.60" font-size="27.00" text-anchor="end" font-weight="bold" fill="#000" stroke="#000" stroke-width="0.20">1.0</text>
<line x1="1940.30" y1="1176.30" x2="1940.30" y2="1186.30" stroke="#000" stroke-width="2.80"/>
<text x="1940.30" y="1215.30" font-size="27.00" text-anchor="middle" font-weight="bold" fill="#000" stroke="#000" stroke-width="0.20">32</text>
<line x1="2016.07" y1="1176.30" x2="2016.07" y2="1186.30" stroke="#000" stroke-width="2.80"/>
<text x="2016.07" y="1215.30" font-size="27.00" text-anchor="middle" font-weight="bold" fill="#000" stroke="#000" stroke-width="0.20">16</text>
<line x1="2091.84" y1="1176.30" x2="2091.84" y2="1186.30" stroke="#000" stroke-width="2.80"/>
<text x="2091.84" y="1215.30" font-size="27.00" text-anchor="middle" font-weight="bold" fill="#000" stroke="#000" stroke-width="0.20">8</text>
<line x1="2167.61" y1="1176.30" x2="2167.61" y2="1186.30" stroke="#000" stroke-width="2.80"/>
<text x="2167.61" y="1215.30" font-size="27.00" text-anchor="middle" font-weight="bold" fill="#000" stroke="#000" stroke-width="0.20">4</text>
<line x1="2243.38" y1="1176.30" x2="2243.38" y2="1186.30" stroke="#000" stroke-width="2.80"/>
<text x="2243.38" y="1215.30" font-size="27.00" text-anchor="middle" font-weight="bold" fill="#000" stroke="#000" stroke-width="0.20">2</text>
<line x1="2319.15" y1="1176.30" x2="2319.15" y2="1186.30" stroke="#000" stroke-width="2.80"/>
<text x="2319.15" y="1215.30" font-size="27.00" text-anchor="middle" font-weight="bold" fill="#000" stroke="#000" stroke-width="0.20">1</text>
<line x1="2394.92" y1="1176.30" x2="2394.92" y2="1186.30" stroke="#000" stroke-width="2.80"/>
<text x="2394.92" y="1215.30" font-size="27.00" text-anchor="middle" font-weight="bold" fill="#000" stroke="#000" stroke-width="0.20">0.5</text>
<line x1="2470.69" y1="1176.30" x2="2470.69" y2="1186.30" stroke="#000" stroke-width="2.80"/>
<text x="2470.69" y="1215.30" font-size="27.00" text-anchor="middle" font-weight="bold" fill="#000" stroke="#000" stroke-width="0.20">0.25</text>
<text x="2205.90" y="1269.60" font-size="29.10" text-anchor="middle" font-weight="normal" fill="#111" stroke="#111" stroke-width="0.45">Total Cell Lysate (µg)</text>
<text transform="translate(1775.50,1144.30) rotate(-90)" font-size="29.00" text-anchor="start" font-weight="normal" fill="#111" stroke="#111" stroke-width="0.45">Total AHA/Biotin-DIBO</text>
<text transform="translate(1811.60,1186.60) rotate(-90)" font-size="29.00" text-anchor="start" font-weight="normal" fill="#111" stroke="#111" stroke-width="0.45">Chemiluminescence Intensity</text>
<text transform="translate(1848.10,1115.00) rotate(-90)" font-size="28.70" text-anchor="start" font-weight="normal" fill="#111" stroke="#111" stroke-width="0.45">(Relative to 25 µg)</text>
<line x1="2043.06" y1="894.37" x2="2043.06" y2="936.76" stroke="#000" stroke-width="2.60"/>
<line x1="2035.66" y1="894.37" x2="2050.46" y2="894.37" stroke="#000" stroke-width="2.60"/>
<line x1="2035.66" y1="936.76" x2="2050.46" y2="936.76" stroke="#000" stroke-width="2.60"/>
<line x1="2118.83" y1="993.29" x2="2118.83" y2="1007.42" stroke="#000" stroke-width="2.60"/>
<line x1="2111.43" y1="993.29" x2="2126.23" y2="993.29" stroke="#000" stroke-width="2.60"/>
<line x1="2111.43" y1="1007.42" x2="2126.23" y2="1007.42" stroke="#000" stroke-width="2.60"/>
<circle cx="1967.29" cy="823.00" r="7.6" fill="#000"/>
<circle cx="2043.06" cy="915.56" r="7.6" fill="#000"/>
<circle cx="2118.83" cy="1000.36" r="7.6" fill="#000"/>
<circle cx="2194.60" cy="1075.26" r="7.6" fill="#000"/>
<circle cx="2270.37" cy="1119.07" r="7.6" fill="#000"/>
<circle cx="2346.14" cy="1146.27" r="7.6" fill="#000"/>
<circle cx="2421.91" cy="1159.69" r="7.6" fill="#000"/>
</svg>
</body></html>
